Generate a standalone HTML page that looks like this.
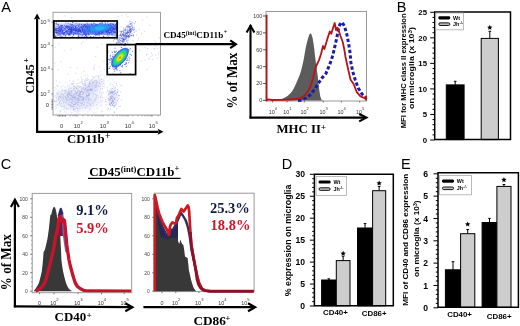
<!DOCTYPE html>
<html><head><meta charset="utf-8"><style>
html,body{margin:0;padding:0;background:#fff;}
body{width:520px;height:326px;overflow:hidden;}
svg{display:block;will-change:transform;}
text{white-space:pre;}
</style></head><body>
<svg width="520" height="326" viewBox="0 0 520 326">
<rect width="520" height="326" fill="#fff"/>
<text x="1.3" y="11.9" style="font-family:'Liberation Sans',sans-serif;font-size:14.5px" fill="#000" text-anchor="start" >A</text>
<text x="396.8" y="11.8" style="font-family:'Liberation Sans',sans-serif;font-size:14.5px" fill="#000" text-anchor="start" >B</text>
<text x="0.8" y="168.9" style="font-family:'Liberation Sans',sans-serif;font-size:14.5px" fill="#000" text-anchor="start" >C</text>
<text x="281.8" y="168.9" style="font-family:'Liberation Sans',sans-serif;font-size:14.5px" fill="#000" text-anchor="start" >D</text>
<text x="400.9" y="168.7" style="font-family:'Liberation Sans',sans-serif;font-size:14.5px" fill="#000" text-anchor="start" >E</text>
<g>
<rect x="120.3" y="26.4" width="1" height="1" fill="#9098d8" fill-opacity="0.45"/>
<rect x="149.1" y="24.7" width="1" height="1" fill="#9098d8" fill-opacity="0.45"/>
<rect x="136.2" y="34.4" width="1" height="1" fill="#9098d8" fill-opacity="0.45"/>
<rect x="77.9" y="23.6" width="1" height="1" fill="#9098d8" fill-opacity="0.45"/>
<rect x="85.8" y="33.4" width="1" height="1" fill="#9098d8" fill-opacity="0.45"/>
<rect x="146.6" y="68.9" width="1" height="1" fill="#9098d8" fill-opacity="0.45"/>
<rect x="54.6" y="46.8" width="1" height="1" fill="#9098d8" fill-opacity="0.45"/>
<rect x="141.1" y="33.1" width="1" height="1" fill="#9098d8" fill-opacity="0.45"/>
<rect x="138.5" y="29.0" width="1" height="1" fill="#9098d8" fill-opacity="0.45"/>
<rect x="103.6" y="69.2" width="1" height="1" fill="#9098d8" fill-opacity="0.45"/>
<rect x="86.1" y="39.2" width="1" height="1" fill="#9098d8" fill-opacity="0.45"/>
<rect x="83.5" y="70.8" width="1" height="1" fill="#9098d8" fill-opacity="0.45"/>
<rect x="81.0" y="43.4" width="1" height="1" fill="#9098d8" fill-opacity="0.45"/>
<rect x="101.2" y="43.7" width="1" height="1" fill="#9098d8" fill-opacity="0.45"/>
<rect x="107.5" y="65.9" width="1" height="1" fill="#9098d8" fill-opacity="0.45"/>
<rect x="112.7" y="56.8" width="1" height="1" fill="#9098d8" fill-opacity="0.45"/>
<rect x="159.5" y="47.3" width="1" height="1" fill="#9098d8" fill-opacity="0.45"/>
<rect x="138.0" y="38.2" width="1" height="1" fill="#9098d8" fill-opacity="0.45"/>
<rect x="120.0" y="64.8" width="1" height="1" fill="#9098d8" fill-opacity="0.45"/>
<rect x="158.8" y="37.3" width="1" height="1" fill="#9098d8" fill-opacity="0.45"/>
<rect x="76.8" y="67.4" width="1" height="1" fill="#9098d8" fill-opacity="0.45"/>
<rect x="71.0" y="17.1" width="1" height="1" fill="#9098d8" fill-opacity="0.45"/>
<rect x="118.9" y="38.4" width="1" height="1" fill="#9098d8" fill-opacity="0.45"/>
<rect x="58.7" y="43.7" width="1" height="1" fill="#9098d8" fill-opacity="0.45"/>
<rect x="57.8" y="69.1" width="1" height="1" fill="#9098d8" fill-opacity="0.45"/>
<rect x="108.6" y="27.8" width="1" height="1" fill="#9098d8" fill-opacity="0.45"/>
<rect x="103.4" y="60.6" width="1" height="1" fill="#9098d8" fill-opacity="0.45"/>
<rect x="151.2" y="52.9" width="1" height="1" fill="#9098d8" fill-opacity="0.45"/>
<rect x="120.7" y="55.3" width="1" height="1" fill="#9098d8" fill-opacity="0.45"/>
<rect x="108.5" y="50.1" width="1" height="1" fill="#9098d8" fill-opacity="0.45"/>
<rect x="106.7" y="70.3" width="1" height="1" fill="#9098d8" fill-opacity="0.45"/>
<rect x="80.2" y="32.6" width="1" height="1" fill="#9098d8" fill-opacity="0.45"/>
<rect x="55.3" y="36.5" width="1" height="1" fill="#9098d8" fill-opacity="0.45"/>
<rect x="74.4" y="25.0" width="1" height="1" fill="#9098d8" fill-opacity="0.45"/>
<rect x="127.4" y="16.0" width="1" height="1" fill="#9098d8" fill-opacity="0.45"/>
<rect x="75.3" y="25.6" width="1" height="1" fill="#9098d8" fill-opacity="0.45"/>
<rect x="93.2" y="67.0" width="1" height="1" fill="#9098d8" fill-opacity="0.45"/>
<rect x="54.4" y="62.6" width="1" height="1" fill="#9098d8" fill-opacity="0.45"/>
<rect x="142.0" y="19.6" width="1" height="1" fill="#9098d8" fill-opacity="0.45"/>
<rect x="70.4" y="48.6" width="1" height="1" fill="#9098d8" fill-opacity="0.45"/>
<rect x="82.4" y="41.3" width="1" height="1" fill="#9098d8" fill-opacity="0.45"/>
<rect x="147.3" y="48.1" width="1" height="1" fill="#9098d8" fill-opacity="0.45"/>
<rect x="108.0" y="51.9" width="1" height="1" fill="#9098d8" fill-opacity="0.45"/>
<rect x="143.8" y="31.1" width="1" height="1" fill="#9098d8" fill-opacity="0.45"/>
<rect x="121.8" y="69.7" width="1" height="1" fill="#9098d8" fill-opacity="0.45"/>
<rect x="132.6" y="40.5" width="1" height="1" fill="#9098d8" fill-opacity="0.45"/>
<rect x="63.7" y="50.1" width="1" height="1" fill="#9098d8" fill-opacity="0.45"/>
<rect x="111.4" y="50.5" width="1" height="1" fill="#9098d8" fill-opacity="0.45"/>
<rect x="107.8" y="23.8" width="1" height="1" fill="#9098d8" fill-opacity="0.45"/>
<rect x="146.4" y="16.7" width="1" height="1" fill="#9098d8" fill-opacity="0.45"/>
<rect x="92.3" y="37.3" width="1" height="1" fill="#9098d8" fill-opacity="0.45"/>
<rect x="117.4" y="58.1" width="1" height="1" fill="#9098d8" fill-opacity="0.45"/>
<rect x="60.3" y="61.1" width="1" height="1" fill="#9098d8" fill-opacity="0.45"/>
<rect x="95.1" y="56.1" width="1" height="1" fill="#9098d8" fill-opacity="0.45"/>
<rect x="88.2" y="19.7" width="1" height="1" fill="#9098d8" fill-opacity="0.45"/>
<rect x="69.9" y="66.9" width="1" height="1" fill="#9098d8" fill-opacity="0.45"/>
<rect x="140.5" y="60.3" width="1" height="1" fill="#9098d8" fill-opacity="0.45"/>
<rect x="94.2" y="64.8" width="1" height="1" fill="#9098d8" fill-opacity="0.45"/>
<rect x="157.7" y="43.9" width="1" height="1" fill="#9098d8" fill-opacity="0.45"/>
<rect x="116.5" y="67.0" width="1" height="1" fill="#9098d8" fill-opacity="0.45"/>
<rect x="118.1" y="15.8" width="1" height="1" fill="#9098d8" fill-opacity="0.45"/>
<rect x="121.6" y="14.8" width="1" height="1" fill="#9098d8" fill-opacity="0.45"/>
<rect x="125.7" y="14.2" width="1" height="1" fill="#9098d8" fill-opacity="0.45"/>
<rect x="70.0" y="27.9" width="1" height="1" fill="#9098d8" fill-opacity="0.45"/>
<rect x="100.7" y="27.7" width="1" height="1" fill="#9098d8" fill-opacity="0.45"/>
<rect x="79.4" y="24.1" width="1" height="1" fill="#9098d8" fill-opacity="0.45"/>
<rect x="96.7" y="46.5" width="1" height="1" fill="#9098d8" fill-opacity="0.45"/>
<rect x="64.3" y="15.3" width="1" height="1" fill="#9098d8" fill-opacity="0.45"/>
<rect x="156.6" y="47.8" width="1" height="1" fill="#9098d8" fill-opacity="0.45"/>
<rect x="76.8" y="22.8" width="1" height="1" fill="#9098d8" fill-opacity="0.45"/>
<rect x="101.7" y="100.5" width="1" height="1" fill="#9098d8" fill-opacity="0.45"/>
<rect x="75.3" y="72.9" width="1" height="1" fill="#9098d8" fill-opacity="0.45"/>
<rect x="116.1" y="85.0" width="1" height="1" fill="#9098d8" fill-opacity="0.45"/>
<rect x="101.0" y="111.4" width="1" height="1" fill="#9098d8" fill-opacity="0.45"/>
<rect x="63.3" y="94.6" width="1" height="1" fill="#9098d8" fill-opacity="0.45"/>
<rect x="114.0" y="106.1" width="1" height="1" fill="#9098d8" fill-opacity="0.45"/>
<rect x="121.1" y="99.6" width="1" height="1" fill="#9098d8" fill-opacity="0.45"/>
<rect x="118.2" y="97.7" width="1" height="1" fill="#9098d8" fill-opacity="0.45"/>
<rect x="94.5" y="80.0" width="1" height="1" fill="#9098d8" fill-opacity="0.45"/>
<rect x="64.3" y="96.1" width="1" height="1" fill="#9098d8" fill-opacity="0.45"/>
<rect x="67.7" y="73.7" width="1" height="1" fill="#9098d8" fill-opacity="0.45"/>
<rect x="119.9" y="105.7" width="1" height="1" fill="#9098d8" fill-opacity="0.45"/>
<rect x="93.2" y="112.3" width="1" height="1" fill="#9098d8" fill-opacity="0.45"/>
<rect x="66.8" y="107.9" width="1" height="1" fill="#9098d8" fill-opacity="0.45"/>
<rect x="116.8" y="74.1" width="1" height="1" fill="#9098d8" fill-opacity="0.45"/>
<rect x="99.6" y="86.2" width="1" height="1" fill="#9098d8" fill-opacity="0.45"/>
<rect x="94.4" y="85.4" width="1" height="1" fill="#9098d8" fill-opacity="0.45"/>
<rect x="80.7" y="76.7" width="1" height="1" fill="#9098d8" fill-opacity="0.45"/>
<rect x="83.2" y="98.3" width="1" height="1" fill="#9098d8" fill-opacity="0.45"/>
<rect x="71.0" y="105.5" width="1" height="1" fill="#9098d8" fill-opacity="0.45"/>
<rect x="56.7" y="85.2" width="1" height="1" fill="#9098d8" fill-opacity="0.45"/>
<rect x="116.2" y="108.2" width="1" height="1" fill="#9098d8" fill-opacity="0.45"/>
<rect x="87.2" y="105.5" width="1" height="1" fill="#9098d8" fill-opacity="0.45"/>
<rect x="92.9" y="77.4" width="1" height="1" fill="#9098d8" fill-opacity="0.45"/>
<rect x="76.9" y="104.2" width="1" height="1" fill="#9098d8" fill-opacity="0.45"/>
<rect x="107.3" y="109.1" width="1" height="1" fill="#9098d8" fill-opacity="0.45"/>
<rect x="55.8" y="80.3" width="1" height="1" fill="#9098d8" fill-opacity="0.45"/>
<rect x="80.4" y="96.1" width="1" height="1" fill="#9098d8" fill-opacity="0.45"/>
<rect x="56.2" y="98.8" width="1" height="1" fill="#9098d8" fill-opacity="0.45"/>
<rect x="62.7" y="97.6" width="1" height="1" fill="#9098d8" fill-opacity="0.45"/>
<rect x="159.2" y="42.1" width="1" height="1" fill="#9098d8" fill-opacity="0.45"/>
<rect x="151.8" y="54.5" width="1" height="1" fill="#9098d8" fill-opacity="0.45"/>
<rect x="146.3" y="53.9" width="1" height="1" fill="#9098d8" fill-opacity="0.45"/>
<rect x="148.6" y="58.1" width="1" height="1" fill="#9098d8" fill-opacity="0.45"/>
<rect x="156.9" y="57.7" width="1" height="1" fill="#9098d8" fill-opacity="0.45"/>
<rect x="144.3" y="47.2" width="1" height="1" fill="#9098d8" fill-opacity="0.45"/>
<rect x="150.2" y="55.9" width="1" height="1" fill="#9098d8" fill-opacity="0.45"/>
<rect x="152.4" y="59.1" width="1" height="1" fill="#9098d8" fill-opacity="0.45"/>
<rect x="144.5" y="59.6" width="1" height="1" fill="#9098d8" fill-opacity="0.45"/>
<rect x="148.5" y="43.6" width="1" height="1" fill="#9098d8" fill-opacity="0.45"/>
<rect x="154.4" y="40.6" width="1" height="1" fill="#9098d8" fill-opacity="0.45"/>
<rect x="157.8" y="54.3" width="1" height="1" fill="#9098d8" fill-opacity="0.45"/>
<rect x="139.6" y="44.7" width="1" height="1" fill="#9098d8" fill-opacity="0.45"/>
<rect x="158.4" y="52.4" width="1" height="1" fill="#9098d8" fill-opacity="0.45"/>
<rect x="136.1" y="60.8" width="1" height="1" fill="#9098d8" fill-opacity="0.45"/>
<rect x="154.1" y="48.3" width="1" height="1" fill="#9098d8" fill-opacity="0.45"/>
<rect x="155.5" y="45.6" width="1" height="1" fill="#9098d8" fill-opacity="0.45"/>
<rect x="139.3" y="50.0" width="1" height="1" fill="#9098d8" fill-opacity="0.45"/>
<rect x="146.1" y="54.5" width="1" height="1" fill="#9098d8" fill-opacity="0.45"/>
<rect x="155.6" y="42.2" width="1" height="1" fill="#9098d8" fill-opacity="0.45"/>
<rect x="136.3" y="48.4" width="1" height="1" fill="#9098d8" fill-opacity="0.45"/>
<rect x="151.1" y="42.9" width="1" height="1" fill="#9098d8" fill-opacity="0.45"/>
<rect x="155.0" y="54.6" width="1" height="1" fill="#9098d8" fill-opacity="0.45"/>
<rect x="148.3" y="58.3" width="1" height="1" fill="#9098d8" fill-opacity="0.45"/>
<rect x="153.4" y="48.3" width="1" height="1" fill="#9098d8" fill-opacity="0.45"/>
<defs><radialGradient id="hz"><stop offset="0" stop-color="#b8bdec" stop-opacity="0.55"/><stop offset="0.6" stop-color="#c8ccf0" stop-opacity="0.35"/><stop offset="1" stop-color="#d0d4f4" stop-opacity="0"/></radialGradient></defs>
<ellipse cx="78" cy="99" rx="30" ry="15" fill="url(#hz)"/>
<ellipse cx="93" cy="86" rx="14" ry="8" fill="url(#hz)" transform="rotate(-25,93,86)"/>
<ellipse cx="113" cy="97" rx="7" ry="11" fill="url(#hz)"/>
<rect x="64.3" y="111.3" width="1.0" height="1.0" fill="#7c84d4" fill-opacity="0.3"/>
<rect x="66.6" y="99.9" width="1.0" height="1.0" fill="#7c84d4" fill-opacity="0.3"/>
<rect x="92.7" y="102.6" width="1.0" height="1.0" fill="#7c84d4" fill-opacity="0.3"/>
<rect x="74.7" y="92.4" width="1.0" height="1.0" fill="#7c84d4" fill-opacity="0.3"/>
<rect x="57.6" y="85.8" width="1.0" height="1.0" fill="#7c84d4" fill-opacity="0.3"/>
<rect x="60.8" y="87.5" width="1.0" height="1.0" fill="#7c84d4" fill-opacity="0.3"/>
<rect x="89.8" y="104.3" width="1.0" height="1.0" fill="#7c84d4" fill-opacity="0.3"/>
<rect x="76.2" y="92.9" width="1.0" height="1.0" fill="#7c84d4" fill-opacity="0.3"/>
<rect x="74.7" y="97.9" width="1.0" height="1.0" fill="#7c84d4" fill-opacity="0.3"/>
<rect x="73.3" y="100.7" width="1.0" height="1.0" fill="#7c84d4" fill-opacity="0.3"/>
<rect x="74.5" y="104.0" width="1.0" height="1.0" fill="#7c84d4" fill-opacity="0.3"/>
<rect x="85.3" y="96.3" width="1.0" height="1.0" fill="#7c84d4" fill-opacity="0.3"/>
<rect x="81.7" y="103.0" width="1.0" height="1.0" fill="#7c84d4" fill-opacity="0.3"/>
<rect x="77.0" y="91.9" width="1.0" height="1.0" fill="#7c84d4" fill-opacity="0.3"/>
<rect x="59.4" y="96.1" width="1.0" height="1.0" fill="#7c84d4" fill-opacity="0.3"/>
<rect x="81.2" y="90.8" width="1.0" height="1.0" fill="#7c84d4" fill-opacity="0.3"/>
<rect x="64.4" y="108.1" width="1.0" height="1.0" fill="#7c84d4" fill-opacity="0.3"/>
<rect x="89.3" y="98.8" width="1.0" height="1.0" fill="#7c84d4" fill-opacity="0.3"/>
<rect x="56.2" y="93.1" width="1.0" height="1.0" fill="#7c84d4" fill-opacity="0.3"/>
<rect x="72.1" y="96.2" width="1.0" height="1.0" fill="#7c84d4" fill-opacity="0.3"/>
<rect x="73.9" y="97.2" width="1.0" height="1.0" fill="#7c84d4" fill-opacity="0.3"/>
<rect x="55.5" y="104.6" width="1.0" height="1.0" fill="#7c84d4" fill-opacity="0.3"/>
<rect x="98.1" y="86.2" width="1.0" height="1.0" fill="#7c84d4" fill-opacity="0.3"/>
<rect x="94.4" y="90.7" width="1.0" height="1.0" fill="#7c84d4" fill-opacity="0.3"/>
<rect x="67.5" y="96.0" width="1.0" height="1.0" fill="#7c84d4" fill-opacity="0.3"/>
<rect x="79.3" y="106.6" width="1.0" height="1.0" fill="#7c84d4" fill-opacity="0.3"/>
<rect x="77.5" y="104.7" width="1.0" height="1.0" fill="#7c84d4" fill-opacity="0.3"/>
<rect x="75.2" y="97.1" width="1.0" height="1.0" fill="#7c84d4" fill-opacity="0.3"/>
<rect x="58.9" y="96.1" width="1.0" height="1.0" fill="#7c84d4" fill-opacity="0.3"/>
<rect x="70.2" y="108.7" width="1.0" height="1.0" fill="#7c84d4" fill-opacity="0.3"/>
<rect x="71.5" y="103.0" width="1.0" height="1.0" fill="#7c84d4" fill-opacity="0.3"/>
<rect x="90.6" y="104.4" width="1.0" height="1.0" fill="#7c84d4" fill-opacity="0.3"/>
<rect x="78.7" y="94.9" width="1.0" height="1.0" fill="#7c84d4" fill-opacity="0.3"/>
<rect x="73.9" y="114.4" width="1.0" height="1.0" fill="#7c84d4" fill-opacity="0.3"/>
<rect x="95.4" y="112.7" width="1.0" height="1.0" fill="#7c84d4" fill-opacity="0.3"/>
<rect x="66.2" y="103.5" width="1.0" height="1.0" fill="#7c84d4" fill-opacity="0.3"/>
<rect x="68.5" y="104.5" width="1.0" height="1.0" fill="#7c84d4" fill-opacity="0.3"/>
<rect x="96.0" y="104.1" width="1.0" height="1.0" fill="#7c84d4" fill-opacity="0.3"/>
<rect x="87.5" y="97.4" width="1.0" height="1.0" fill="#7c84d4" fill-opacity="0.3"/>
<rect x="86.8" y="102.5" width="1.0" height="1.0" fill="#7c84d4" fill-opacity="0.3"/>
<rect x="83.4" y="104.5" width="1.0" height="1.0" fill="#7c84d4" fill-opacity="0.3"/>
<rect x="75.5" y="96.3" width="1.0" height="1.0" fill="#7c84d4" fill-opacity="0.3"/>
<rect x="77.0" y="85.5" width="1.0" height="1.0" fill="#7c84d4" fill-opacity="0.3"/>
<rect x="70.5" y="101.9" width="1.0" height="1.0" fill="#7c84d4" fill-opacity="0.3"/>
<rect x="71.1" y="93.1" width="1.0" height="1.0" fill="#7c84d4" fill-opacity="0.3"/>
<rect x="74.8" y="96.4" width="1.0" height="1.0" fill="#7c84d4" fill-opacity="0.3"/>
<rect x="95.2" y="94.2" width="1.0" height="1.0" fill="#7c84d4" fill-opacity="0.3"/>
<rect x="81.8" y="96.3" width="1.0" height="1.0" fill="#7c84d4" fill-opacity="0.3"/>
<rect x="73.2" y="80.5" width="1.0" height="1.0" fill="#7c84d4" fill-opacity="0.3"/>
<rect x="65.9" y="108.7" width="1.0" height="1.0" fill="#7c84d4" fill-opacity="0.3"/>
<rect x="65.1" y="101.0" width="1.0" height="1.0" fill="#7c84d4" fill-opacity="0.3"/>
<rect x="96.4" y="107.9" width="1.0" height="1.0" fill="#7c84d4" fill-opacity="0.3"/>
<rect x="74.9" y="99.2" width="1.0" height="1.0" fill="#7c84d4" fill-opacity="0.3"/>
<rect x="69.2" y="84.6" width="1.0" height="1.0" fill="#7c84d4" fill-opacity="0.3"/>
<rect x="58.5" y="91.8" width="1.0" height="1.0" fill="#7c84d4" fill-opacity="0.3"/>
<rect x="73.1" y="89.3" width="1.0" height="1.0" fill="#7c84d4" fill-opacity="0.3"/>
<rect x="86.2" y="95.0" width="1.0" height="1.0" fill="#7c84d4" fill-opacity="0.3"/>
<rect x="68.5" y="99.6" width="1.0" height="1.0" fill="#7c84d4" fill-opacity="0.3"/>
<rect x="70.8" y="83.0" width="1.0" height="1.0" fill="#7c84d4" fill-opacity="0.3"/>
<rect x="70.9" y="101.7" width="1.0" height="1.0" fill="#7c84d4" fill-opacity="0.3"/>
<rect x="75.5" y="86.9" width="1.0" height="1.0" fill="#7c84d4" fill-opacity="0.3"/>
<rect x="70.7" y="98.1" width="1.0" height="1.0" fill="#7c84d4" fill-opacity="0.3"/>
<rect x="62.0" y="96.5" width="1.0" height="1.0" fill="#7c84d4" fill-opacity="0.3"/>
<rect x="86.4" y="98.4" width="1.0" height="1.0" fill="#7c84d4" fill-opacity="0.3"/>
<rect x="63.2" y="94.7" width="1.0" height="1.0" fill="#7c84d4" fill-opacity="0.3"/>
<rect x="82.1" y="94.1" width="1.0" height="1.0" fill="#7c84d4" fill-opacity="0.3"/>
<rect x="95.3" y="85.5" width="1.0" height="1.0" fill="#7c84d4" fill-opacity="0.3"/>
<rect x="69.6" y="98.8" width="1.0" height="1.0" fill="#7c84d4" fill-opacity="0.3"/>
<rect x="65.6" y="113.8" width="1.0" height="1.0" fill="#7c84d4" fill-opacity="0.3"/>
<rect x="74.0" y="109.6" width="1.0" height="1.0" fill="#7c84d4" fill-opacity="0.3"/>
<rect x="60.1" y="104.6" width="1.0" height="1.0" fill="#7c84d4" fill-opacity="0.3"/>
<rect x="80.5" y="93.6" width="1.0" height="1.0" fill="#7c84d4" fill-opacity="0.3"/>
<rect x="102.2" y="110.5" width="1.0" height="1.0" fill="#7c84d4" fill-opacity="0.3"/>
<rect x="70.4" y="98.6" width="1.0" height="1.0" fill="#7c84d4" fill-opacity="0.3"/>
<rect x="71.2" y="98.4" width="1.0" height="1.0" fill="#7c84d4" fill-opacity="0.3"/>
<rect x="59.4" y="96.7" width="1.0" height="1.0" fill="#7c84d4" fill-opacity="0.3"/>
<rect x="78.5" y="99.7" width="1.0" height="1.0" fill="#7c84d4" fill-opacity="0.3"/>
<rect x="56.5" y="95.5" width="1.0" height="1.0" fill="#7c84d4" fill-opacity="0.3"/>
<rect x="58.5" y="98.3" width="1.0" height="1.0" fill="#7c84d4" fill-opacity="0.3"/>
<rect x="91.9" y="90.3" width="1.0" height="1.0" fill="#7c84d4" fill-opacity="0.3"/>
<rect x="61.3" y="96.0" width="1.0" height="1.0" fill="#7c84d4" fill-opacity="0.3"/>
<rect x="95.3" y="98.4" width="1.0" height="1.0" fill="#7c84d4" fill-opacity="0.3"/>
<rect x="77.6" y="97.1" width="1.0" height="1.0" fill="#7c84d4" fill-opacity="0.3"/>
<rect x="81.7" y="103.3" width="1.0" height="1.0" fill="#7c84d4" fill-opacity="0.3"/>
<rect x="101.3" y="104.7" width="1.0" height="1.0" fill="#7c84d4" fill-opacity="0.3"/>
<rect x="71.2" y="90.1" width="1.0" height="1.0" fill="#7c84d4" fill-opacity="0.3"/>
<rect x="65.7" y="97.3" width="1.0" height="1.0" fill="#7c84d4" fill-opacity="0.3"/>
<rect x="55.1" y="106.3" width="1.0" height="1.0" fill="#7c84d4" fill-opacity="0.3"/>
<rect x="74.6" y="101.2" width="1.0" height="1.0" fill="#7c84d4" fill-opacity="0.3"/>
<rect x="94.7" y="100.0" width="1.0" height="1.0" fill="#7c84d4" fill-opacity="0.3"/>
<rect x="87.4" y="111.4" width="1.0" height="1.0" fill="#7c84d4" fill-opacity="0.3"/>
<rect x="60.8" y="93.6" width="1.0" height="1.0" fill="#7c84d4" fill-opacity="0.3"/>
<rect x="62.0" y="99.7" width="1.0" height="1.0" fill="#7c84d4" fill-opacity="0.3"/>
<rect x="66.9" y="94.8" width="1.0" height="1.0" fill="#7c84d4" fill-opacity="0.3"/>
<rect x="78.1" y="110.9" width="1.0" height="1.0" fill="#7c84d4" fill-opacity="0.3"/>
<rect x="71.1" y="83.4" width="1.0" height="1.0" fill="#7c84d4" fill-opacity="0.3"/>
<rect x="77.0" y="93.6" width="1.0" height="1.0" fill="#7c84d4" fill-opacity="0.3"/>
<rect x="78.2" y="94.8" width="1.0" height="1.0" fill="#7c84d4" fill-opacity="0.3"/>
<rect x="69.8" y="104.3" width="1.0" height="1.0" fill="#7c84d4" fill-opacity="0.3"/>
<rect x="73.4" y="103.9" width="1.0" height="1.0" fill="#7c84d4" fill-opacity="0.3"/>
<rect x="76.9" y="110.2" width="1.0" height="1.0" fill="#7c84d4" fill-opacity="0.3"/>
<rect x="72.8" y="86.4" width="1.0" height="1.0" fill="#7c84d4" fill-opacity="0.3"/>
<rect x="81.0" y="105.0" width="1.0" height="1.0" fill="#7c84d4" fill-opacity="0.3"/>
<rect x="100.2" y="96.7" width="1.0" height="1.0" fill="#7c84d4" fill-opacity="0.3"/>
<rect x="82.3" y="93.7" width="1.0" height="1.0" fill="#7c84d4" fill-opacity="0.3"/>
<rect x="74.8" y="103.3" width="1.0" height="1.0" fill="#7c84d4" fill-opacity="0.3"/>
<rect x="79.4" y="82.4" width="1.0" height="1.0" fill="#7c84d4" fill-opacity="0.3"/>
<rect x="54.3" y="87.0" width="1.0" height="1.0" fill="#7c84d4" fill-opacity="0.3"/>
<rect x="86.0" y="93.8" width="1.0" height="1.0" fill="#7c84d4" fill-opacity="0.3"/>
<rect x="83.9" y="102.0" width="1.0" height="1.0" fill="#7c84d4" fill-opacity="0.3"/>
<rect x="71.9" y="101.5" width="1.0" height="1.0" fill="#7c84d4" fill-opacity="0.3"/>
<rect x="68.8" y="97.4" width="1.0" height="1.0" fill="#7c84d4" fill-opacity="0.3"/>
<rect x="64.5" y="86.7" width="1.0" height="1.0" fill="#7c84d4" fill-opacity="0.3"/>
<rect x="82.9" y="93.0" width="1.0" height="1.0" fill="#7c84d4" fill-opacity="0.3"/>
<rect x="105.6" y="91.6" width="1.0" height="1.0" fill="#7c84d4" fill-opacity="0.3"/>
<rect x="77.0" y="89.3" width="1.0" height="1.0" fill="#7c84d4" fill-opacity="0.3"/>
<rect x="63.1" y="102.5" width="1.0" height="1.0" fill="#7c84d4" fill-opacity="0.3"/>
<rect x="57.6" y="93.8" width="1.0" height="1.0" fill="#7c84d4" fill-opacity="0.3"/>
<rect x="73.2" y="83.2" width="1.0" height="1.0" fill="#7c84d4" fill-opacity="0.3"/>
<rect x="71.5" y="104.6" width="1.0" height="1.0" fill="#7c84d4" fill-opacity="0.3"/>
<rect x="57.9" y="98.1" width="1.0" height="1.0" fill="#7c84d4" fill-opacity="0.3"/>
<rect x="75.6" y="101.9" width="1.0" height="1.0" fill="#7c84d4" fill-opacity="0.3"/>
<rect x="57.9" y="99.8" width="1.0" height="1.0" fill="#7c84d4" fill-opacity="0.3"/>
<rect x="89.6" y="104.1" width="1.0" height="1.0" fill="#7c84d4" fill-opacity="0.3"/>
<rect x="88.9" y="99.3" width="1.0" height="1.0" fill="#7c84d4" fill-opacity="0.3"/>
<rect x="89.2" y="108.9" width="1.0" height="1.0" fill="#7c84d4" fill-opacity="0.3"/>
<rect x="67.4" y="102.4" width="1.0" height="1.0" fill="#7c84d4" fill-opacity="0.3"/>
<rect x="81.2" y="102.1" width="1.0" height="1.0" fill="#7c84d4" fill-opacity="0.3"/>
<rect x="72.2" y="102.3" width="1.0" height="1.0" fill="#7c84d4" fill-opacity="0.3"/>
<rect x="68.6" y="87.3" width="1.0" height="1.0" fill="#7c84d4" fill-opacity="0.3"/>
<rect x="69.3" y="97.7" width="1.0" height="1.0" fill="#7c84d4" fill-opacity="0.3"/>
<rect x="55.8" y="96.9" width="1.0" height="1.0" fill="#7c84d4" fill-opacity="0.3"/>
<rect x="53.8" y="100.7" width="1.0" height="1.0" fill="#7c84d4" fill-opacity="0.3"/>
<rect x="85.1" y="88.1" width="1.0" height="1.0" fill="#7c84d4" fill-opacity="0.3"/>
<rect x="71.3" y="112.1" width="1.0" height="1.0" fill="#7c84d4" fill-opacity="0.3"/>
<rect x="77.0" y="99.8" width="1.0" height="1.0" fill="#7c84d4" fill-opacity="0.3"/>
<rect x="88.0" y="89.3" width="1.0" height="1.0" fill="#7c84d4" fill-opacity="0.3"/>
<rect x="63.0" y="96.7" width="1.0" height="1.0" fill="#7c84d4" fill-opacity="0.3"/>
<rect x="76.5" y="98.3" width="1.0" height="1.0" fill="#7c84d4" fill-opacity="0.3"/>
<rect x="79.5" y="93.3" width="1.0" height="1.0" fill="#7c84d4" fill-opacity="0.3"/>
<rect x="68.7" y="99.7" width="1.0" height="1.0" fill="#7c84d4" fill-opacity="0.3"/>
<rect x="88.4" y="93.9" width="1.0" height="1.0" fill="#7c84d4" fill-opacity="0.3"/>
<rect x="76.9" y="103.4" width="1.0" height="1.0" fill="#7c84d4" fill-opacity="0.3"/>
<rect x="57.0" y="93.2" width="1.0" height="1.0" fill="#7c84d4" fill-opacity="0.3"/>
<rect x="61.0" y="98.7" width="1.0" height="1.0" fill="#7c84d4" fill-opacity="0.3"/>
<rect x="85.3" y="106.8" width="1.0" height="1.0" fill="#7c84d4" fill-opacity="0.3"/>
<rect x="92.9" y="95.3" width="1.0" height="1.0" fill="#7c84d4" fill-opacity="0.3"/>
<rect x="82.4" y="92.3" width="1.0" height="1.0" fill="#7c84d4" fill-opacity="0.3"/>
<rect x="92.8" y="105.3" width="1.0" height="1.0" fill="#7c84d4" fill-opacity="0.3"/>
<rect x="68.6" y="89.8" width="1.0" height="1.0" fill="#7c84d4" fill-opacity="0.3"/>
<rect x="69.9" y="95.1" width="1.0" height="1.0" fill="#7c84d4" fill-opacity="0.3"/>
<rect x="58.2" y="98.8" width="1.0" height="1.0" fill="#7c84d4" fill-opacity="0.3"/>
<rect x="109.5" y="91.2" width="1.0" height="1.0" fill="#7c84d4" fill-opacity="0.3"/>
<rect x="71.5" y="91.3" width="1.0" height="1.0" fill="#7c84d4" fill-opacity="0.3"/>
<rect x="96.2" y="95.2" width="1.0" height="1.0" fill="#7c84d4" fill-opacity="0.3"/>
<rect x="64.9" y="82.2" width="1.0" height="1.0" fill="#7c84d4" fill-opacity="0.3"/>
<rect x="76.3" y="87.4" width="1.0" height="1.0" fill="#7c84d4" fill-opacity="0.3"/>
<rect x="68.6" y="100.2" width="1.0" height="1.0" fill="#7c84d4" fill-opacity="0.3"/>
<rect x="87.8" y="97.5" width="1.0" height="1.0" fill="#7c84d4" fill-opacity="0.3"/>
<rect x="56.5" y="84.8" width="1.0" height="1.0" fill="#7c84d4" fill-opacity="0.3"/>
<rect x="89.0" y="95.3" width="1.0" height="1.0" fill="#7c84d4" fill-opacity="0.3"/>
<rect x="78.7" y="105.4" width="1.0" height="1.0" fill="#7c84d4" fill-opacity="0.3"/>
<rect x="59.4" y="103.4" width="1.0" height="1.0" fill="#7c84d4" fill-opacity="0.3"/>
<rect x="67.0" y="98.4" width="1.0" height="1.0" fill="#7c84d4" fill-opacity="0.3"/>
<rect x="67.6" y="91.9" width="1.0" height="1.0" fill="#7c84d4" fill-opacity="0.3"/>
<rect x="73.3" y="104.0" width="1.0" height="1.0" fill="#7c84d4" fill-opacity="0.3"/>
<rect x="66.5" y="94.4" width="1.0" height="1.0" fill="#7c84d4" fill-opacity="0.3"/>
<rect x="62.4" y="89.6" width="1.0" height="1.0" fill="#7c84d4" fill-opacity="0.3"/>
<rect x="69.7" y="92.6" width="1.0" height="1.0" fill="#7c84d4" fill-opacity="0.3"/>
<rect x="59.6" y="110.6" width="1.0" height="1.0" fill="#7c84d4" fill-opacity="0.3"/>
<rect x="55.9" y="100.8" width="1.0" height="1.0" fill="#7c84d4" fill-opacity="0.3"/>
<rect x="73.3" y="108.3" width="1.0" height="1.0" fill="#7c84d4" fill-opacity="0.3"/>
<rect x="86.4" y="95.2" width="1.0" height="1.0" fill="#7c84d4" fill-opacity="0.3"/>
<rect x="74.0" y="94.2" width="1.0" height="1.0" fill="#7c84d4" fill-opacity="0.3"/>
<rect x="64.9" y="97.7" width="1.0" height="1.0" fill="#7c84d4" fill-opacity="0.3"/>
<rect x="85.9" y="105.1" width="1.0" height="1.0" fill="#7c84d4" fill-opacity="0.3"/>
<rect x="66.7" y="95.0" width="1.0" height="1.0" fill="#7c84d4" fill-opacity="0.3"/>
<rect x="95.0" y="98.3" width="1.0" height="1.0" fill="#7c84d4" fill-opacity="0.3"/>
<rect x="63.1" y="101.6" width="1.0" height="1.0" fill="#7c84d4" fill-opacity="0.3"/>
<rect x="79.4" y="108.7" width="1.0" height="1.0" fill="#7c84d4" fill-opacity="0.3"/>
<rect x="70.8" y="95.1" width="1.0" height="1.0" fill="#7c84d4" fill-opacity="0.3"/>
<rect x="63.4" y="85.1" width="1.0" height="1.0" fill="#7c84d4" fill-opacity="0.3"/>
<rect x="82.2" y="96.8" width="1.0" height="1.0" fill="#7c84d4" fill-opacity="0.3"/>
<rect x="71.8" y="99.1" width="1.0" height="1.0" fill="#7c84d4" fill-opacity="0.3"/>
<rect x="82.4" y="99.9" width="1.0" height="1.0" fill="#7c84d4" fill-opacity="0.3"/>
<rect x="73.3" y="109.5" width="1.0" height="1.0" fill="#7c84d4" fill-opacity="0.3"/>
<rect x="58.8" y="101.5" width="1.0" height="1.0" fill="#7c84d4" fill-opacity="0.3"/>
<rect x="72.6" y="105.5" width="1.0" height="1.0" fill="#7c84d4" fill-opacity="0.3"/>
<rect x="74.7" y="90.2" width="1.0" height="1.0" fill="#7c84d4" fill-opacity="0.3"/>
<rect x="87.4" y="105.9" width="1.0" height="1.0" fill="#7c84d4" fill-opacity="0.3"/>
<rect x="73.4" y="105.2" width="1.0" height="1.0" fill="#7c84d4" fill-opacity="0.3"/>
<rect x="83.1" y="100.2" width="1.0" height="1.0" fill="#7c84d4" fill-opacity="0.3"/>
<rect x="58.9" y="113.3" width="1.0" height="1.0" fill="#7c84d4" fill-opacity="0.3"/>
<rect x="73.2" y="98.1" width="1.0" height="1.0" fill="#7c84d4" fill-opacity="0.3"/>
<rect x="89.5" y="102.7" width="1.0" height="1.0" fill="#7c84d4" fill-opacity="0.3"/>
<rect x="58.8" y="95.5" width="1.0" height="1.0" fill="#7c84d4" fill-opacity="0.3"/>
<rect x="63.6" y="101.5" width="1.0" height="1.0" fill="#7c84d4" fill-opacity="0.3"/>
<rect x="58.2" y="96.8" width="1.0" height="1.0" fill="#7c84d4" fill-opacity="0.3"/>
<rect x="79.3" y="100.0" width="1.0" height="1.0" fill="#7c84d4" fill-opacity="0.3"/>
<rect x="62.7" y="97.9" width="1.0" height="1.0" fill="#7c84d4" fill-opacity="0.3"/>
<rect x="63.9" y="89.9" width="1.0" height="1.0" fill="#7c84d4" fill-opacity="0.3"/>
<rect x="82.2" y="98.8" width="1.0" height="1.0" fill="#7c84d4" fill-opacity="0.3"/>
<rect x="63.4" y="106.0" width="1.0" height="1.0" fill="#7c84d4" fill-opacity="0.3"/>
<rect x="80.1" y="91.3" width="1.0" height="1.0" fill="#7c84d4" fill-opacity="0.3"/>
<rect x="60.4" y="97.1" width="1.0" height="1.0" fill="#7c84d4" fill-opacity="0.3"/>
<rect x="57.0" y="104.3" width="1.0" height="1.0" fill="#7c84d4" fill-opacity="0.3"/>
<rect x="100.1" y="100.5" width="1.0" height="1.0" fill="#7c84d4" fill-opacity="0.3"/>
<rect x="69.5" y="90.5" width="1.0" height="1.0" fill="#7c84d4" fill-opacity="0.3"/>
<rect x="77.4" y="108.1" width="1.0" height="1.0" fill="#7c84d4" fill-opacity="0.3"/>
<rect x="74.7" y="97.2" width="1.0" height="1.0" fill="#7c84d4" fill-opacity="0.3"/>
<rect x="100.7" y="104.9" width="1.0" height="1.0" fill="#7c84d4" fill-opacity="0.3"/>
<rect x="59.5" y="100.0" width="1.0" height="1.0" fill="#7c84d4" fill-opacity="0.3"/>
<rect x="59.8" y="111.4" width="1.0" height="1.0" fill="#7c84d4" fill-opacity="0.3"/>
<rect x="55.3" y="88.4" width="1.0" height="1.0" fill="#7c84d4" fill-opacity="0.3"/>
<rect x="84.5" y="107.4" width="1.0" height="1.0" fill="#7c84d4" fill-opacity="0.3"/>
<rect x="85.5" y="98.6" width="1.0" height="1.0" fill="#7c84d4" fill-opacity="0.3"/>
<rect x="60.5" y="110.3" width="1.0" height="1.0" fill="#7c84d4" fill-opacity="0.3"/>
<rect x="54.5" y="100.5" width="1.0" height="1.0" fill="#7c84d4" fill-opacity="0.3"/>
<rect x="69.0" y="93.6" width="1.0" height="1.0" fill="#7c84d4" fill-opacity="0.3"/>
<rect x="93.5" y="101.2" width="1.0" height="1.0" fill="#7c84d4" fill-opacity="0.3"/>
<rect x="81.4" y="99.3" width="1.0" height="1.0" fill="#7c84d4" fill-opacity="0.3"/>
<rect x="58.9" y="102.9" width="1.0" height="1.0" fill="#7c84d4" fill-opacity="0.3"/>
<rect x="88.6" y="94.8" width="1.0" height="1.0" fill="#7c84d4" fill-opacity="0.3"/>
<rect x="58.9" y="81.9" width="1.0" height="1.0" fill="#7c84d4" fill-opacity="0.3"/>
<rect x="70.0" y="106.2" width="1.0" height="1.0" fill="#7c84d4" fill-opacity="0.3"/>
<rect x="60.3" y="100.2" width="1.0" height="1.0" fill="#7c84d4" fill-opacity="0.3"/>
<rect x="93.4" y="99.5" width="1.0" height="1.0" fill="#7c84d4" fill-opacity="0.3"/>
<rect x="85.5" y="107.3" width="1.0" height="1.0" fill="#7c84d4" fill-opacity="0.3"/>
<rect x="68.4" y="95.3" width="1.0" height="1.0" fill="#7c84d4" fill-opacity="0.3"/>
<rect x="61.8" y="93.3" width="1.0" height="1.0" fill="#7c84d4" fill-opacity="0.3"/>
<rect x="68.5" y="108.5" width="1.0" height="1.0" fill="#7c84d4" fill-opacity="0.3"/>
<rect x="73.6" y="87.9" width="1.0" height="1.0" fill="#7c84d4" fill-opacity="0.3"/>
<rect x="72.8" y="108.5" width="1.0" height="1.0" fill="#7c84d4" fill-opacity="0.3"/>
<rect x="72.7" y="93.9" width="1.0" height="1.0" fill="#7c84d4" fill-opacity="0.3"/>
<rect x="58.3" y="90.2" width="1.0" height="1.0" fill="#7c84d4" fill-opacity="0.3"/>
<rect x="73.1" y="109.1" width="1.0" height="1.0" fill="#7c84d4" fill-opacity="0.3"/>
<rect x="73.5" y="98.2" width="1.0" height="1.0" fill="#7c84d4" fill-opacity="0.3"/>
<rect x="92.1" y="88.6" width="1.0" height="1.0" fill="#7c84d4" fill-opacity="0.3"/>
<rect x="100.1" y="96.1" width="1.0" height="1.0" fill="#7c84d4" fill-opacity="0.3"/>
<rect x="72.1" y="106.4" width="1.0" height="1.0" fill="#7c84d4" fill-opacity="0.3"/>
<rect x="63.3" y="108.5" width="1.0" height="1.0" fill="#7c84d4" fill-opacity="0.3"/>
<rect x="73.1" y="95.6" width="1.0" height="1.0" fill="#7c84d4" fill-opacity="0.3"/>
<rect x="65.5" y="102.3" width="1.0" height="1.0" fill="#7c84d4" fill-opacity="0.3"/>
<rect x="63.6" y="104.7" width="1.0" height="1.0" fill="#7c84d4" fill-opacity="0.3"/>
<rect x="73.2" y="93.8" width="1.0" height="1.0" fill="#7c84d4" fill-opacity="0.3"/>
<rect x="59.4" y="101.8" width="1.0" height="1.0" fill="#7c84d4" fill-opacity="0.3"/>
<rect x="82.5" y="98.7" width="1.0" height="1.0" fill="#7c84d4" fill-opacity="0.3"/>
<rect x="72.5" y="94.7" width="1.0" height="1.0" fill="#7c84d4" fill-opacity="0.3"/>
<rect x="77.5" y="95.1" width="1.0" height="1.0" fill="#7c84d4" fill-opacity="0.3"/>
<rect x="71.4" y="99.5" width="1.0" height="1.0" fill="#7c84d4" fill-opacity="0.3"/>
<rect x="63.8" y="99.2" width="1.0" height="1.0" fill="#7c84d4" fill-opacity="0.3"/>
<rect x="60.7" y="94.5" width="1.0" height="1.0" fill="#7c84d4" fill-opacity="0.3"/>
<rect x="70.7" y="95.6" width="1.0" height="1.0" fill="#7c84d4" fill-opacity="0.3"/>
<rect x="66.3" y="107.9" width="1.0" height="1.0" fill="#7c84d4" fill-opacity="0.3"/>
<rect x="77.3" y="100.7" width="1.0" height="1.0" fill="#7c84d4" fill-opacity="0.3"/>
<rect x="73.9" y="106.1" width="1.0" height="1.0" fill="#7c84d4" fill-opacity="0.3"/>
<rect x="54.9" y="108.6" width="1.0" height="1.0" fill="#7c84d4" fill-opacity="0.3"/>
<rect x="74.9" y="103.7" width="1.0" height="1.0" fill="#7c84d4" fill-opacity="0.3"/>
<rect x="65.4" y="92.4" width="1.0" height="1.0" fill="#7c84d4" fill-opacity="0.3"/>
<rect x="69.9" y="105.5" width="1.0" height="1.0" fill="#7c84d4" fill-opacity="0.3"/>
<rect x="75.3" y="113.8" width="1.0" height="1.0" fill="#7c84d4" fill-opacity="0.3"/>
<rect x="76.1" y="112.6" width="1.0" height="1.0" fill="#7c84d4" fill-opacity="0.3"/>
<rect x="71.8" y="83.4" width="1.0" height="1.0" fill="#7c84d4" fill-opacity="0.3"/>
<rect x="68.1" y="91.2" width="1.0" height="1.0" fill="#7c84d4" fill-opacity="0.3"/>
<rect x="68.8" y="104.3" width="1.0" height="1.0" fill="#7c84d4" fill-opacity="0.3"/>
<rect x="60.3" y="105.3" width="1.0" height="1.0" fill="#7c84d4" fill-opacity="0.3"/>
<rect x="70.2" y="104.9" width="1.0" height="1.0" fill="#7c84d4" fill-opacity="0.3"/>
<rect x="66.3" y="98.4" width="1.0" height="1.0" fill="#7c84d4" fill-opacity="0.3"/>
<rect x="75.3" y="102.6" width="1.0" height="1.0" fill="#7c84d4" fill-opacity="0.3"/>
<rect x="57.1" y="104.2" width="1.0" height="1.0" fill="#7c84d4" fill-opacity="0.3"/>
<rect x="77.3" y="98.4" width="1.0" height="1.0" fill="#7c84d4" fill-opacity="0.3"/>
<rect x="76.0" y="107.2" width="1.0" height="1.0" fill="#7c84d4" fill-opacity="0.3"/>
<rect x="72.0" y="80.9" width="1.0" height="1.0" fill="#7c84d4" fill-opacity="0.3"/>
<rect x="67.9" y="104.1" width="1.0" height="1.0" fill="#7c84d4" fill-opacity="0.3"/>
<rect x="81.7" y="90.7" width="1.0" height="1.0" fill="#7c84d4" fill-opacity="0.3"/>
<rect x="80.4" y="97.2" width="1.0" height="1.0" fill="#7c84d4" fill-opacity="0.3"/>
<rect x="77.4" y="91.9" width="1.0" height="1.0" fill="#7c84d4" fill-opacity="0.3"/>
<rect x="78.0" y="102.0" width="1.0" height="1.0" fill="#7c84d4" fill-opacity="0.3"/>
<rect x="79.4" y="91.7" width="1.0" height="1.0" fill="#7c84d4" fill-opacity="0.3"/>
<rect x="64.8" y="91.7" width="1.0" height="1.0" fill="#7c84d4" fill-opacity="0.3"/>
<rect x="70.4" y="86.5" width="1.0" height="1.0" fill="#7c84d4" fill-opacity="0.3"/>
<rect x="82.9" y="98.8" width="1.0" height="1.0" fill="#7c84d4" fill-opacity="0.3"/>
<rect x="80.0" y="103.0" width="1.0" height="1.0" fill="#7c84d4" fill-opacity="0.3"/>
<rect x="76.9" y="107.2" width="1.0" height="1.0" fill="#7c84d4" fill-opacity="0.3"/>
<rect x="81.5" y="107.4" width="1.0" height="1.0" fill="#7c84d4" fill-opacity="0.3"/>
<rect x="90.4" y="99.1" width="1.0" height="1.0" fill="#7c84d4" fill-opacity="0.3"/>
<rect x="88.1" y="98.3" width="1.0" height="1.0" fill="#7c84d4" fill-opacity="0.3"/>
<rect x="77.3" y="103.6" width="1.0" height="1.0" fill="#7c84d4" fill-opacity="0.3"/>
<rect x="87.2" y="96.3" width="1.0" height="1.0" fill="#7c84d4" fill-opacity="0.3"/>
<rect x="71.9" y="97.0" width="1.0" height="1.0" fill="#7c84d4" fill-opacity="0.3"/>
<rect x="79.3" y="99.7" width="1.0" height="1.0" fill="#7c84d4" fill-opacity="0.3"/>
<rect x="55.8" y="107.2" width="1.0" height="1.0" fill="#7c84d4" fill-opacity="0.3"/>
<rect x="65.1" y="95.8" width="1.0" height="1.0" fill="#7c84d4" fill-opacity="0.3"/>
<rect x="91.8" y="102.7" width="1.0" height="1.0" fill="#7c84d4" fill-opacity="0.3"/>
<rect x="68.8" y="92.4" width="1.0" height="1.0" fill="#7c84d4" fill-opacity="0.3"/>
<rect x="77.8" y="101.9" width="1.0" height="1.0" fill="#7c84d4" fill-opacity="0.3"/>
<rect x="98.5" y="102.1" width="1.0" height="1.0" fill="#7c84d4" fill-opacity="0.3"/>
<rect x="96.3" y="95.6" width="1.0" height="1.0" fill="#7c84d4" fill-opacity="0.3"/>
<rect x="70.6" y="102.0" width="1.0" height="1.0" fill="#7c84d4" fill-opacity="0.3"/>
<rect x="56.3" y="113.2" width="1.0" height="1.0" fill="#7c84d4" fill-opacity="0.3"/>
<rect x="64.3" y="106.7" width="1.0" height="1.0" fill="#7c84d4" fill-opacity="0.3"/>
<rect x="80.0" y="93.7" width="1.0" height="1.0" fill="#7c84d4" fill-opacity="0.3"/>
<rect x="79.5" y="95.9" width="1.0" height="1.0" fill="#7c84d4" fill-opacity="0.3"/>
<rect x="75.5" y="102.5" width="1.0" height="1.0" fill="#7c84d4" fill-opacity="0.3"/>
<rect x="87.9" y="99.5" width="1.0" height="1.0" fill="#7c84d4" fill-opacity="0.3"/>
<rect x="63.2" y="99.4" width="1.0" height="1.0" fill="#7c84d4" fill-opacity="0.3"/>
<rect x="73.2" y="96.7" width="1.0" height="1.0" fill="#7c84d4" fill-opacity="0.3"/>
<rect x="84.2" y="84.5" width="1.0" height="1.0" fill="#7c84d4" fill-opacity="0.3"/>
<rect x="82.2" y="97.2" width="1.0" height="1.0" fill="#7c84d4" fill-opacity="0.3"/>
<rect x="89.0" y="81.3" width="1.0" height="1.0" fill="#7c84d4" fill-opacity="0.3"/>
<rect x="79.6" y="102.0" width="1.0" height="1.0" fill="#7c84d4" fill-opacity="0.3"/>
<rect x="69.7" y="93.2" width="1.0" height="1.0" fill="#7c84d4" fill-opacity="0.3"/>
<rect x="79.1" y="93.3" width="1.0" height="1.0" fill="#7c84d4" fill-opacity="0.3"/>
<rect x="60.0" y="97.2" width="1.0" height="1.0" fill="#7c84d4" fill-opacity="0.3"/>
<rect x="82.1" y="87.5" width="1.0" height="1.0" fill="#7c84d4" fill-opacity="0.3"/>
<rect x="73.2" y="85.0" width="1.0" height="1.0" fill="#7c84d4" fill-opacity="0.3"/>
<rect x="78.3" y="90.5" width="1.0" height="1.0" fill="#7c84d4" fill-opacity="0.3"/>
<rect x="68.9" y="91.3" width="1.0" height="1.0" fill="#7c84d4" fill-opacity="0.3"/>
<rect x="65.6" y="111.7" width="1.0" height="1.0" fill="#7c84d4" fill-opacity="0.3"/>
<rect x="61.9" y="90.5" width="1.0" height="1.0" fill="#7c84d4" fill-opacity="0.3"/>
<rect x="69.3" y="88.0" width="1.0" height="1.0" fill="#7c84d4" fill-opacity="0.3"/>
<rect x="86.6" y="101.4" width="1.0" height="1.0" fill="#7c84d4" fill-opacity="0.3"/>
<rect x="79.3" y="96.4" width="1.0" height="1.0" fill="#7c84d4" fill-opacity="0.3"/>
<rect x="65.6" y="98.5" width="1.0" height="1.0" fill="#7c84d4" fill-opacity="0.3"/>
<rect x="73.8" y="103.6" width="1.0" height="1.0" fill="#7c84d4" fill-opacity="0.3"/>
<rect x="84.6" y="113.0" width="1.0" height="1.0" fill="#7c84d4" fill-opacity="0.3"/>
<rect x="72.3" y="100.0" width="1.0" height="1.0" fill="#7c84d4" fill-opacity="0.3"/>
<rect x="81.6" y="91.2" width="1.0" height="1.0" fill="#7c84d4" fill-opacity="0.3"/>
<rect x="83.5" y="103.7" width="1.0" height="1.0" fill="#7c84d4" fill-opacity="0.3"/>
<rect x="97.8" y="97.0" width="1.0" height="1.0" fill="#7c84d4" fill-opacity="0.3"/>
<rect x="89.9" y="105.7" width="1.0" height="1.0" fill="#7c84d4" fill-opacity="0.3"/>
<rect x="78.4" y="98.7" width="1.0" height="1.0" fill="#7c84d4" fill-opacity="0.3"/>
<rect x="78.2" y="112.9" width="1.0" height="1.0" fill="#7c84d4" fill-opacity="0.3"/>
<rect x="85.0" y="83.1" width="1.0" height="1.0" fill="#7c84d4" fill-opacity="0.3"/>
<rect x="66.4" y="96.6" width="1.0" height="1.0" fill="#7c84d4" fill-opacity="0.3"/>
<rect x="73.4" y="106.1" width="1.0" height="1.0" fill="#7c84d4" fill-opacity="0.3"/>
<rect x="86.7" y="96.2" width="1.0" height="1.0" fill="#7c84d4" fill-opacity="0.3"/>
<rect x="101.4" y="92.7" width="1.0" height="1.0" fill="#7c84d4" fill-opacity="0.3"/>
<rect x="71.8" y="96.9" width="1.0" height="1.0" fill="#7c84d4" fill-opacity="0.3"/>
<rect x="73.3" y="88.0" width="1.0" height="1.0" fill="#7c84d4" fill-opacity="0.3"/>
<rect x="76.8" y="100.0" width="1.0" height="1.0" fill="#7c84d4" fill-opacity="0.3"/>
<rect x="73.6" y="108.2" width="1.0" height="1.0" fill="#7c84d4" fill-opacity="0.3"/>
<rect x="94.6" y="90.1" width="1.0" height="1.0" fill="#7c84d4" fill-opacity="0.3"/>
<rect x="60.5" y="92.0" width="1.0" height="1.0" fill="#7c84d4" fill-opacity="0.3"/>
<rect x="71.4" y="95.8" width="1.0" height="1.0" fill="#7c84d4" fill-opacity="0.3"/>
<rect x="71.2" y="107.0" width="1.0" height="1.0" fill="#7c84d4" fill-opacity="0.3"/>
<rect x="85.0" y="92.4" width="1.0" height="1.0" fill="#7c84d4" fill-opacity="0.3"/>
<rect x="88.6" y="93.5" width="1.0" height="1.0" fill="#7c84d4" fill-opacity="0.3"/>
<rect x="61.2" y="105.9" width="1.0" height="1.0" fill="#7c84d4" fill-opacity="0.3"/>
<rect x="78.7" y="96.0" width="1.0" height="1.0" fill="#7c84d4" fill-opacity="0.3"/>
<rect x="64.8" y="90.1" width="1.0" height="1.0" fill="#7c84d4" fill-opacity="0.3"/>
<rect x="88.5" y="93.4" width="1.0" height="1.0" fill="#7c84d4" fill-opacity="0.3"/>
<rect x="80.9" y="81.2" width="1.0" height="1.0" fill="#7c84d4" fill-opacity="0.3"/>
<rect x="80.9" y="105.0" width="1.0" height="1.0" fill="#7c84d4" fill-opacity="0.3"/>
<rect x="67.3" y="94.0" width="1.0" height="1.0" fill="#7c84d4" fill-opacity="0.3"/>
<rect x="88.4" y="102.9" width="1.0" height="1.0" fill="#7c84d4" fill-opacity="0.3"/>
<rect x="70.6" y="113.9" width="1.0" height="1.0" fill="#7c84d4" fill-opacity="0.3"/>
<rect x="89.4" y="108.4" width="1.0" height="1.0" fill="#7c84d4" fill-opacity="0.3"/>
<rect x="61.2" y="89.8" width="1.0" height="1.0" fill="#7c84d4" fill-opacity="0.3"/>
<rect x="62.0" y="106.0" width="1.0" height="1.0" fill="#7c84d4" fill-opacity="0.3"/>
<rect x="76.9" y="108.3" width="1.0" height="1.0" fill="#7c84d4" fill-opacity="0.3"/>
<rect x="64.2" y="93.0" width="1.0" height="1.0" fill="#7c84d4" fill-opacity="0.3"/>
<rect x="83.5" y="91.4" width="1.0" height="1.0" fill="#7c84d4" fill-opacity="0.3"/>
<rect x="77.6" y="98.1" width="1.0" height="1.0" fill="#7c84d4" fill-opacity="0.3"/>
<rect x="61.1" y="86.2" width="1.0" height="1.0" fill="#7c84d4" fill-opacity="0.3"/>
<rect x="75.0" y="110.8" width="1.0" height="1.0" fill="#7c84d4" fill-opacity="0.3"/>
<rect x="69.1" y="79.8" width="1.0" height="1.0" fill="#7c84d4" fill-opacity="0.3"/>
<rect x="86.8" y="90.1" width="1.0" height="1.0" fill="#7c84d4" fill-opacity="0.3"/>
<rect x="65.1" y="96.8" width="1.0" height="1.0" fill="#7c84d4" fill-opacity="0.3"/>
<rect x="67.9" y="97.2" width="1.0" height="1.0" fill="#7c84d4" fill-opacity="0.3"/>
<rect x="91.0" y="100.3" width="1.0" height="1.0" fill="#7c84d4" fill-opacity="0.3"/>
<rect x="105.3" y="101.2" width="1.0" height="1.0" fill="#7c84d4" fill-opacity="0.3"/>
<rect x="102.0" y="97.3" width="1.0" height="1.0" fill="#7c84d4" fill-opacity="0.3"/>
<rect x="74.9" y="108.1" width="1.0" height="1.0" fill="#7c84d4" fill-opacity="0.3"/>
<rect x="58.2" y="93.4" width="1.0" height="1.0" fill="#7c84d4" fill-opacity="0.3"/>
<rect x="84.9" y="84.8" width="1.0" height="1.0" fill="#7c84d4" fill-opacity="0.3"/>
<rect x="73.6" y="82.7" width="1.0" height="1.0" fill="#7c84d4" fill-opacity="0.3"/>
<rect x="84.6" y="80.2" width="1.0" height="1.0" fill="#7c84d4" fill-opacity="0.3"/>
<rect x="85.0" y="78.4" width="1.0" height="1.0" fill="#7c84d4" fill-opacity="0.3"/>
<rect x="75.7" y="93.0" width="1.0" height="1.0" fill="#7c84d4" fill-opacity="0.3"/>
<rect x="79.4" y="92.5" width="1.0" height="1.0" fill="#7c84d4" fill-opacity="0.3"/>
<rect x="99.6" y="91.6" width="1.0" height="1.0" fill="#7c84d4" fill-opacity="0.3"/>
<rect x="86.8" y="78.3" width="1.0" height="1.0" fill="#7c84d4" fill-opacity="0.3"/>
<rect x="76.6" y="87.8" width="1.0" height="1.0" fill="#7c84d4" fill-opacity="0.3"/>
<rect x="111.9" y="79.6" width="1.0" height="1.0" fill="#7c84d4" fill-opacity="0.3"/>
<rect x="112.6" y="73.0" width="1.0" height="1.0" fill="#7c84d4" fill-opacity="0.3"/>
<rect x="68.2" y="93.8" width="1.0" height="1.0" fill="#7c84d4" fill-opacity="0.3"/>
<rect x="93.2" y="93.0" width="1.0" height="1.0" fill="#7c84d4" fill-opacity="0.3"/>
<rect x="114.6" y="71.3" width="1.0" height="1.0" fill="#7c84d4" fill-opacity="0.3"/>
<rect x="92.7" y="77.4" width="1.0" height="1.0" fill="#7c84d4" fill-opacity="0.3"/>
<rect x="85.7" y="79.8" width="1.0" height="1.0" fill="#7c84d4" fill-opacity="0.3"/>
<rect x="84.3" y="89.7" width="1.0" height="1.0" fill="#7c84d4" fill-opacity="0.3"/>
<rect x="80.3" y="91.4" width="1.0" height="1.0" fill="#7c84d4" fill-opacity="0.3"/>
<rect x="80.5" y="82.0" width="1.0" height="1.0" fill="#7c84d4" fill-opacity="0.3"/>
<rect x="77.4" y="85.7" width="1.0" height="1.0" fill="#7c84d4" fill-opacity="0.3"/>
<rect x="95.9" y="85.2" width="1.0" height="1.0" fill="#7c84d4" fill-opacity="0.3"/>
<rect x="82.6" y="91.9" width="1.0" height="1.0" fill="#7c84d4" fill-opacity="0.3"/>
<rect x="79.4" y="86.6" width="1.0" height="1.0" fill="#7c84d4" fill-opacity="0.3"/>
<rect x="73.3" y="96.6" width="1.0" height="1.0" fill="#7c84d4" fill-opacity="0.3"/>
<rect x="86.7" y="89.9" width="1.0" height="1.0" fill="#7c84d4" fill-opacity="0.3"/>
<rect x="71.7" y="84.0" width="1.0" height="1.0" fill="#7c84d4" fill-opacity="0.3"/>
<rect x="83.2" y="86.6" width="1.0" height="1.0" fill="#7c84d4" fill-opacity="0.3"/>
<rect x="99.1" y="83.0" width="1.0" height="1.0" fill="#7c84d4" fill-opacity="0.3"/>
<rect x="89.0" y="82.4" width="1.0" height="1.0" fill="#7c84d4" fill-opacity="0.3"/>
<rect x="87.3" y="74.5" width="1.0" height="1.0" fill="#7c84d4" fill-opacity="0.3"/>
<rect x="89.6" y="83.7" width="1.0" height="1.0" fill="#7c84d4" fill-opacity="0.3"/>
<rect x="88.3" y="90.1" width="1.0" height="1.0" fill="#7c84d4" fill-opacity="0.3"/>
<rect x="87.9" y="94.8" width="1.0" height="1.0" fill="#7c84d4" fill-opacity="0.3"/>
<rect x="77.6" y="78.9" width="1.0" height="1.0" fill="#7c84d4" fill-opacity="0.3"/>
<rect x="100.6" y="94.5" width="1.0" height="1.0" fill="#7c84d4" fill-opacity="0.3"/>
<rect x="70.9" y="88.1" width="1.0" height="1.0" fill="#7c84d4" fill-opacity="0.3"/>
<rect x="103.8" y="83.7" width="1.0" height="1.0" fill="#7c84d4" fill-opacity="0.3"/>
<rect x="89.1" y="92.4" width="1.0" height="1.0" fill="#7c84d4" fill-opacity="0.3"/>
<rect x="79.4" y="95.7" width="1.0" height="1.0" fill="#7c84d4" fill-opacity="0.3"/>
<rect x="80.6" y="90.4" width="1.0" height="1.0" fill="#7c84d4" fill-opacity="0.3"/>
<rect x="75.5" y="85.6" width="1.0" height="1.0" fill="#7c84d4" fill-opacity="0.3"/>
<rect x="89.2" y="88.9" width="1.0" height="1.0" fill="#7c84d4" fill-opacity="0.3"/>
<rect x="76.0" y="87.8" width="1.0" height="1.0" fill="#7c84d4" fill-opacity="0.3"/>
<rect x="93.9" y="69.2" width="1.0" height="1.0" fill="#7c84d4" fill-opacity="0.3"/>
<rect x="83.0" y="104.2" width="1.0" height="1.0" fill="#7c84d4" fill-opacity="0.3"/>
<rect x="60.9" y="103.0" width="1.0" height="1.0" fill="#7c84d4" fill-opacity="0.3"/>
<rect x="81.4" y="99.3" width="1.0" height="1.0" fill="#7c84d4" fill-opacity="0.3"/>
<rect x="60.5" y="94.3" width="1.0" height="1.0" fill="#7c84d4" fill-opacity="0.3"/>
<rect x="88.7" y="93.8" width="1.0" height="1.0" fill="#7c84d4" fill-opacity="0.3"/>
<rect x="101.9" y="88.2" width="1.0" height="1.0" fill="#7c84d4" fill-opacity="0.3"/>
<rect x="97.0" y="90.3" width="1.0" height="1.0" fill="#7c84d4" fill-opacity="0.3"/>
<rect x="70.3" y="94.5" width="1.0" height="1.0" fill="#7c84d4" fill-opacity="0.3"/>
<rect x="74.5" y="85.9" width="1.0" height="1.0" fill="#7c84d4" fill-opacity="0.3"/>
<rect x="106.4" y="76.1" width="1.0" height="1.0" fill="#7c84d4" fill-opacity="0.3"/>
<rect x="84.9" y="75.3" width="1.0" height="1.0" fill="#7c84d4" fill-opacity="0.3"/>
<rect x="82.3" y="79.3" width="1.0" height="1.0" fill="#7c84d4" fill-opacity="0.3"/>
<rect x="98.6" y="81.4" width="1.0" height="1.0" fill="#7c84d4" fill-opacity="0.3"/>
<rect x="112.6" y="68.7" width="1.0" height="1.0" fill="#7c84d4" fill-opacity="0.3"/>
<rect x="100.8" y="78.9" width="1.0" height="1.0" fill="#7c84d4" fill-opacity="0.3"/>
<rect x="87.4" y="85.7" width="1.0" height="1.0" fill="#7c84d4" fill-opacity="0.3"/>
<rect x="94.4" y="93.7" width="1.0" height="1.0" fill="#7c84d4" fill-opacity="0.3"/>
<rect x="96.0" y="89.4" width="1.0" height="1.0" fill="#7c84d4" fill-opacity="0.3"/>
<rect x="78.7" y="90.3" width="1.0" height="1.0" fill="#7c84d4" fill-opacity="0.3"/>
<rect x="76.2" y="98.4" width="1.0" height="1.0" fill="#7c84d4" fill-opacity="0.3"/>
<rect x="84.9" y="83.2" width="1.0" height="1.0" fill="#7c84d4" fill-opacity="0.3"/>
<rect x="74.2" y="90.8" width="1.0" height="1.0" fill="#7c84d4" fill-opacity="0.3"/>
<rect x="87.3" y="91.4" width="1.0" height="1.0" fill="#7c84d4" fill-opacity="0.3"/>
<rect x="84.4" y="80.9" width="1.0" height="1.0" fill="#7c84d4" fill-opacity="0.3"/>
<rect x="112.8" y="72.5" width="1.0" height="1.0" fill="#7c84d4" fill-opacity="0.3"/>
<rect x="73.2" y="85.9" width="1.0" height="1.0" fill="#7c84d4" fill-opacity="0.3"/>
<rect x="84.8" y="88.2" width="1.0" height="1.0" fill="#7c84d4" fill-opacity="0.3"/>
<rect x="87.6" y="95.3" width="1.0" height="1.0" fill="#7c84d4" fill-opacity="0.3"/>
<rect x="89.5" y="81.1" width="1.0" height="1.0" fill="#7c84d4" fill-opacity="0.3"/>
<rect x="98.7" y="82.1" width="1.0" height="1.0" fill="#7c84d4" fill-opacity="0.3"/>
<rect x="78.3" y="85.7" width="1.0" height="1.0" fill="#7c84d4" fill-opacity="0.3"/>
<rect x="73.9" y="86.5" width="1.0" height="1.0" fill="#7c84d4" fill-opacity="0.3"/>
<rect x="64.1" y="90.7" width="1.0" height="1.0" fill="#7c84d4" fill-opacity="0.3"/>
<rect x="78.3" y="98.8" width="1.0" height="1.0" fill="#7c84d4" fill-opacity="0.3"/>
<rect x="97.4" y="94.6" width="1.0" height="1.0" fill="#7c84d4" fill-opacity="0.3"/>
<rect x="87.6" y="88.9" width="1.0" height="1.0" fill="#7c84d4" fill-opacity="0.3"/>
<rect x="72.6" y="89.5" width="1.0" height="1.0" fill="#7c84d4" fill-opacity="0.3"/>
<rect x="83.2" y="92.3" width="1.0" height="1.0" fill="#7c84d4" fill-opacity="0.3"/>
<rect x="85.6" y="85.3" width="1.0" height="1.0" fill="#7c84d4" fill-opacity="0.3"/>
<rect x="93.6" y="87.8" width="1.0" height="1.0" fill="#7c84d4" fill-opacity="0.3"/>
<rect x="79.7" y="91.7" width="1.0" height="1.0" fill="#7c84d4" fill-opacity="0.3"/>
<rect x="83.7" y="89.7" width="1.0" height="1.0" fill="#7c84d4" fill-opacity="0.3"/>
<rect x="66.0" y="100.0" width="1.0" height="1.0" fill="#7c84d4" fill-opacity="0.3"/>
<rect x="71.3" y="90.9" width="1.0" height="1.0" fill="#7c84d4" fill-opacity="0.3"/>
<rect x="104.1" y="76.0" width="1.0" height="1.0" fill="#7c84d4" fill-opacity="0.3"/>
<rect x="56.6" y="91.6" width="1.0" height="1.0" fill="#7c84d4" fill-opacity="0.3"/>
<rect x="81.1" y="86.9" width="1.0" height="1.0" fill="#7c84d4" fill-opacity="0.3"/>
<rect x="85.5" y="79.4" width="1.0" height="1.0" fill="#7c84d4" fill-opacity="0.3"/>
<rect x="81.3" y="88.5" width="1.0" height="1.0" fill="#7c84d4" fill-opacity="0.3"/>
<rect x="74.5" y="87.3" width="1.0" height="1.0" fill="#7c84d4" fill-opacity="0.3"/>
<rect x="85.5" y="87.8" width="1.0" height="1.0" fill="#7c84d4" fill-opacity="0.3"/>
<rect x="86.9" y="89.1" width="1.0" height="1.0" fill="#7c84d4" fill-opacity="0.3"/>
<rect x="82.0" y="81.1" width="1.0" height="1.0" fill="#7c84d4" fill-opacity="0.3"/>
<rect x="62.3" y="94.0" width="1.0" height="1.0" fill="#7c84d4" fill-opacity="0.3"/>
<rect x="82.2" y="83.6" width="1.0" height="1.0" fill="#7c84d4" fill-opacity="0.3"/>
<rect x="77.6" y="95.2" width="1.0" height="1.0" fill="#7c84d4" fill-opacity="0.3"/>
<rect x="83.3" y="97.8" width="1.0" height="1.0" fill="#7c84d4" fill-opacity="0.3"/>
<rect x="90.5" y="89.6" width="1.0" height="1.0" fill="#7c84d4" fill-opacity="0.3"/>
<rect x="92.7" y="81.8" width="1.0" height="1.0" fill="#7c84d4" fill-opacity="0.3"/>
<rect x="99.7" y="88.5" width="1.0" height="1.0" fill="#7c84d4" fill-opacity="0.3"/>
<rect x="76.9" y="83.0" width="1.0" height="1.0" fill="#7c84d4" fill-opacity="0.3"/>
<rect x="100.1" y="88.5" width="1.0" height="1.0" fill="#7c84d4" fill-opacity="0.3"/>
<rect x="98.3" y="77.4" width="1.0" height="1.0" fill="#7c84d4" fill-opacity="0.3"/>
<rect x="93.3" y="68.1" width="1.0" height="1.0" fill="#7c84d4" fill-opacity="0.3"/>
<rect x="108.0" y="91.1" width="1.0" height="1.0" fill="#7c84d4" fill-opacity="0.3"/>
<rect x="87.7" y="94.9" width="1.0" height="1.0" fill="#7c84d4" fill-opacity="0.3"/>
<rect x="81.7" y="83.3" width="1.0" height="1.0" fill="#7c84d4" fill-opacity="0.3"/>
<rect x="96.0" y="83.1" width="1.0" height="1.0" fill="#7c84d4" fill-opacity="0.3"/>
<rect x="69.5" y="93.8" width="1.0" height="1.0" fill="#7c84d4" fill-opacity="0.3"/>
<rect x="88.7" y="86.3" width="1.0" height="1.0" fill="#7c84d4" fill-opacity="0.3"/>
<rect x="76.6" y="83.3" width="1.0" height="1.0" fill="#7c84d4" fill-opacity="0.3"/>
<rect x="80.2" y="86.0" width="1.0" height="1.0" fill="#7c84d4" fill-opacity="0.3"/>
<rect x="66.6" y="99.0" width="1.0" height="1.0" fill="#7c84d4" fill-opacity="0.3"/>
<rect x="76.1" y="93.0" width="1.0" height="1.0" fill="#7c84d4" fill-opacity="0.3"/>
<rect x="88.4" y="92.5" width="1.0" height="1.0" fill="#7c84d4" fill-opacity="0.3"/>
<rect x="96.6" y="82.3" width="1.0" height="1.0" fill="#7c84d4" fill-opacity="0.3"/>
<rect x="102.7" y="92.0" width="1.0" height="1.0" fill="#7c84d4" fill-opacity="0.3"/>
<rect x="83.5" y="84.2" width="1.0" height="1.0" fill="#7c84d4" fill-opacity="0.3"/>
<rect x="84.3" y="89.2" width="1.0" height="1.0" fill="#7c84d4" fill-opacity="0.3"/>
<rect x="72.1" y="83.1" width="1.0" height="1.0" fill="#7c84d4" fill-opacity="0.3"/>
<rect x="88.0" y="79.1" width="1.0" height="1.0" fill="#7c84d4" fill-opacity="0.3"/>
<rect x="86.0" y="94.4" width="1.0" height="1.0" fill="#7c84d4" fill-opacity="0.3"/>
<rect x="91.0" y="79.3" width="1.0" height="1.0" fill="#7c84d4" fill-opacity="0.3"/>
<rect x="107.7" y="79.5" width="1.0" height="1.0" fill="#7c84d4" fill-opacity="0.3"/>
<rect x="85.5" y="86.9" width="1.0" height="1.0" fill="#7c84d4" fill-opacity="0.3"/>
<rect x="66.2" y="90.8" width="1.0" height="1.0" fill="#7c84d4" fill-opacity="0.3"/>
<rect x="75.2" y="90.3" width="1.0" height="1.0" fill="#7c84d4" fill-opacity="0.3"/>
<rect x="67.8" y="92.9" width="1.0" height="1.0" fill="#7c84d4" fill-opacity="0.3"/>
<rect x="70.9" y="91.6" width="1.0" height="1.0" fill="#7c84d4" fill-opacity="0.3"/>
<rect x="102.9" y="83.0" width="1.0" height="1.0" fill="#7c84d4" fill-opacity="0.3"/>
<rect x="90.1" y="88.7" width="1.0" height="1.0" fill="#7c84d4" fill-opacity="0.3"/>
<rect x="66.9" y="93.0" width="1.0" height="1.0" fill="#7c84d4" fill-opacity="0.3"/>
<rect x="91.7" y="79.2" width="1.0" height="1.0" fill="#7c84d4" fill-opacity="0.3"/>
<rect x="101.4" y="81.1" width="1.0" height="1.0" fill="#7c84d4" fill-opacity="0.3"/>
<rect x="81.6" y="88.6" width="1.0" height="1.0" fill="#7c84d4" fill-opacity="0.3"/>
<rect x="80.3" y="95.5" width="1.0" height="1.0" fill="#7c84d4" fill-opacity="0.3"/>
<rect x="87.8" y="100.9" width="1.0" height="1.0" fill="#7c84d4" fill-opacity="0.3"/>
<rect x="91.2" y="89.2" width="1.0" height="1.0" fill="#7c84d4" fill-opacity="0.3"/>
<rect x="93.4" y="83.2" width="1.0" height="1.0" fill="#7c84d4" fill-opacity="0.3"/>
<rect x="99.5" y="79.5" width="1.0" height="1.0" fill="#7c84d4" fill-opacity="0.3"/>
<rect x="98.3" y="76.3" width="1.0" height="1.0" fill="#7c84d4" fill-opacity="0.3"/>
<rect x="97.9" y="76.2" width="1.0" height="1.0" fill="#7c84d4" fill-opacity="0.3"/>
<rect x="99.8" y="74.8" width="1.0" height="1.0" fill="#7c84d4" fill-opacity="0.3"/>
<rect x="92.9" y="81.5" width="1.0" height="1.0" fill="#7c84d4" fill-opacity="0.3"/>
<rect x="67.2" y="93.7" width="1.0" height="1.0" fill="#7c84d4" fill-opacity="0.3"/>
<rect x="86.1" y="91.1" width="1.0" height="1.0" fill="#7c84d4" fill-opacity="0.3"/>
<rect x="88.8" y="83.4" width="1.0" height="1.0" fill="#7c84d4" fill-opacity="0.3"/>
<rect x="81.1" y="88.3" width="1.0" height="1.0" fill="#7c84d4" fill-opacity="0.3"/>
<rect x="94.0" y="76.4" width="1.0" height="1.0" fill="#7c84d4" fill-opacity="0.3"/>
<rect x="85.4" y="96.4" width="1.0" height="1.0" fill="#7c84d4" fill-opacity="0.3"/>
<rect x="76.3" y="94.5" width="1.0" height="1.0" fill="#7c84d4" fill-opacity="0.3"/>
<rect x="106.8" y="86.9" width="1.0" height="1.0" fill="#7c84d4" fill-opacity="0.3"/>
<rect x="95.5" y="86.8" width="1.0" height="1.0" fill="#7c84d4" fill-opacity="0.3"/>
<rect x="91.8" y="92.5" width="1.0" height="1.0" fill="#7c84d4" fill-opacity="0.3"/>
<rect x="96.3" y="80.6" width="1.0" height="1.0" fill="#7c84d4" fill-opacity="0.3"/>
<rect x="100.0" y="84.2" width="1.0" height="1.0" fill="#7c84d4" fill-opacity="0.3"/>
<rect x="95.9" y="97.3" width="1.0" height="1.0" fill="#7c84d4" fill-opacity="0.3"/>
<rect x="54.6" y="95.4" width="1.0" height="1.0" fill="#7c84d4" fill-opacity="0.3"/>
<rect x="80.6" y="96.1" width="1.0" height="1.0" fill="#7c84d4" fill-opacity="0.3"/>
<rect x="84.3" y="97.2" width="1.0" height="1.0" fill="#7c84d4" fill-opacity="0.3"/>
<rect x="75.4" y="94.5" width="1.0" height="1.0" fill="#7c84d4" fill-opacity="0.3"/>
<rect x="90.0" y="89.3" width="1.0" height="1.0" fill="#7c84d4" fill-opacity="0.3"/>
<rect x="102.7" y="86.0" width="1.0" height="1.0" fill="#7c84d4" fill-opacity="0.3"/>
<rect x="78.9" y="86.7" width="1.0" height="1.0" fill="#7c84d4" fill-opacity="0.3"/>
<rect x="73.6" y="95.3" width="1.0" height="1.0" fill="#7c84d4" fill-opacity="0.3"/>
<rect x="107.8" y="71.5" width="1.0" height="1.0" fill="#7c84d4" fill-opacity="0.3"/>
<rect x="79.2" y="86.4" width="1.0" height="1.0" fill="#7c84d4" fill-opacity="0.3"/>
<rect x="70.2" y="91.1" width="1.0" height="1.0" fill="#7c84d4" fill-opacity="0.3"/>
<rect x="88.5" y="85.0" width="1.0" height="1.0" fill="#7c84d4" fill-opacity="0.3"/>
<rect x="91.3" y="85.3" width="1.0" height="1.0" fill="#7c84d4" fill-opacity="0.3"/>
<rect x="78.8" y="93.1" width="1.0" height="1.0" fill="#7c84d4" fill-opacity="0.3"/>
<rect x="92.1" y="76.0" width="1.0" height="1.0" fill="#7c84d4" fill-opacity="0.3"/>
<rect x="84.7" y="98.9" width="1.0" height="1.0" fill="#7c84d4" fill-opacity="0.3"/>
<rect x="77.8" y="97.5" width="1.0" height="1.0" fill="#7c84d4" fill-opacity="0.3"/>
<rect x="89.7" y="89.3" width="1.0" height="1.0" fill="#7c84d4" fill-opacity="0.3"/>
<rect x="94.2" y="81.0" width="1.0" height="1.0" fill="#7c84d4" fill-opacity="0.3"/>
<rect x="78.4" y="90.2" width="1.0" height="1.0" fill="#7c84d4" fill-opacity="0.3"/>
<rect x="91.1" y="87.7" width="1.0" height="1.0" fill="#7c84d4" fill-opacity="0.3"/>
<rect x="85.8" y="89.4" width="1.0" height="1.0" fill="#7c84d4" fill-opacity="0.3"/>
<rect x="115.3" y="63.3" width="1.0" height="1.0" fill="#7c84d4" fill-opacity="0.3"/>
<rect x="79.4" y="94.4" width="1.0" height="1.0" fill="#7c84d4" fill-opacity="0.3"/>
<rect x="108.7" y="92.6" width="1.0" height="1.0" fill="#7c84d4" fill-opacity="0.3"/>
<rect x="81.3" y="78.8" width="1.0" height="1.0" fill="#7c84d4" fill-opacity="0.3"/>
<rect x="86.7" y="92.3" width="1.0" height="1.0" fill="#7c84d4" fill-opacity="0.3"/>
<rect x="95.3" y="84.6" width="1.0" height="1.0" fill="#7c84d4" fill-opacity="0.3"/>
<rect x="96.2" y="81.4" width="1.0" height="1.0" fill="#7c84d4" fill-opacity="0.3"/>
<rect x="103.9" y="86.2" width="1.0" height="1.0" fill="#7c84d4" fill-opacity="0.3"/>
<rect x="87.2" y="79.7" width="1.0" height="1.0" fill="#7c84d4" fill-opacity="0.3"/>
<rect x="79.3" y="91.1" width="1.0" height="1.0" fill="#7c84d4" fill-opacity="0.3"/>
<rect x="83.0" y="96.8" width="1.0" height="1.0" fill="#7c84d4" fill-opacity="0.3"/>
<rect x="91.5" y="83.2" width="1.0" height="1.0" fill="#7c84d4" fill-opacity="0.3"/>
<rect x="91.9" y="81.8" width="1.0" height="1.0" fill="#7c84d4" fill-opacity="0.3"/>
<rect x="102.6" y="79.6" width="1.0" height="1.0" fill="#7c84d4" fill-opacity="0.3"/>
<rect x="89.9" y="82.6" width="1.0" height="1.0" fill="#7c84d4" fill-opacity="0.3"/>
<rect x="101.9" y="88.2" width="1.0" height="1.0" fill="#7c84d4" fill-opacity="0.3"/>
<rect x="101.7" y="74.2" width="1.0" height="1.0" fill="#7c84d4" fill-opacity="0.3"/>
<rect x="89.9" y="90.1" width="1.0" height="1.0" fill="#7c84d4" fill-opacity="0.3"/>
<rect x="65.8" y="89.6" width="1.0" height="1.0" fill="#7c84d4" fill-opacity="0.3"/>
<rect x="73.7" y="96.8" width="1.0" height="1.0" fill="#7c84d4" fill-opacity="0.3"/>
<rect x="68.9" y="94.6" width="1.0" height="1.0" fill="#7c84d4" fill-opacity="0.3"/>
<rect x="98.9" y="66.0" width="1.0" height="1.0" fill="#7c84d4" fill-opacity="0.3"/>
<rect x="76.1" y="91.8" width="1.0" height="1.0" fill="#7c84d4" fill-opacity="0.3"/>
<rect x="98.0" y="75.1" width="1.0" height="1.0" fill="#7c84d4" fill-opacity="0.3"/>
<rect x="91.9" y="81.6" width="1.0" height="1.0" fill="#7c84d4" fill-opacity="0.3"/>
<rect x="109.5" y="84.4" width="1.0" height="1.0" fill="#7c84d4" fill-opacity="0.3"/>
<rect x="95.2" y="76.2" width="1.0" height="1.0" fill="#7c84d4" fill-opacity="0.3"/>
<rect x="82.4" y="82.7" width="1.0" height="1.0" fill="#7c84d4" fill-opacity="0.3"/>
<rect x="86.9" y="94.8" width="1.0" height="1.0" fill="#7c84d4" fill-opacity="0.3"/>
<rect x="87.3" y="87.1" width="1.0" height="1.0" fill="#7c84d4" fill-opacity="0.3"/>
<rect x="91.5" y="93.1" width="1.0" height="1.0" fill="#7c84d4" fill-opacity="0.3"/>
<rect x="80.5" y="91.5" width="1.0" height="1.0" fill="#7c84d4" fill-opacity="0.3"/>
<rect x="83.6" y="83.1" width="1.0" height="1.0" fill="#7c84d4" fill-opacity="0.3"/>
<rect x="104.7" y="77.6" width="1.0" height="1.0" fill="#7c84d4" fill-opacity="0.3"/>
<rect x="68.8" y="102.3" width="1.0" height="1.0" fill="#7c84d4" fill-opacity="0.3"/>
<rect x="91.1" y="89.9" width="1.0" height="1.0" fill="#7c84d4" fill-opacity="0.3"/>
<rect x="75.4" y="92.1" width="1.0" height="1.0" fill="#7c84d4" fill-opacity="0.3"/>
<rect x="88.3" y="86.2" width="1.0" height="1.0" fill="#7c84d4" fill-opacity="0.3"/>
<rect x="95.6" y="81.7" width="1.0" height="1.0" fill="#7c84d4" fill-opacity="0.3"/>
<rect x="84.0" y="84.6" width="1.0" height="1.0" fill="#7c84d4" fill-opacity="0.3"/>
<rect x="99.4" y="91.6" width="1.0" height="1.0" fill="#7c84d4" fill-opacity="0.3"/>
<rect x="67.4" y="96.0" width="1.0" height="1.0" fill="#7c84d4" fill-opacity="0.3"/>
<rect x="96.4" y="75.5" width="1.0" height="1.0" fill="#7c84d4" fill-opacity="0.3"/>
<rect x="77.9" y="88.2" width="1.0" height="1.0" fill="#7c84d4" fill-opacity="0.3"/>
<rect x="94.9" y="86.8" width="1.0" height="1.0" fill="#7c84d4" fill-opacity="0.3"/>
<rect x="89.6" y="88.9" width="1.0" height="1.0" fill="#7c84d4" fill-opacity="0.3"/>
<rect x="55.4" y="101.0" width="1.0" height="1.0" fill="#7c84d4" fill-opacity="0.3"/>
<rect x="75.7" y="88.2" width="1.0" height="1.0" fill="#7c84d4" fill-opacity="0.3"/>
<rect x="88.6" y="85.9" width="1.0" height="1.0" fill="#7c84d4" fill-opacity="0.3"/>
<rect x="100.4" y="70.5" width="1.0" height="1.0" fill="#7c84d4" fill-opacity="0.3"/>
<rect x="86.5" y="79.3" width="1.0" height="1.0" fill="#7c84d4" fill-opacity="0.3"/>
<rect x="90.8" y="89.2" width="1.0" height="1.0" fill="#7c84d4" fill-opacity="0.3"/>
<rect x="68.4" y="92.8" width="1.0" height="1.0" fill="#7c84d4" fill-opacity="0.3"/>
<rect x="103.6" y="80.6" width="1.0" height="1.0" fill="#7c84d4" fill-opacity="0.3"/>
<rect x="109.9" y="82.4" width="1.0" height="1.0" fill="#7c84d4" fill-opacity="0.3"/>
<rect x="87.8" y="89.8" width="1.0" height="1.0" fill="#7c84d4" fill-opacity="0.3"/>
<rect x="83.5" y="88.3" width="1.0" height="1.0" fill="#7c84d4" fill-opacity="0.3"/>
<rect x="71.8" y="106.0" width="1.0" height="1.0" fill="#7c84d4" fill-opacity="0.3"/>
<rect x="97.8" y="85.1" width="1.0" height="1.0" fill="#7c84d4" fill-opacity="0.3"/>
<rect x="116.8" y="70.1" width="1.0" height="1.0" fill="#7c84d4" fill-opacity="0.3"/>
<rect x="96.0" y="86.3" width="1.0" height="1.0" fill="#7c84d4" fill-opacity="0.3"/>
<rect x="101.7" y="81.7" width="1.0" height="1.0" fill="#7c84d4" fill-opacity="0.3"/>
<rect x="90.4" y="80.0" width="1.0" height="1.0" fill="#7c84d4" fill-opacity="0.3"/>
<rect x="74.6" y="92.9" width="1.0" height="1.0" fill="#7c84d4" fill-opacity="0.3"/>
<rect x="101.3" y="78.7" width="1.0" height="1.0" fill="#7c84d4" fill-opacity="0.3"/>
<rect x="67.2" y="84.9" width="1.0" height="1.0" fill="#7c84d4" fill-opacity="0.3"/>
<rect x="83.1" y="87.4" width="1.0" height="1.0" fill="#7c84d4" fill-opacity="0.3"/>
<rect x="88.6" y="84.1" width="1.0" height="1.0" fill="#7c84d4" fill-opacity="0.3"/>
<rect x="95.4" y="80.0" width="1.0" height="1.0" fill="#7c84d4" fill-opacity="0.3"/>
<rect x="87.2" y="77.0" width="1.0" height="1.0" fill="#7c84d4" fill-opacity="0.3"/>
<rect x="89.7" y="83.2" width="1.0" height="1.0" fill="#7c84d4" fill-opacity="0.3"/>
<rect x="77.0" y="91.1" width="1.0" height="1.0" fill="#7c84d4" fill-opacity="0.3"/>
<rect x="71.1" y="94.8" width="1.0" height="1.0" fill="#7c84d4" fill-opacity="0.3"/>
<rect x="84.2" y="81.4" width="1.0" height="1.0" fill="#7c84d4" fill-opacity="0.3"/>
<rect x="79.1" y="93.9" width="1.0" height="1.0" fill="#7c84d4" fill-opacity="0.3"/>
<rect x="68.0" y="88.8" width="1.0" height="1.0" fill="#7c84d4" fill-opacity="0.3"/>
<rect x="112.2" y="100.7" width="1.0" height="1.0" fill="#6870d0" fill-opacity="0.4"/>
<rect x="117.7" y="90.5" width="1.0" height="1.0" fill="#6870d0" fill-opacity="0.4"/>
<rect x="110.5" y="91.9" width="1.0" height="1.0" fill="#6870d0" fill-opacity="0.4"/>
<rect x="111.2" y="91.0" width="1.0" height="1.0" fill="#6870d0" fill-opacity="0.4"/>
<rect x="116.9" y="99.9" width="1.0" height="1.0" fill="#6870d0" fill-opacity="0.4"/>
<rect x="111.6" y="83.8" width="1.0" height="1.0" fill="#6870d0" fill-opacity="0.4"/>
<rect x="111.9" y="105.0" width="1.0" height="1.0" fill="#6870d0" fill-opacity="0.4"/>
<rect x="113.8" y="93.8" width="1.0" height="1.0" fill="#6870d0" fill-opacity="0.4"/>
<rect x="116.8" y="91.9" width="1.0" height="1.0" fill="#6870d0" fill-opacity="0.4"/>
<rect x="105.1" y="99.2" width="1.0" height="1.0" fill="#6870d0" fill-opacity="0.4"/>
<rect x="110.0" y="103.7" width="1.0" height="1.0" fill="#6870d0" fill-opacity="0.4"/>
<rect x="109.4" y="99.2" width="1.0" height="1.0" fill="#6870d0" fill-opacity="0.4"/>
<rect x="109.1" y="103.8" width="1.0" height="1.0" fill="#6870d0" fill-opacity="0.4"/>
<rect x="109.9" y="97.9" width="1.0" height="1.0" fill="#6870d0" fill-opacity="0.4"/>
<rect x="110.0" y="105.0" width="1.0" height="1.0" fill="#6870d0" fill-opacity="0.4"/>
<rect x="114.1" y="105.1" width="1.0" height="1.0" fill="#6870d0" fill-opacity="0.4"/>
<rect x="109.8" y="96.4" width="1.0" height="1.0" fill="#6870d0" fill-opacity="0.4"/>
<rect x="113.4" y="106.4" width="1.0" height="1.0" fill="#6870d0" fill-opacity="0.4"/>
<rect x="114.4" y="98.1" width="1.0" height="1.0" fill="#6870d0" fill-opacity="0.4"/>
<rect x="110.4" y="97.6" width="1.0" height="1.0" fill="#6870d0" fill-opacity="0.4"/>
<rect x="113.5" y="91.0" width="1.0" height="1.0" fill="#6870d0" fill-opacity="0.4"/>
<rect x="118.9" y="95.1" width="1.0" height="1.0" fill="#6870d0" fill-opacity="0.4"/>
<rect x="114.2" y="102.1" width="1.0" height="1.0" fill="#6870d0" fill-opacity="0.4"/>
<rect x="110.7" y="88.5" width="1.0" height="1.0" fill="#6870d0" fill-opacity="0.4"/>
<rect x="112.8" y="101.2" width="1.0" height="1.0" fill="#6870d0" fill-opacity="0.4"/>
<rect x="109.7" y="99.3" width="1.0" height="1.0" fill="#6870d0" fill-opacity="0.4"/>
<rect x="114.0" y="98.8" width="1.0" height="1.0" fill="#6870d0" fill-opacity="0.4"/>
<rect x="116.1" y="82.7" width="1.0" height="1.0" fill="#6870d0" fill-opacity="0.4"/>
<rect x="110.1" y="96.3" width="1.0" height="1.0" fill="#6870d0" fill-opacity="0.4"/>
<rect x="112.3" y="101.2" width="1.0" height="1.0" fill="#6870d0" fill-opacity="0.4"/>
<rect x="117.0" y="92.0" width="1.0" height="1.0" fill="#6870d0" fill-opacity="0.4"/>
<rect x="111.2" y="97.6" width="1.0" height="1.0" fill="#6870d0" fill-opacity="0.4"/>
<rect x="113.7" y="81.5" width="1.0" height="1.0" fill="#6870d0" fill-opacity="0.4"/>
<rect x="109.3" y="101.4" width="1.0" height="1.0" fill="#6870d0" fill-opacity="0.4"/>
<rect x="110.1" y="92.7" width="1.0" height="1.0" fill="#6870d0" fill-opacity="0.4"/>
<rect x="111.2" y="102.7" width="1.0" height="1.0" fill="#6870d0" fill-opacity="0.4"/>
<rect x="120.6" y="85.0" width="1.0" height="1.0" fill="#6870d0" fill-opacity="0.4"/>
<rect x="111.6" y="101.5" width="1.0" height="1.0" fill="#6870d0" fill-opacity="0.4"/>
<rect x="111.1" y="95.5" width="1.0" height="1.0" fill="#6870d0" fill-opacity="0.4"/>
<rect x="111.0" y="102.2" width="1.0" height="1.0" fill="#6870d0" fill-opacity="0.4"/>
<rect x="112.4" y="91.0" width="1.0" height="1.0" fill="#6870d0" fill-opacity="0.4"/>
<rect x="115.3" y="93.0" width="1.0" height="1.0" fill="#6870d0" fill-opacity="0.4"/>
<rect x="113.7" y="111.6" width="1.0" height="1.0" fill="#6870d0" fill-opacity="0.4"/>
<rect x="120.2" y="91.6" width="1.0" height="1.0" fill="#6870d0" fill-opacity="0.4"/>
<rect x="113.7" y="92.4" width="1.0" height="1.0" fill="#6870d0" fill-opacity="0.4"/>
<rect x="118.1" y="95.2" width="1.0" height="1.0" fill="#6870d0" fill-opacity="0.4"/>
<rect x="114.0" y="90.4" width="1.0" height="1.0" fill="#6870d0" fill-opacity="0.4"/>
<rect x="115.1" y="104.7" width="1.0" height="1.0" fill="#6870d0" fill-opacity="0.4"/>
<rect x="107.9" y="108.2" width="1.0" height="1.0" fill="#6870d0" fill-opacity="0.4"/>
<rect x="112.6" y="92.4" width="1.0" height="1.0" fill="#6870d0" fill-opacity="0.4"/>
<rect x="112.8" y="85.8" width="1.0" height="1.0" fill="#6870d0" fill-opacity="0.4"/>
<rect x="112.1" y="104.6" width="1.0" height="1.0" fill="#6870d0" fill-opacity="0.4"/>
<rect x="105.5" y="104.2" width="1.0" height="1.0" fill="#6870d0" fill-opacity="0.4"/>
<rect x="116.1" y="102.3" width="1.0" height="1.0" fill="#6870d0" fill-opacity="0.4"/>
<rect x="111.6" y="104.5" width="1.0" height="1.0" fill="#6870d0" fill-opacity="0.4"/>
<rect x="111.5" y="91.4" width="1.0" height="1.0" fill="#6870d0" fill-opacity="0.4"/>
<rect x="112.1" y="95.9" width="1.0" height="1.0" fill="#6870d0" fill-opacity="0.4"/>
<rect x="112.2" y="88.0" width="1.0" height="1.0" fill="#6870d0" fill-opacity="0.4"/>
<rect x="114.4" y="87.8" width="1.0" height="1.0" fill="#6870d0" fill-opacity="0.4"/>
<rect x="108.6" y="103.4" width="1.0" height="1.0" fill="#6870d0" fill-opacity="0.4"/>
<rect x="109.7" y="92.6" width="1.0" height="1.0" fill="#6870d0" fill-opacity="0.4"/>
<rect x="114.0" y="111.8" width="1.0" height="1.0" fill="#6870d0" fill-opacity="0.4"/>
<rect x="113.5" y="97.5" width="1.0" height="1.0" fill="#6870d0" fill-opacity="0.4"/>
<rect x="111.7" y="92.8" width="1.0" height="1.0" fill="#6870d0" fill-opacity="0.4"/>
<rect x="111.0" y="102.2" width="1.0" height="1.0" fill="#6870d0" fill-opacity="0.4"/>
<rect x="110.1" y="108.7" width="1.0" height="1.0" fill="#6870d0" fill-opacity="0.4"/>
<rect x="112.8" y="100.2" width="1.0" height="1.0" fill="#6870d0" fill-opacity="0.4"/>
<rect x="117.1" y="89.1" width="1.0" height="1.0" fill="#6870d0" fill-opacity="0.4"/>
<rect x="109.3" y="99.4" width="1.0" height="1.0" fill="#6870d0" fill-opacity="0.4"/>
<rect x="118.3" y="105.9" width="1.0" height="1.0" fill="#6870d0" fill-opacity="0.4"/>
<rect x="116.0" y="93.8" width="1.0" height="1.0" fill="#6870d0" fill-opacity="0.4"/>
<rect x="111.4" y="92.0" width="1.0" height="1.0" fill="#6870d0" fill-opacity="0.4"/>
<rect x="115.7" y="103.6" width="1.0" height="1.0" fill="#6870d0" fill-opacity="0.4"/>
<rect x="107.9" y="97.9" width="1.0" height="1.0" fill="#6870d0" fill-opacity="0.4"/>
<rect x="106.9" y="89.8" width="1.0" height="1.0" fill="#6870d0" fill-opacity="0.4"/>
<rect x="108.5" y="94.5" width="1.0" height="1.0" fill="#6870d0" fill-opacity="0.4"/>
<rect x="111.6" y="92.1" width="1.0" height="1.0" fill="#6870d0" fill-opacity="0.4"/>
<rect x="111.9" y="98.9" width="1.0" height="1.0" fill="#6870d0" fill-opacity="0.4"/>
<rect x="111.2" y="97.7" width="1.0" height="1.0" fill="#6870d0" fill-opacity="0.4"/>
<rect x="113.3" y="104.5" width="1.0" height="1.0" fill="#6870d0" fill-opacity="0.4"/>
<rect x="105.5" y="101.6" width="1.0" height="1.0" fill="#6870d0" fill-opacity="0.4"/>
<rect x="114.7" y="86.8" width="1.0" height="1.0" fill="#6870d0" fill-opacity="0.4"/>
<rect x="108.0" y="99.6" width="1.0" height="1.0" fill="#6870d0" fill-opacity="0.4"/>
<rect x="110.7" y="102.8" width="1.0" height="1.0" fill="#6870d0" fill-opacity="0.4"/>
<rect x="111.6" y="100.0" width="1.0" height="1.0" fill="#6870d0" fill-opacity="0.4"/>
<rect x="109.0" y="103.7" width="1.0" height="1.0" fill="#6870d0" fill-opacity="0.4"/>
<rect x="108.2" y="93.4" width="1.0" height="1.0" fill="#6870d0" fill-opacity="0.4"/>
<rect x="109.5" y="90.8" width="1.0" height="1.0" fill="#6870d0" fill-opacity="0.4"/>
<rect x="113.0" y="103.0" width="1.0" height="1.0" fill="#6870d0" fill-opacity="0.4"/>
<rect x="115.1" y="90.1" width="1.0" height="1.0" fill="#6870d0" fill-opacity="0.4"/>
<defs><linearGradient id="bg1" x1="0" x2="1" y1="0" y2="0"><stop offset="0" stop-color="#6078ec" stop-opacity="0.3"/><stop offset="0.6" stop-color="#4868ea" stop-opacity="0.6"/><stop offset="1" stop-color="#4868ea" stop-opacity="0.45"/></linearGradient></defs>
<rect x="54.5" y="23.5" width="62" height="11.5" fill="url(#bg1)"/>
<rect x="61.6" y="29.7" width="1" height="1" fill="#2a40e0" fill-opacity="0.65"/>
<rect x="100.0" y="29.2" width="1" height="1" fill="#2a40e0" fill-opacity="0.65"/>
<rect x="104.5" y="26.5" width="1" height="1" fill="#2a40e0" fill-opacity="0.65"/>
<rect x="106.4" y="30.4" width="1" height="1" fill="#2a40e0" fill-opacity="0.65"/>
<rect x="115.0" y="27.7" width="1" height="1" fill="#2a40e0" fill-opacity="0.65"/>
<rect x="98.6" y="25.4" width="1" height="1" fill="#2a40e0" fill-opacity="0.65"/>
<rect x="115.1" y="28.5" width="1" height="1" fill="#2a40e0" fill-opacity="0.65"/>
<rect x="71.8" y="36.1" width="1" height="1" fill="#2a40e0" fill-opacity="0.65"/>
<rect x="86.8" y="27.0" width="1" height="1" fill="#2a40e0" fill-opacity="0.65"/>
<rect x="67.8" y="33.8" width="1" height="1" fill="#2a40e0" fill-opacity="0.65"/>
<rect x="59.7" y="34.7" width="1" height="1" fill="#2a40e0" fill-opacity="0.65"/>
<rect x="81.7" y="34.5" width="1" height="1" fill="#2a40e0" fill-opacity="0.65"/>
<rect x="99.1" y="26.1" width="1" height="1" fill="#2a40e0" fill-opacity="0.65"/>
<rect x="102.8" y="35.6" width="1" height="1" fill="#2a40e0" fill-opacity="0.65"/>
<rect x="55.6" y="30.6" width="1" height="1" fill="#2a40e0" fill-opacity="0.65"/>
<rect x="112.9" y="27.6" width="1" height="1" fill="#2a40e0" fill-opacity="0.65"/>
<rect x="69.8" y="29.0" width="1" height="1" fill="#2a40e0" fill-opacity="0.65"/>
<rect x="72.6" y="31.7" width="1" height="1" fill="#2a40e0" fill-opacity="0.65"/>
<rect x="106.1" y="28.8" width="1" height="1" fill="#2a40e0" fill-opacity="0.65"/>
<rect x="109.9" y="28.0" width="1" height="1" fill="#2a40e0" fill-opacity="0.65"/>
<rect x="100.2" y="33.2" width="1" height="1" fill="#2a40e0" fill-opacity="0.65"/>
<rect x="75.1" y="27.1" width="1" height="1" fill="#2a40e0" fill-opacity="0.65"/>
<rect x="83.2" y="25.8" width="1" height="1" fill="#2a40e0" fill-opacity="0.65"/>
<rect x="106.2" y="31.4" width="1" height="1" fill="#2a40e0" fill-opacity="0.65"/>
<rect x="76.7" y="31.9" width="1" height="1" fill="#2a40e0" fill-opacity="0.65"/>
<rect x="104.4" y="32.4" width="1" height="1" fill="#2a40e0" fill-opacity="0.65"/>
<rect x="103.0" y="25.1" width="1" height="1" fill="#2a40e0" fill-opacity="0.65"/>
<rect x="83.6" y="33.0" width="1" height="1" fill="#2a40e0" fill-opacity="0.65"/>
<rect x="110.1" y="30.2" width="1" height="1" fill="#2a40e0" fill-opacity="0.65"/>
<rect x="78.3" y="35.5" width="1" height="1" fill="#2a40e0" fill-opacity="0.65"/>
<rect x="101.0" y="24.6" width="1" height="1" fill="#2a40e0" fill-opacity="0.65"/>
<rect x="94.2" y="29.8" width="1" height="1" fill="#2a40e0" fill-opacity="0.65"/>
<rect x="75.0" y="28.7" width="1" height="1" fill="#2a40e0" fill-opacity="0.65"/>
<rect x="87.5" y="23.8" width="1" height="1" fill="#2a40e0" fill-opacity="0.65"/>
<rect x="92.1" y="26.7" width="1" height="1" fill="#2a40e0" fill-opacity="0.65"/>
<rect x="87.8" y="33.0" width="1" height="1" fill="#2a40e0" fill-opacity="0.65"/>
<rect x="61.4" y="28.4" width="1" height="1" fill="#2a40e0" fill-opacity="0.65"/>
<rect x="116.0" y="25.9" width="1" height="1" fill="#2a40e0" fill-opacity="0.65"/>
<rect x="114.4" y="31.4" width="1" height="1" fill="#2a40e0" fill-opacity="0.65"/>
<rect x="56.8" y="33.5" width="1" height="1" fill="#2a40e0" fill-opacity="0.65"/>
<rect x="113.0" y="31.8" width="1" height="1" fill="#2a40e0" fill-opacity="0.65"/>
<rect x="87.5" y="26.5" width="1" height="1" fill="#2a40e0" fill-opacity="0.65"/>
<rect x="62.3" y="29.8" width="1" height="1" fill="#2a40e0" fill-opacity="0.65"/>
<rect x="105.4" y="32.2" width="1" height="1" fill="#2a40e0" fill-opacity="0.65"/>
<rect x="81.3" y="27.2" width="1" height="1" fill="#2a40e0" fill-opacity="0.65"/>
<rect x="98.7" y="26.3" width="1" height="1" fill="#2a40e0" fill-opacity="0.65"/>
<rect x="105.8" y="31.5" width="1" height="1" fill="#2a40e0" fill-opacity="0.65"/>
<rect x="87.9" y="34.5" width="1" height="1" fill="#2a40e0" fill-opacity="0.65"/>
<rect x="57.6" y="26.2" width="1" height="1" fill="#2a40e0" fill-opacity="0.65"/>
<rect x="97.5" y="24.0" width="1" height="1" fill="#2a40e0" fill-opacity="0.65"/>
<rect x="110.9" y="25.1" width="1" height="1" fill="#2a40e0" fill-opacity="0.65"/>
<rect x="71.2" y="29.2" width="1" height="1" fill="#2a40e0" fill-opacity="0.65"/>
<rect x="103.2" y="30.8" width="1" height="1" fill="#2a40e0" fill-opacity="0.65"/>
<rect x="108.6" y="28.1" width="1" height="1" fill="#2a40e0" fill-opacity="0.65"/>
<rect x="76.5" y="27.2" width="1" height="1" fill="#2a40e0" fill-opacity="0.65"/>
<rect x="79.9" y="30.0" width="1" height="1" fill="#2a40e0" fill-opacity="0.65"/>
<rect x="75.2" y="26.3" width="1" height="1" fill="#2a40e0" fill-opacity="0.65"/>
<rect x="54.9" y="30.0" width="1" height="1" fill="#2a40e0" fill-opacity="0.65"/>
<rect x="68.9" y="27.6" width="1" height="1" fill="#2a40e0" fill-opacity="0.65"/>
<rect x="61.2" y="32.8" width="1" height="1" fill="#2a40e0" fill-opacity="0.65"/>
<rect x="102.0" y="26.0" width="1" height="1" fill="#2a40e0" fill-opacity="0.65"/>
<rect x="81.0" y="26.0" width="1" height="1" fill="#2a40e0" fill-opacity="0.65"/>
<rect x="89.7" y="27.7" width="1" height="1" fill="#2a40e0" fill-opacity="0.65"/>
<rect x="72.1" y="24.1" width="1" height="1" fill="#2a40e0" fill-opacity="0.65"/>
<rect x="76.8" y="27.1" width="1" height="1" fill="#2a40e0" fill-opacity="0.65"/>
<rect x="101.2" y="26.3" width="1" height="1" fill="#2a40e0" fill-opacity="0.65"/>
<rect x="83.6" y="32.3" width="1" height="1" fill="#2a40e0" fill-opacity="0.65"/>
<rect x="91.5" y="27.7" width="1" height="1" fill="#2a40e0" fill-opacity="0.65"/>
<rect x="80.7" y="26.7" width="1" height="1" fill="#2a40e0" fill-opacity="0.65"/>
<rect x="89.0" y="24.6" width="1" height="1" fill="#2a40e0" fill-opacity="0.65"/>
<rect x="110.1" y="24.5" width="1" height="1" fill="#2a40e0" fill-opacity="0.65"/>
<rect x="71.1" y="29.5" width="1" height="1" fill="#2a40e0" fill-opacity="0.65"/>
<rect x="86.7" y="28.5" width="1" height="1" fill="#2a40e0" fill-opacity="0.65"/>
<rect x="97.1" y="32.8" width="1" height="1" fill="#2a40e0" fill-opacity="0.65"/>
<rect x="59.9" y="27.9" width="1" height="1" fill="#2a40e0" fill-opacity="0.65"/>
<rect x="114.1" y="32.0" width="1" height="1" fill="#2a40e0" fill-opacity="0.65"/>
<rect x="85.4" y="30.2" width="1" height="1" fill="#2a40e0" fill-opacity="0.65"/>
<rect x="69.7" y="29.7" width="1" height="1" fill="#2a40e0" fill-opacity="0.65"/>
<rect x="101.6" y="22.0" width="1" height="1" fill="#2a40e0" fill-opacity="0.65"/>
<rect x="105.1" y="24.3" width="1" height="1" fill="#2a40e0" fill-opacity="0.65"/>
<rect x="93.6" y="31.6" width="1" height="1" fill="#2a40e0" fill-opacity="0.65"/>
<rect x="111.3" y="33.3" width="1" height="1" fill="#2a40e0" fill-opacity="0.65"/>
<rect x="60.0" y="30.8" width="1" height="1" fill="#2a40e0" fill-opacity="0.65"/>
<rect x="87.2" y="31.8" width="1" height="1" fill="#2a40e0" fill-opacity="0.65"/>
<rect x="100.6" y="27.4" width="1" height="1" fill="#2a40e0" fill-opacity="0.65"/>
<rect x="111.3" y="27.2" width="1" height="1" fill="#2a40e0" fill-opacity="0.65"/>
<rect x="94.3" y="26.8" width="1" height="1" fill="#2a40e0" fill-opacity="0.65"/>
<rect x="91.8" y="32.4" width="1" height="1" fill="#2a40e0" fill-opacity="0.65"/>
<rect x="78.6" y="30.7" width="1" height="1" fill="#2a40e0" fill-opacity="0.65"/>
<rect x="89.9" y="28.4" width="1" height="1" fill="#2a40e0" fill-opacity="0.65"/>
<rect x="88.9" y="28.1" width="1" height="1" fill="#2a40e0" fill-opacity="0.65"/>
<rect x="110.6" y="30.4" width="1" height="1" fill="#2a40e0" fill-opacity="0.65"/>
<rect x="105.8" y="29.8" width="1" height="1" fill="#2a40e0" fill-opacity="0.65"/>
<rect x="100.2" y="26.0" width="1" height="1" fill="#2a40e0" fill-opacity="0.65"/>
<rect x="111.8" y="34.3" width="1" height="1" fill="#2a40e0" fill-opacity="0.65"/>
<rect x="58.6" y="31.0" width="1" height="1" fill="#2a40e0" fill-opacity="0.65"/>
<rect x="102.2" y="28.8" width="1" height="1" fill="#2a40e0" fill-opacity="0.65"/>
<rect x="83.2" y="34.4" width="1" height="1" fill="#2a40e0" fill-opacity="0.65"/>
<rect x="101.1" y="32.3" width="1" height="1" fill="#2a40e0" fill-opacity="0.65"/>
<rect x="72.9" y="29.4" width="1" height="1" fill="#2a40e0" fill-opacity="0.65"/>
<rect x="83.5" y="31.2" width="1" height="1" fill="#2a40e0" fill-opacity="0.65"/>
<rect x="105.6" y="25.0" width="1" height="1" fill="#2a40e0" fill-opacity="0.65"/>
<rect x="56.7" y="28.0" width="1" height="1" fill="#2a40e0" fill-opacity="0.65"/>
<rect x="72.5" y="22.0" width="1" height="1" fill="#2a40e0" fill-opacity="0.65"/>
<rect x="84.8" y="33.5" width="1" height="1" fill="#2a40e0" fill-opacity="0.65"/>
<rect x="107.3" y="22.2" width="1" height="1" fill="#2a40e0" fill-opacity="0.65"/>
<rect x="71.2" y="32.0" width="1" height="1" fill="#2a40e0" fill-opacity="0.65"/>
<rect x="105.5" y="25.9" width="1" height="1" fill="#2a40e0" fill-opacity="0.65"/>
<rect x="69.7" y="26.4" width="1" height="1" fill="#2a40e0" fill-opacity="0.65"/>
<rect x="73.3" y="29.0" width="1" height="1" fill="#2a40e0" fill-opacity="0.65"/>
<rect x="88.8" y="30.1" width="1" height="1" fill="#2a40e0" fill-opacity="0.65"/>
<rect x="95.0" y="31.1" width="1" height="1" fill="#2a40e0" fill-opacity="0.65"/>
<rect x="109.1" y="34.6" width="1" height="1" fill="#2a40e0" fill-opacity="0.65"/>
<rect x="109.0" y="29.8" width="1" height="1" fill="#2a40e0" fill-opacity="0.65"/>
<rect x="70.0" y="32.7" width="1" height="1" fill="#2a40e0" fill-opacity="0.65"/>
<rect x="100.7" y="26.8" width="1" height="1" fill="#2a40e0" fill-opacity="0.65"/>
<rect x="93.9" y="31.5" width="1" height="1" fill="#2a40e0" fill-opacity="0.65"/>
<rect x="78.4" y="30.0" width="1" height="1" fill="#2a40e0" fill-opacity="0.65"/>
<rect x="102.6" y="27.2" width="1" height="1" fill="#2a40e0" fill-opacity="0.65"/>
<rect x="110.1" y="28.2" width="1" height="1" fill="#2a40e0" fill-opacity="0.65"/>
<rect x="84.2" y="29.1" width="1" height="1" fill="#2a40e0" fill-opacity="0.65"/>
<rect x="111.3" y="29.2" width="1" height="1" fill="#2a40e0" fill-opacity="0.65"/>
<rect x="62.4" y="31.3" width="1" height="1" fill="#2a40e0" fill-opacity="0.65"/>
<rect x="64.8" y="28.2" width="1" height="1" fill="#2a40e0" fill-opacity="0.65"/>
<rect x="101.9" y="26.3" width="1" height="1" fill="#2a40e0" fill-opacity="0.65"/>
<rect x="73.4" y="32.2" width="1" height="1" fill="#2a40e0" fill-opacity="0.65"/>
<rect x="90.8" y="23.4" width="1" height="1" fill="#2a40e0" fill-opacity="0.65"/>
<rect x="85.3" y="27.2" width="1" height="1" fill="#2a40e0" fill-opacity="0.65"/>
<rect x="63.5" y="35.2" width="1" height="1" fill="#2a40e0" fill-opacity="0.65"/>
<rect x="100.5" y="26.5" width="1" height="1" fill="#2a40e0" fill-opacity="0.65"/>
<rect x="63.5" y="32.3" width="1" height="1" fill="#2a40e0" fill-opacity="0.65"/>
<rect x="70.6" y="24.1" width="1" height="1" fill="#2a40e0" fill-opacity="0.65"/>
<rect x="108.4" y="33.5" width="1" height="1" fill="#2a40e0" fill-opacity="0.65"/>
<rect x="85.6" y="34.6" width="1" height="1" fill="#2a40e0" fill-opacity="0.65"/>
<rect x="77.3" y="32.6" width="1" height="1" fill="#2a40e0" fill-opacity="0.65"/>
<rect x="82.1" y="28.6" width="1" height="1" fill="#2a40e0" fill-opacity="0.65"/>
<rect x="65.4" y="31.1" width="1" height="1" fill="#2a40e0" fill-opacity="0.65"/>
<rect x="85.3" y="26.2" width="1" height="1" fill="#2a40e0" fill-opacity="0.65"/>
<rect x="68.8" y="32.5" width="1" height="1" fill="#2a40e0" fill-opacity="0.65"/>
<rect x="64.5" y="26.1" width="1" height="1" fill="#2a40e0" fill-opacity="0.65"/>
<rect x="78.1" y="28.6" width="1" height="1" fill="#2a40e0" fill-opacity="0.65"/>
<rect x="58.5" y="33.5" width="1" height="1" fill="#2a40e0" fill-opacity="0.65"/>
<rect x="83.7" y="25.6" width="1" height="1" fill="#2a40e0" fill-opacity="0.65"/>
<rect x="97.7" y="27.7" width="1" height="1" fill="#2a40e0" fill-opacity="0.65"/>
<rect x="94.9" y="29.6" width="1" height="1" fill="#2a40e0" fill-opacity="0.65"/>
<rect x="115.0" y="23.8" width="1" height="1" fill="#2a40e0" fill-opacity="0.65"/>
<rect x="109.4" y="32.5" width="1" height="1" fill="#2a40e0" fill-opacity="0.65"/>
<rect x="93.8" y="30.2" width="1" height="1" fill="#2a40e0" fill-opacity="0.65"/>
<rect x="110.2" y="23.4" width="1" height="1" fill="#2a40e0" fill-opacity="0.65"/>
<rect x="82.1" y="29.2" width="1" height="1" fill="#2a40e0" fill-opacity="0.65"/>
<rect x="104.0" y="26.1" width="1" height="1" fill="#2a40e0" fill-opacity="0.65"/>
<rect x="72.1" y="27.5" width="1" height="1" fill="#2a40e0" fill-opacity="0.65"/>
<rect x="87.2" y="29.5" width="1" height="1" fill="#2a40e0" fill-opacity="0.65"/>
<rect x="115.3" y="26.0" width="1" height="1" fill="#2a40e0" fill-opacity="0.65"/>
<rect x="91.6" y="32.4" width="1" height="1" fill="#2a40e0" fill-opacity="0.65"/>
<rect x="85.9" y="26.9" width="1" height="1" fill="#2a40e0" fill-opacity="0.65"/>
<rect x="103.3" y="32.1" width="1" height="1" fill="#2a40e0" fill-opacity="0.65"/>
<rect x="73.9" y="29.5" width="1" height="1" fill="#2a40e0" fill-opacity="0.65"/>
<rect x="106.0" y="31.6" width="1" height="1" fill="#2a40e0" fill-opacity="0.65"/>
<rect x="55.6" y="28.3" width="1" height="1" fill="#2a40e0" fill-opacity="0.65"/>
<rect x="69.3" y="28.1" width="1" height="1" fill="#2a40e0" fill-opacity="0.65"/>
<rect x="65.5" y="26.0" width="1" height="1" fill="#2a40e0" fill-opacity="0.65"/>
<rect x="70.5" y="31.7" width="1" height="1" fill="#2a40e0" fill-opacity="0.65"/>
<rect x="113.1" y="31.6" width="1" height="1" fill="#2a40e0" fill-opacity="0.65"/>
<rect x="73.0" y="34.0" width="1" height="1" fill="#2a40e0" fill-opacity="0.65"/>
<rect x="90.1" y="30.0" width="1" height="1" fill="#2a40e0" fill-opacity="0.65"/>
<rect x="98.1" y="28.2" width="1" height="1" fill="#2a40e0" fill-opacity="0.65"/>
<rect x="102.5" y="30.1" width="1" height="1" fill="#2a40e0" fill-opacity="0.65"/>
<rect x="78.3" y="29.4" width="1" height="1" fill="#2a40e0" fill-opacity="0.65"/>
<rect x="68.2" y="34.8" width="1" height="1" fill="#2a40e0" fill-opacity="0.65"/>
<rect x="107.3" y="31.8" width="1" height="1" fill="#2a40e0" fill-opacity="0.65"/>
<rect x="62.1" y="27.1" width="1" height="1" fill="#2a40e0" fill-opacity="0.65"/>
<rect x="58.5" y="27.8" width="1" height="1" fill="#2a40e0" fill-opacity="0.65"/>
<rect x="68.9" y="34.4" width="1" height="1" fill="#2a40e0" fill-opacity="0.65"/>
<rect x="85.0" y="30.3" width="1" height="1" fill="#2a40e0" fill-opacity="0.65"/>
<rect x="112.9" y="27.7" width="1" height="1" fill="#2a40e0" fill-opacity="0.65"/>
<rect x="99.7" y="32.9" width="1" height="1" fill="#2a40e0" fill-opacity="0.65"/>
<rect x="89.5" y="27.8" width="1" height="1" fill="#2a40e0" fill-opacity="0.65"/>
<rect x="86.8" y="28.3" width="1" height="1" fill="#2a40e0" fill-opacity="0.65"/>
<rect x="97.5" y="27.4" width="1" height="1" fill="#2a40e0" fill-opacity="0.65"/>
<rect x="93.3" y="22.4" width="1" height="1" fill="#2a40e0" fill-opacity="0.65"/>
<rect x="75.4" y="32.5" width="1" height="1" fill="#2a40e0" fill-opacity="0.65"/>
<rect x="60.2" y="25.9" width="1" height="1" fill="#2a40e0" fill-opacity="0.65"/>
<rect x="67.0" y="27.9" width="1" height="1" fill="#2a40e0" fill-opacity="0.65"/>
<rect x="103.0" y="26.2" width="1" height="1" fill="#2a40e0" fill-opacity="0.65"/>
<rect x="93.8" y="31.5" width="1" height="1" fill="#2a40e0" fill-opacity="0.65"/>
<rect x="103.9" y="28.5" width="1" height="1" fill="#2a40e0" fill-opacity="0.65"/>
<rect x="57.3" y="30.2" width="1" height="1" fill="#2a40e0" fill-opacity="0.65"/>
<rect x="110.4" y="22.8" width="1" height="1" fill="#2a40e0" fill-opacity="0.65"/>
<rect x="78.2" y="29.2" width="1" height="1" fill="#2a40e0" fill-opacity="0.65"/>
<rect x="111.9" y="23.5" width="1" height="1" fill="#2a40e0" fill-opacity="0.65"/>
<rect x="91.4" y="30.2" width="1" height="1" fill="#2a40e0" fill-opacity="0.65"/>
<rect x="88.4" y="30.4" width="1" height="1" fill="#2a40e0" fill-opacity="0.65"/>
<rect x="105.2" y="28.6" width="1" height="1" fill="#2a40e0" fill-opacity="0.65"/>
<rect x="93.3" y="36.0" width="1" height="1" fill="#2a40e0" fill-opacity="0.65"/>
<rect x="96.3" y="30.8" width="1" height="1" fill="#2a40e0" fill-opacity="0.65"/>
<rect x="64.3" y="31.9" width="1" height="1" fill="#2a40e0" fill-opacity="0.65"/>
<rect x="92.0" y="29.6" width="1" height="1" fill="#2a40e0" fill-opacity="0.65"/>
<rect x="76.6" y="28.9" width="1" height="1" fill="#2a40e0" fill-opacity="0.65"/>
<rect x="59.2" y="33.4" width="1" height="1" fill="#2a40e0" fill-opacity="0.65"/>
<rect x="62.8" y="33.7" width="1" height="1" fill="#2a40e0" fill-opacity="0.65"/>
<rect x="84.2" y="24.9" width="1" height="1" fill="#2a40e0" fill-opacity="0.65"/>
<rect x="70.8" y="33.3" width="1" height="1" fill="#2a40e0" fill-opacity="0.65"/>
<rect x="102.0" y="30.5" width="1" height="1" fill="#2a40e0" fill-opacity="0.65"/>
<rect x="62.1" y="33.3" width="1" height="1" fill="#2a40e0" fill-opacity="0.65"/>
<rect x="55.4" y="31.8" width="1" height="1" fill="#2a40e0" fill-opacity="0.65"/>
<rect x="116.3" y="24.1" width="1" height="1" fill="#2a40e0" fill-opacity="0.65"/>
<rect x="73.9" y="25.6" width="1" height="1" fill="#2a40e0" fill-opacity="0.65"/>
<rect x="86.1" y="35.5" width="1" height="1" fill="#2a40e0" fill-opacity="0.65"/>
<rect x="67.5" y="30.7" width="1" height="1" fill="#2a40e0" fill-opacity="0.65"/>
<rect x="67.4" y="25.0" width="1" height="1" fill="#2a40e0" fill-opacity="0.65"/>
<rect x="79.4" y="30.7" width="1" height="1" fill="#2a40e0" fill-opacity="0.65"/>
<rect x="103.5" y="27.5" width="1" height="1" fill="#2a40e0" fill-opacity="0.65"/>
<rect x="56.9" y="23.9" width="1" height="1" fill="#2a40e0" fill-opacity="0.65"/>
<rect x="115.9" y="22.9" width="1" height="1" fill="#2a40e0" fill-opacity="0.65"/>
<rect x="89.2" y="30.1" width="1" height="1" fill="#2a40e0" fill-opacity="0.65"/>
<rect x="76.8" y="29.4" width="1" height="1" fill="#2a40e0" fill-opacity="0.65"/>
<rect x="69.0" y="28.9" width="1" height="1" fill="#2a40e0" fill-opacity="0.65"/>
<rect x="65.8" y="30.8" width="1" height="1" fill="#2a40e0" fill-opacity="0.65"/>
<rect x="74.5" y="31.7" width="1" height="1" fill="#2a40e0" fill-opacity="0.65"/>
<rect x="54.7" y="29.2" width="1" height="1" fill="#2a40e0" fill-opacity="0.65"/>
<rect x="103.2" y="25.9" width="1" height="1" fill="#2a40e0" fill-opacity="0.65"/>
<rect x="95.9" y="24.8" width="1" height="1" fill="#2a40e0" fill-opacity="0.65"/>
<rect x="55.7" y="28.3" width="1" height="1" fill="#2a40e0" fill-opacity="0.65"/>
<rect x="58.8" y="29.7" width="1" height="1" fill="#2a40e0" fill-opacity="0.65"/>
<rect x="100.1" y="27.9" width="1" height="1" fill="#2a40e0" fill-opacity="0.65"/>
<rect x="96.2" y="24.0" width="1" height="1" fill="#2a40e0" fill-opacity="0.65"/>
<rect x="73.9" y="28.0" width="1" height="1" fill="#2a40e0" fill-opacity="0.65"/>
<rect x="107.9" y="35.5" width="1" height="1" fill="#2a40e0" fill-opacity="0.65"/>
<rect x="67.5" y="26.2" width="1" height="1" fill="#2a40e0" fill-opacity="0.65"/>
<rect x="81.0" y="23.7" width="1" height="1" fill="#2a40e0" fill-opacity="0.65"/>
<rect x="61.6" y="30.9" width="1" height="1" fill="#2a40e0" fill-opacity="0.65"/>
<rect x="94.5" y="31.0" width="1" height="1" fill="#2a40e0" fill-opacity="0.65"/>
<rect x="59.9" y="31.6" width="1" height="1" fill="#2a40e0" fill-opacity="0.65"/>
<rect x="65.6" y="26.1" width="1" height="1" fill="#2a40e0" fill-opacity="0.65"/>
<rect x="102.0" y="32.2" width="1" height="1" fill="#2a40e0" fill-opacity="0.65"/>
<rect x="85.5" y="26.6" width="1" height="1" fill="#2a40e0" fill-opacity="0.65"/>
<rect x="95.5" y="25.1" width="1" height="1" fill="#2a40e0" fill-opacity="0.65"/>
<rect x="100.0" y="26.8" width="1" height="1" fill="#2a40e0" fill-opacity="0.65"/>
<rect x="92.1" y="28.7" width="1" height="1" fill="#2a40e0" fill-opacity="0.65"/>
<rect x="66.8" y="32.3" width="1" height="1" fill="#2a40e0" fill-opacity="0.65"/>
<rect x="97.8" y="31.0" width="1" height="1" fill="#2a40e0" fill-opacity="0.65"/>
<rect x="61.7" y="29.9" width="1" height="1" fill="#2a40e0" fill-opacity="0.65"/>
<rect x="71.2" y="32.9" width="1" height="1" fill="#2a40e0" fill-opacity="0.65"/>
<rect x="82.3" y="29.7" width="1" height="1" fill="#2a40e0" fill-opacity="0.65"/>
<rect x="61.6" y="33.0" width="1" height="1" fill="#2a40e0" fill-opacity="0.65"/>
<rect x="61.1" y="25.2" width="1" height="1" fill="#2a40e0" fill-opacity="0.65"/>
<rect x="94.9" y="23.6" width="1" height="1" fill="#2a40e0" fill-opacity="0.65"/>
<rect x="100.5" y="31.5" width="1" height="1" fill="#2a40e0" fill-opacity="0.65"/>
<rect x="77.5" y="24.8" width="1" height="1" fill="#2a40e0" fill-opacity="0.65"/>
<rect x="78.7" y="28.5" width="1" height="1" fill="#2a40e0" fill-opacity="0.65"/>
<rect x="67.4" y="29.5" width="1" height="1" fill="#2a40e0" fill-opacity="0.65"/>
<rect x="86.8" y="27.6" width="1" height="1" fill="#2a40e0" fill-opacity="0.65"/>
<rect x="90.5" y="27.6" width="1" height="1" fill="#2a40e0" fill-opacity="0.65"/>
<rect x="112.4" y="33.2" width="1" height="1" fill="#2a40e0" fill-opacity="0.65"/>
<rect x="110.8" y="31.5" width="1" height="1" fill="#2a40e0" fill-opacity="0.65"/>
<rect x="115.9" y="36.2" width="1" height="1" fill="#2a40e0" fill-opacity="0.65"/>
<rect x="76.0" y="29.7" width="1" height="1" fill="#2a40e0" fill-opacity="0.65"/>
<rect x="99.5" y="28.8" width="1" height="1" fill="#2a40e0" fill-opacity="0.65"/>
<rect x="105.6" y="31.2" width="1" height="1" fill="#2a40e0" fill-opacity="0.65"/>
<rect x="94.9" y="35.2" width="1" height="1" fill="#2a40e0" fill-opacity="0.65"/>
<rect x="72.4" y="25.6" width="1" height="1" fill="#2a40e0" fill-opacity="0.65"/>
<rect x="93.1" y="29.4" width="1" height="1" fill="#2a40e0" fill-opacity="0.65"/>
<rect x="108.9" y="28.0" width="1" height="1" fill="#2a40e0" fill-opacity="0.65"/>
<rect x="61.1" y="31.9" width="1" height="1" fill="#2a40e0" fill-opacity="0.65"/>
<rect x="84.3" y="29.9" width="1" height="1" fill="#2a40e0" fill-opacity="0.65"/>
<rect x="55.9" y="32.4" width="1" height="1" fill="#2a40e0" fill-opacity="0.65"/>
<rect x="106.9" y="27.2" width="1" height="1" fill="#2a40e0" fill-opacity="0.65"/>
<rect x="102.8" y="28.9" width="1" height="1" fill="#2a40e0" fill-opacity="0.65"/>
<rect x="57.4" y="27.9" width="1" height="1" fill="#2a40e0" fill-opacity="0.65"/>
<rect x="100.7" y="26.6" width="1" height="1" fill="#2a40e0" fill-opacity="0.65"/>
<rect x="97.4" y="28.4" width="1" height="1" fill="#2a40e0" fill-opacity="0.65"/>
<rect x="62.3" y="29.5" width="1" height="1" fill="#2a40e0" fill-opacity="0.65"/>
<rect x="87.1" y="25.3" width="1" height="1" fill="#2a40e0" fill-opacity="0.65"/>
<rect x="97.2" y="34.3" width="1" height="1" fill="#2a40e0" fill-opacity="0.65"/>
<rect x="75.3" y="29.1" width="1" height="1" fill="#2a40e0" fill-opacity="0.65"/>
<rect x="85.7" y="24.6" width="1" height="1" fill="#2a40e0" fill-opacity="0.65"/>
<rect x="115.0" y="32.1" width="1" height="1" fill="#2a40e0" fill-opacity="0.65"/>
<rect x="93.9" y="26.5" width="1" height="1" fill="#2a40e0" fill-opacity="0.65"/>
<rect x="85.6" y="31.0" width="1" height="1" fill="#2a40e0" fill-opacity="0.65"/>
<rect x="58.6" y="30.0" width="1" height="1" fill="#2a40e0" fill-opacity="0.65"/>
<rect x="62.0" y="30.8" width="1" height="1" fill="#2a40e0" fill-opacity="0.65"/>
<rect x="107.2" y="29.2" width="1" height="1" fill="#2a40e0" fill-opacity="0.65"/>
<rect x="100.5" y="26.9" width="1" height="1" fill="#2a40e0" fill-opacity="0.65"/>
<rect x="106.3" y="28.8" width="1" height="1" fill="#2a40e0" fill-opacity="0.65"/>
<rect x="90.3" y="36.1" width="1" height="1" fill="#2a40e0" fill-opacity="0.65"/>
<rect x="87.4" y="29.5" width="1" height="1" fill="#2a40e0" fill-opacity="0.65"/>
<rect x="100.1" y="30.3" width="1" height="1" fill="#2a40e0" fill-opacity="0.65"/>
<rect x="75.0" y="26.0" width="1" height="1" fill="#2a40e0" fill-opacity="0.65"/>
<rect x="85.3" y="24.6" width="1" height="1" fill="#2a40e0" fill-opacity="0.65"/>
<rect x="83.6" y="36.7" width="1" height="1" fill="#2a40e0" fill-opacity="0.65"/>
<rect x="95.5" y="27.7" width="1" height="1" fill="#2a40e0" fill-opacity="0.65"/>
<rect x="67.9" y="36.9" width="1" height="1" fill="#2a40e0" fill-opacity="0.65"/>
<rect x="56.1" y="32.0" width="1" height="1" fill="#2a40e0" fill-opacity="0.65"/>
<rect x="60.0" y="30.3" width="1" height="1" fill="#2a40e0" fill-opacity="0.65"/>
<rect x="65.6" y="31.5" width="1" height="1" fill="#2a40e0" fill-opacity="0.65"/>
<rect x="107.6" y="30.8" width="1" height="1" fill="#2a40e0" fill-opacity="0.65"/>
<rect x="98.9" y="32.9" width="1" height="1" fill="#2a40e0" fill-opacity="0.65"/>
<rect x="101.0" y="30.3" width="1" height="1" fill="#2a40e0" fill-opacity="0.65"/>
<rect x="82.0" y="29.9" width="1" height="1" fill="#2a40e0" fill-opacity="0.65"/>
<rect x="60.9" y="30.6" width="1" height="1" fill="#2a40e0" fill-opacity="0.65"/>
<rect x="83.3" y="33.9" width="1" height="1" fill="#2a40e0" fill-opacity="0.65"/>
<rect x="108.0" y="31.4" width="1" height="1" fill="#2a40e0" fill-opacity="0.65"/>
<rect x="86.1" y="25.9" width="1" height="1" fill="#2a40e0" fill-opacity="0.65"/>
<rect x="93.7" y="26.9" width="1" height="1" fill="#2a40e0" fill-opacity="0.65"/>
<rect x="77.7" y="30.6" width="1" height="1" fill="#2a40e0" fill-opacity="0.65"/>
<rect x="63.8" y="27.8" width="1" height="1" fill="#2a40e0" fill-opacity="0.65"/>
<rect x="93.4" y="27.8" width="1" height="1" fill="#2a40e0" fill-opacity="0.65"/>
<rect x="84.6" y="26.1" width="1" height="1" fill="#2a40e0" fill-opacity="0.65"/>
<rect x="75.9" y="28.7" width="1" height="1" fill="#2a40e0" fill-opacity="0.65"/>
<rect x="70.5" y="31.2" width="1" height="1" fill="#2a40e0" fill-opacity="0.65"/>
<rect x="97.7" y="32.3" width="1" height="1" fill="#2a40e0" fill-opacity="0.65"/>
<rect x="74.2" y="29.7" width="1" height="1" fill="#2a40e0" fill-opacity="0.65"/>
<rect x="90.2" y="36.2" width="1" height="1" fill="#2a40e0" fill-opacity="0.65"/>
<rect x="70.6" y="29.5" width="1" height="1" fill="#2a40e0" fill-opacity="0.65"/>
<rect x="77.7" y="32.9" width="1" height="1" fill="#2a40e0" fill-opacity="0.65"/>
<rect x="84.2" y="31.0" width="1" height="1" fill="#2a40e0" fill-opacity="0.65"/>
<rect x="112.0" y="26.8" width="1" height="1" fill="#2a40e0" fill-opacity="0.65"/>
<rect x="100.2" y="28.3" width="1" height="1" fill="#2a40e0" fill-opacity="0.65"/>
<rect x="75.5" y="30.2" width="1" height="1" fill="#2a40e0" fill-opacity="0.65"/>
<rect x="106.6" y="35.2" width="1" height="1" fill="#2a40e0" fill-opacity="0.65"/>
<rect x="78.4" y="24.8" width="1" height="1" fill="#2a40e0" fill-opacity="0.65"/>
<rect x="115.8" y="34.9" width="1" height="1" fill="#2a40e0" fill-opacity="0.65"/>
<rect x="110.0" y="27.7" width="1" height="1" fill="#2a40e0" fill-opacity="0.65"/>
<rect x="95.4" y="31.5" width="1" height="1" fill="#2a40e0" fill-opacity="0.65"/>
<rect x="88.2" y="29.7" width="1" height="1" fill="#2a40e0" fill-opacity="0.65"/>
<rect x="100.0" y="27.7" width="1" height="1" fill="#2a40e0" fill-opacity="0.65"/>
<rect x="62.2" y="32.3" width="1" height="1" fill="#2a40e0" fill-opacity="0.65"/>
<rect x="115.8" y="28.7" width="1" height="1" fill="#2a40e0" fill-opacity="0.65"/>
<rect x="104.1" y="24.8" width="1" height="1" fill="#2a40e0" fill-opacity="0.65"/>
<rect x="63.3" y="33.2" width="1" height="1" fill="#2a40e0" fill-opacity="0.65"/>
<rect x="69.5" y="32.1" width="1" height="1" fill="#2a40e0" fill-opacity="0.65"/>
<rect x="90.1" y="31.2" width="1" height="1" fill="#2a40e0" fill-opacity="0.65"/>
<rect x="101.8" y="32.2" width="1" height="1" fill="#2a40e0" fill-opacity="0.65"/>
<rect x="63.7" y="33.7" width="1" height="1" fill="#2a40e0" fill-opacity="0.65"/>
<rect x="114.1" y="28.4" width="1" height="1" fill="#2a40e0" fill-opacity="0.65"/>
<rect x="75.9" y="25.0" width="1" height="1" fill="#2a40e0" fill-opacity="0.65"/>
<rect x="116.2" y="23.7" width="1" height="1" fill="#2a40e0" fill-opacity="0.65"/>
<rect x="101.2" y="33.4" width="1" height="1" fill="#2a40e0" fill-opacity="0.65"/>
<rect x="84.6" y="31.7" width="1" height="1" fill="#2a40e0" fill-opacity="0.65"/>
<rect x="77.0" y="29.9" width="1" height="1" fill="#2a40e0" fill-opacity="0.65"/>
<rect x="60.5" y="28.6" width="1" height="1" fill="#2a40e0" fill-opacity="0.65"/>
<rect x="59.9" y="30.2" width="1" height="1" fill="#2a40e0" fill-opacity="0.65"/>
<rect x="93.5" y="29.1" width="1" height="1" fill="#2a40e0" fill-opacity="0.65"/>
<rect x="102.5" y="27.6" width="1" height="1" fill="#2a40e0" fill-opacity="0.65"/>
<rect x="110.8" y="26.2" width="1" height="1" fill="#2a40e0" fill-opacity="0.65"/>
<rect x="77.1" y="36.9" width="1" height="1" fill="#2a40e0" fill-opacity="0.65"/>
<rect x="112.6" y="29.2" width="1" height="1" fill="#2a40e0" fill-opacity="0.65"/>
<rect x="72.9" y="27.6" width="1" height="1" fill="#2a40e0" fill-opacity="0.65"/>
<rect x="112.8" y="24.0" width="1" height="1" fill="#2a40e0" fill-opacity="0.65"/>
<rect x="111.5" y="26.0" width="1" height="1" fill="#2a40e0" fill-opacity="0.65"/>
<rect x="64.1" y="32.4" width="1" height="1" fill="#2a40e0" fill-opacity="0.65"/>
<rect x="107.9" y="31.2" width="1" height="1" fill="#2a40e0" fill-opacity="0.65"/>
<rect x="98.1" y="28.2" width="1" height="1" fill="#2a40e0" fill-opacity="0.65"/>
<rect x="98.1" y="29.1" width="1" height="1" fill="#2a40e0" fill-opacity="0.65"/>
<rect x="106.6" y="27.6" width="1" height="1" fill="#2a40e0" fill-opacity="0.65"/>
<rect x="87.8" y="25.5" width="1" height="1" fill="#2a40e0" fill-opacity="0.65"/>
<rect x="85.9" y="33.7" width="1" height="1" fill="#2a40e0" fill-opacity="0.65"/>
<rect x="77.3" y="30.8" width="1" height="1" fill="#2a40e0" fill-opacity="0.65"/>
<rect x="108.1" y="37.0" width="1" height="1" fill="#2a40e0" fill-opacity="0.65"/>
<rect x="110.4" y="26.0" width="1" height="1" fill="#2a40e0" fill-opacity="0.65"/>
<rect x="64.5" y="29.4" width="1" height="1" fill="#2a40e0" fill-opacity="0.65"/>
<rect x="102.4" y="31.8" width="1" height="1" fill="#2a40e0" fill-opacity="0.65"/>
<rect x="71.6" y="28.9" width="1" height="1" fill="#2a40e0" fill-opacity="0.65"/>
<rect x="65.9" y="25.2" width="1" height="1" fill="#2a40e0" fill-opacity="0.65"/>
<rect x="66.7" y="26.6" width="1" height="1" fill="#2a40e0" fill-opacity="0.65"/>
<rect x="90.0" y="29.5" width="1" height="1" fill="#2a40e0" fill-opacity="0.65"/>
<rect x="71.8" y="30.9" width="1" height="1" fill="#2a40e0" fill-opacity="0.65"/>
<rect x="69.5" y="29.4" width="1" height="1" fill="#2a40e0" fill-opacity="0.65"/>
<rect x="60.6" y="33.4" width="1" height="1" fill="#2a40e0" fill-opacity="0.65"/>
<rect x="74.6" y="33.0" width="1" height="1" fill="#2a40e0" fill-opacity="0.65"/>
<rect x="102.5" y="29.9" width="1" height="1" fill="#2a40e0" fill-opacity="0.65"/>
<rect x="55.8" y="30.3" width="1" height="1" fill="#2a40e0" fill-opacity="0.65"/>
<rect x="84.4" y="28.5" width="1" height="1" fill="#2a40e0" fill-opacity="0.65"/>
<rect x="91.9" y="31.0" width="1" height="1" fill="#2a40e0" fill-opacity="0.65"/>
<rect x="57.6" y="33.2" width="1" height="1" fill="#2a40e0" fill-opacity="0.65"/>
<rect x="72.7" y="29.9" width="1" height="1" fill="#2a40e0" fill-opacity="0.65"/>
<rect x="110.7" y="30.1" width="1" height="1" fill="#2a40e0" fill-opacity="0.65"/>
<rect x="116.1" y="27.3" width="1" height="1" fill="#2a40e0" fill-opacity="0.65"/>
<rect x="107.2" y="23.8" width="1" height="1" fill="#2a40e0" fill-opacity="0.65"/>
<rect x="65.0" y="26.5" width="1" height="1" fill="#2a40e0" fill-opacity="0.65"/>
<rect x="101.9" y="31.4" width="1" height="1" fill="#2a40e0" fill-opacity="0.65"/>
<rect x="82.5" y="30.9" width="1" height="1" fill="#2a40e0" fill-opacity="0.65"/>
<rect x="65.1" y="35.3" width="1" height="1" fill="#2a40e0" fill-opacity="0.65"/>
<rect x="84.3" y="29.5" width="1" height="1" fill="#2a40e0" fill-opacity="0.65"/>
<rect x="111.7" y="31.4" width="1" height="1" fill="#2a40e0" fill-opacity="0.65"/>
<rect x="108.9" y="33.1" width="1" height="1" fill="#2a40e0" fill-opacity="0.65"/>
<rect x="78.8" y="32.9" width="1" height="1" fill="#2a40e0" fill-opacity="0.65"/>
<rect x="58.4" y="28.0" width="1" height="1" fill="#2a40e0" fill-opacity="0.65"/>
<rect x="110.3" y="27.9" width="1" height="1" fill="#2a40e0" fill-opacity="0.65"/>
<rect x="115.6" y="28.8" width="1" height="1" fill="#2a40e0" fill-opacity="0.65"/>
<rect x="86.2" y="25.9" width="1" height="1" fill="#2a40e0" fill-opacity="0.65"/>
<rect x="68.5" y="31.4" width="1" height="1" fill="#2a40e0" fill-opacity="0.65"/>
<rect x="88.2" y="32.7" width="1" height="1" fill="#2a40e0" fill-opacity="0.65"/>
<rect x="97.7" y="27.3" width="1" height="1" fill="#2a40e0" fill-opacity="0.65"/>
<rect x="84.4" y="36.0" width="1" height="1" fill="#2a40e0" fill-opacity="0.65"/>
<rect x="76.4" y="28.6" width="1" height="1" fill="#2a40e0" fill-opacity="0.65"/>
<rect x="69.9" y="29.1" width="1" height="1" fill="#2a40e0" fill-opacity="0.65"/>
<rect x="72.9" y="28.9" width="1" height="1" fill="#2a40e0" fill-opacity="0.65"/>
<rect x="57.6" y="27.7" width="1" height="1" fill="#2a40e0" fill-opacity="0.65"/>
<rect x="70.3" y="31.2" width="1" height="1" fill="#2a40e0" fill-opacity="0.65"/>
<rect x="113.6" y="28.5" width="1" height="1" fill="#2a40e0" fill-opacity="0.65"/>
<rect x="55.0" y="35.8" width="1" height="1" fill="#2a40e0" fill-opacity="0.65"/>
<rect x="99.6" y="30.9" width="1" height="1" fill="#2a40e0" fill-opacity="0.65"/>
<rect x="103.4" y="30.6" width="1" height="1" fill="#2a40e0" fill-opacity="0.65"/>
<rect x="79.6" y="28.7" width="1" height="1" fill="#2a40e0" fill-opacity="0.65"/>
<rect x="91.4" y="24.3" width="1" height="1" fill="#2a40e0" fill-opacity="0.65"/>
<rect x="68.2" y="29.5" width="1" height="1" fill="#2a40e0" fill-opacity="0.65"/>
<rect x="95.9" y="26.1" width="1" height="1" fill="#2a40e0" fill-opacity="0.65"/>
<rect x="98.4" y="32.1" width="1" height="1" fill="#2a40e0" fill-opacity="0.65"/>
<rect x="100.0" y="28.7" width="1" height="1" fill="#2a40e0" fill-opacity="0.65"/>
<rect x="85.0" y="35.0" width="1" height="1" fill="#2a40e0" fill-opacity="0.65"/>
<rect x="114.7" y="30.9" width="1" height="1" fill="#2a40e0" fill-opacity="0.65"/>
<rect x="108.2" y="31.4" width="1" height="1" fill="#2a40e0" fill-opacity="0.65"/>
<rect x="90.0" y="29.9" width="1" height="1" fill="#2a40e0" fill-opacity="0.65"/>
<rect x="96.8" y="29.7" width="1" height="1" fill="#2a40e0" fill-opacity="0.65"/>
<rect x="71.5" y="31.9" width="1" height="1" fill="#2a40e0" fill-opacity="0.65"/>
<rect x="113.0" y="31.6" width="1" height="1" fill="#2a40e0" fill-opacity="0.65"/>
<rect x="94.5" y="26.6" width="1" height="1" fill="#2a40e0" fill-opacity="0.65"/>
<rect x="110.0" y="30.2" width="1" height="1" fill="#2a40e0" fill-opacity="0.65"/>
<rect x="115.4" y="28.1" width="1" height="1" fill="#2a40e0" fill-opacity="0.65"/>
<rect x="61.0" y="29.2" width="1" height="1" fill="#2a40e0" fill-opacity="0.65"/>
<rect x="87.4" y="26.9" width="1" height="1" fill="#2a40e0" fill-opacity="0.65"/>
<rect x="61.3" y="25.1" width="1" height="1" fill="#2a40e0" fill-opacity="0.65"/>
<rect x="66.3" y="33.9" width="1" height="1" fill="#2a40e0" fill-opacity="0.65"/>
<rect x="101.9" y="29.0" width="1" height="1" fill="#2a40e0" fill-opacity="0.65"/>
<rect x="58.6" y="31.1" width="1" height="1" fill="#2a40e0" fill-opacity="0.65"/>
<rect x="78.2" y="35.8" width="1" height="1" fill="#2a40e0" fill-opacity="0.65"/>
<rect x="107.2" y="25.6" width="1" height="1" fill="#2a40e0" fill-opacity="0.65"/>
<rect x="59.6" y="33.6" width="1" height="1" fill="#2a40e0" fill-opacity="0.65"/>
<rect x="75.4" y="31.7" width="1" height="1" fill="#2a40e0" fill-opacity="0.65"/>
<rect x="107.6" y="30.0" width="1" height="1" fill="#2a40e0" fill-opacity="0.65"/>
<rect x="97.1" y="30.6" width="1" height="1" fill="#2a40e0" fill-opacity="0.65"/>
<rect x="98.1" y="28.8" width="1" height="1" fill="#2a40e0" fill-opacity="0.65"/>
<rect x="116.0" y="33.8" width="1" height="1" fill="#2a40e0" fill-opacity="0.65"/>
<rect x="56.0" y="32.3" width="1" height="1" fill="#2a40e0" fill-opacity="0.65"/>
<rect x="95.7" y="30.2" width="1" height="1" fill="#2a40e0" fill-opacity="0.65"/>
<rect x="100.7" y="33.1" width="1" height="1" fill="#2a40e0" fill-opacity="0.65"/>
<rect x="100.9" y="31.9" width="1" height="1" fill="#2a40e0" fill-opacity="0.65"/>
<rect x="98.8" y="30.5" width="1" height="1" fill="#2a40e0" fill-opacity="0.65"/>
<rect x="59.0" y="31.2" width="1" height="1" fill="#2a40e0" fill-opacity="0.65"/>
<rect x="59.7" y="36.0" width="1" height="1" fill="#2a40e0" fill-opacity="0.65"/>
<rect x="102.4" y="30.5" width="1" height="1" fill="#2a40e0" fill-opacity="0.65"/>
<rect x="92.4" y="28.8" width="1" height="1" fill="#2a40e0" fill-opacity="0.65"/>
<rect x="70.8" y="26.8" width="1" height="1" fill="#2a40e0" fill-opacity="0.65"/>
<rect x="55.1" y="29.0" width="1" height="1" fill="#2a40e0" fill-opacity="0.65"/>
<rect x="87.6" y="25.7" width="1" height="1" fill="#2a40e0" fill-opacity="0.65"/>
<rect x="60.1" y="30.4" width="1" height="1" fill="#2a40e0" fill-opacity="0.65"/>
<rect x="100.9" y="29.7" width="1" height="1" fill="#2a40e0" fill-opacity="0.65"/>
<rect x="75.6" y="22.6" width="1" height="1" fill="#2a40e0" fill-opacity="0.65"/>
<rect x="104.6" y="28.8" width="1" height="1" fill="#2a40e0" fill-opacity="0.65"/>
<rect x="60.4" y="32.3" width="1" height="1" fill="#2a40e0" fill-opacity="0.65"/>
<rect x="85.1" y="29.9" width="1" height="1" fill="#2a40e0" fill-opacity="0.65"/>
<rect x="60.7" y="26.8" width="1" height="1" fill="#2a40e0" fill-opacity="0.65"/>
<rect x="102.9" y="33.1" width="1" height="1" fill="#2a40e0" fill-opacity="0.65"/>
<rect x="89.2" y="26.8" width="1" height="1" fill="#2a40e0" fill-opacity="0.65"/>
<rect x="69.1" y="25.6" width="1" height="1" fill="#2a40e0" fill-opacity="0.65"/>
<rect x="114.2" y="24.8" width="1" height="1" fill="#2a40e0" fill-opacity="0.65"/>
<rect x="96.8" y="28.9" width="1" height="1" fill="#2a40e0" fill-opacity="0.65"/>
<rect x="75.4" y="32.9" width="1" height="1" fill="#2a40e0" fill-opacity="0.65"/>
<rect x="107.5" y="32.6" width="1" height="1" fill="#2a40e0" fill-opacity="0.65"/>
<rect x="78.1" y="30.2" width="1" height="1" fill="#2a40e0" fill-opacity="0.65"/>
<rect x="112.9" y="24.4" width="1" height="1" fill="#2a40e0" fill-opacity="0.65"/>
<rect x="72.9" y="27.4" width="1" height="1" fill="#2a40e0" fill-opacity="0.65"/>
<rect x="115.5" y="25.3" width="1" height="1" fill="#2a40e0" fill-opacity="0.65"/>
<rect x="58.4" y="29.5" width="1" height="1" fill="#2a40e0" fill-opacity="0.65"/>
<rect x="100.0" y="22.8" width="1" height="1" fill="#2a40e0" fill-opacity="0.65"/>
<rect x="72.6" y="30.1" width="1" height="1" fill="#2a40e0" fill-opacity="0.65"/>
<rect x="80.8" y="31.6" width="1" height="1" fill="#2a40e0" fill-opacity="0.65"/>
<rect x="93.9" y="28.5" width="1" height="1" fill="#2a40e0" fill-opacity="0.65"/>
<rect x="57.3" y="31.7" width="1" height="1" fill="#2a40e0" fill-opacity="0.65"/>
<rect x="68.4" y="26.6" width="1" height="1" fill="#2a40e0" fill-opacity="0.65"/>
<rect x="60.9" y="25.1" width="1" height="1" fill="#2a40e0" fill-opacity="0.65"/>
<rect x="100.4" y="26.7" width="1" height="1" fill="#2a40e0" fill-opacity="0.65"/>
<rect x="68.2" y="33.7" width="1" height="1" fill="#2a40e0" fill-opacity="0.65"/>
<rect x="85.4" y="32.8" width="1" height="1" fill="#2a40e0" fill-opacity="0.65"/>
<rect x="74.9" y="28.1" width="1" height="1" fill="#2a40e0" fill-opacity="0.65"/>
<rect x="69.1" y="33.9" width="1" height="1" fill="#2a40e0" fill-opacity="0.65"/>
<rect x="112.5" y="27.4" width="1" height="1" fill="#2a40e0" fill-opacity="0.65"/>
<rect x="86.0" y="34.4" width="1" height="1" fill="#2a40e0" fill-opacity="0.65"/>
<rect x="94.8" y="30.6" width="1" height="1" fill="#2a40e0" fill-opacity="0.65"/>
<rect x="98.2" y="27.4" width="1" height="1" fill="#2a40e0" fill-opacity="0.65"/>
<rect x="105.4" y="31.4" width="1" height="1" fill="#2a40e0" fill-opacity="0.65"/>
<rect x="70.8" y="27.1" width="1" height="1" fill="#2a40e0" fill-opacity="0.65"/>
<rect x="59.4" y="26.9" width="1" height="1" fill="#2a40e0" fill-opacity="0.65"/>
<rect x="83.5" y="24.4" width="1" height="1" fill="#2a40e0" fill-opacity="0.65"/>
<rect x="65.0" y="30.8" width="1" height="1" fill="#2a40e0" fill-opacity="0.65"/>
<rect x="55.8" y="30.0" width="1" height="1" fill="#2a40e0" fill-opacity="0.65"/>
<rect x="111.5" y="28.2" width="1" height="1" fill="#2a40e0" fill-opacity="0.65"/>
<rect x="93.3" y="27.7" width="1" height="1" fill="#2a40e0" fill-opacity="0.65"/>
<rect x="80.2" y="34.3" width="1" height="1" fill="#2a40e0" fill-opacity="0.65"/>
<rect x="63.0" y="28.5" width="1" height="1" fill="#2a40e0" fill-opacity="0.65"/>
<rect x="101.7" y="26.3" width="1" height="1" fill="#2a40e0" fill-opacity="0.65"/>
<rect x="87.5" y="33.5" width="1" height="1" fill="#2a40e0" fill-opacity="0.65"/>
<rect x="65.3" y="34.7" width="1" height="1" fill="#2a40e0" fill-opacity="0.65"/>
<rect x="115.4" y="29.5" width="1" height="1" fill="#2a40e0" fill-opacity="0.65"/>
<rect x="113.5" y="22.5" width="1" height="1" fill="#2a40e0" fill-opacity="0.65"/>
<rect x="112.0" y="26.5" width="1" height="1" fill="#2a40e0" fill-opacity="0.65"/>
<rect x="105.8" y="30.8" width="1" height="1" fill="#2a40e0" fill-opacity="0.65"/>
<rect x="87.5" y="29.3" width="1" height="1" fill="#2a40e0" fill-opacity="0.65"/>
<rect x="73.1" y="34.9" width="1" height="1" fill="#2a40e0" fill-opacity="0.65"/>
<rect x="94.9" y="24.4" width="1" height="1" fill="#2a40e0" fill-opacity="0.65"/>
<rect x="63.9" y="32.2" width="1" height="1" fill="#2a40e0" fill-opacity="0.65"/>
<rect x="92.7" y="26.9" width="1" height="1" fill="#2a40e0" fill-opacity="0.65"/>
<rect x="58.6" y="34.6" width="1" height="1" fill="#2a40e0" fill-opacity="0.65"/>
<rect x="55.3" y="29.9" width="1" height="1" fill="#2a40e0" fill-opacity="0.65"/>
<rect x="98.9" y="32.4" width="1" height="1" fill="#2a40e0" fill-opacity="0.65"/>
<rect x="75.7" y="27.4" width="1" height="1" fill="#2a40e0" fill-opacity="0.65"/>
<rect x="97.7" y="24.1" width="1" height="1" fill="#2a40e0" fill-opacity="0.65"/>
<rect x="102.9" y="25.0" width="1" height="1" fill="#2a40e0" fill-opacity="0.65"/>
<rect x="106.3" y="26.6" width="1" height="1" fill="#2a40e0" fill-opacity="0.65"/>
<rect x="92.7" y="25.6" width="1" height="1" fill="#2a40e0" fill-opacity="0.65"/>
<rect x="107.0" y="32.7" width="1" height="1" fill="#2a40e0" fill-opacity="0.65"/>
<rect x="95.3" y="33.5" width="1" height="1" fill="#2a40e0" fill-opacity="0.65"/>
<rect x="112.0" y="29.4" width="1" height="1" fill="#2a40e0" fill-opacity="0.65"/>
<rect x="110.1" y="25.0" width="1" height="1" fill="#2a40e0" fill-opacity="0.65"/>
<rect x="57.2" y="29.7" width="1" height="1" fill="#2a40e0" fill-opacity="0.65"/>
<rect x="71.1" y="27.4" width="1" height="1" fill="#2a40e0" fill-opacity="0.65"/>
<rect x="78.6" y="34.4" width="1" height="1" fill="#2a40e0" fill-opacity="0.65"/>
<rect x="70.1" y="30.8" width="1" height="1" fill="#2a40e0" fill-opacity="0.65"/>
<rect x="65.5" y="31.6" width="1" height="1" fill="#2a40e0" fill-opacity="0.65"/>
<rect x="108.7" y="27.2" width="1" height="1" fill="#2a40e0" fill-opacity="0.65"/>
<rect x="56.1" y="23.3" width="1" height="1" fill="#2a40e0" fill-opacity="0.65"/>
<rect x="65.8" y="27.3" width="1" height="1" fill="#2a40e0" fill-opacity="0.65"/>
<rect x="101.6" y="25.0" width="1" height="1" fill="#2a40e0" fill-opacity="0.65"/>
<rect x="68.3" y="31.1" width="1" height="1" fill="#2a40e0" fill-opacity="0.65"/>
<rect x="70.5" y="30.1" width="1" height="1" fill="#2a40e0" fill-opacity="0.65"/>
<rect x="114.5" y="25.7" width="1" height="1" fill="#2a40e0" fill-opacity="0.65"/>
<rect x="101.8" y="27.5" width="1" height="1" fill="#2a40e0" fill-opacity="0.65"/>
<rect x="82.3" y="34.7" width="1" height="1" fill="#2a40e0" fill-opacity="0.65"/>
<rect x="62.9" y="26.7" width="1" height="1" fill="#2a40e0" fill-opacity="0.65"/>
<rect x="71.2" y="26.6" width="1" height="1" fill="#2a40e0" fill-opacity="0.65"/>
<rect x="115.3" y="27.6" width="1" height="1" fill="#2a40e0" fill-opacity="0.65"/>
<rect x="103.5" y="26.4" width="1" height="1" fill="#2a40e0" fill-opacity="0.65"/>
<rect x="58.8" y="28.6" width="1" height="1" fill="#2a40e0" fill-opacity="0.65"/>
<rect x="98.3" y="30.7" width="1" height="1" fill="#2a40e0" fill-opacity="0.65"/>
<rect x="77.8" y="35.4" width="1" height="1" fill="#2a40e0" fill-opacity="0.65"/>
<rect x="99.1" y="22.8" width="1" height="1" fill="#2a40e0" fill-opacity="0.65"/>
<rect x="72.8" y="29.6" width="1" height="1" fill="#2a40e0" fill-opacity="0.65"/>
<rect x="62.6" y="30.1" width="1" height="1" fill="#2a40e0" fill-opacity="0.65"/>
<rect x="55.7" y="29.9" width="1" height="1" fill="#2a40e0" fill-opacity="0.65"/>
<rect x="72.8" y="29.0" width="1" height="1" fill="#2a40e0" fill-opacity="0.65"/>
<rect x="107.8" y="27.5" width="1" height="1" fill="#2a40e0" fill-opacity="0.65"/>
<rect x="109.8" y="32.0" width="1" height="1" fill="#2a40e0" fill-opacity="0.65"/>
<rect x="96.9" y="27.4" width="1" height="1" fill="#2a40e0" fill-opacity="0.65"/>
<rect x="100.9" y="28.4" width="1" height="1" fill="#2a40e0" fill-opacity="0.65"/>
<rect x="66.6" y="29.9" width="1" height="1" fill="#2a40e0" fill-opacity="0.65"/>
<rect x="76.5" y="29.9" width="1" height="1" fill="#2a40e0" fill-opacity="0.65"/>
<rect x="110.3" y="28.0" width="1" height="1" fill="#2a40e0" fill-opacity="0.65"/>
<rect x="115.6" y="31.8" width="1" height="1" fill="#2a40e0" fill-opacity="0.65"/>
<rect x="82.0" y="29.4" width="1" height="1" fill="#2a40e0" fill-opacity="0.65"/>
<rect x="102.6" y="29.4" width="1" height="1" fill="#2a40e0" fill-opacity="0.65"/>
<rect x="112.4" y="28.3" width="1" height="1" fill="#2a40e0" fill-opacity="0.65"/>
<rect x="116.3" y="25.0" width="1" height="1" fill="#2a40e0" fill-opacity="0.65"/>
<rect x="72.8" y="26.8" width="1" height="1" fill="#2a40e0" fill-opacity="0.65"/>
<rect x="95.1" y="25.4" width="1" height="1" fill="#2a40e0" fill-opacity="0.65"/>
<rect x="78.7" y="30.1" width="1" height="1" fill="#2a40e0" fill-opacity="0.65"/>
<rect x="83.3" y="26.9" width="1" height="1" fill="#2a40e0" fill-opacity="0.65"/>
<rect x="83.1" y="25.7" width="1" height="1" fill="#2a40e0" fill-opacity="0.65"/>
<rect x="71.8" y="30.5" width="1" height="1" fill="#2a40e0" fill-opacity="0.65"/>
<rect x="55.7" y="32.0" width="1" height="1" fill="#2a40e0" fill-opacity="0.65"/>
<rect x="102.0" y="22.8" width="1" height="1" fill="#2a40e0" fill-opacity="0.65"/>
<rect x="97.6" y="34.7" width="1" height="1" fill="#2a40e0" fill-opacity="0.65"/>
<rect x="106.6" y="28.8" width="1" height="1" fill="#2a40e0" fill-opacity="0.65"/>
<rect x="64.0" y="29.6" width="1" height="1" fill="#2a40e0" fill-opacity="0.65"/>
<rect x="69.2" y="33.4" width="1" height="1" fill="#2a40e0" fill-opacity="0.65"/>
<rect x="91.5" y="29.3" width="1" height="1" fill="#2a40e0" fill-opacity="0.65"/>
<rect x="112.6" y="26.4" width="1" height="1" fill="#2a40e0" fill-opacity="0.65"/>
<rect x="83.8" y="36.8" width="1" height="1" fill="#2a40e0" fill-opacity="0.65"/>
<rect x="67.0" y="26.2" width="1" height="1" fill="#2a40e0" fill-opacity="0.65"/>
<rect x="91.4" y="28.8" width="1" height="1" fill="#2a40e0" fill-opacity="0.65"/>
<rect x="113.9" y="31.3" width="1" height="1" fill="#2a40e0" fill-opacity="0.65"/>
<rect x="108.3" y="25.0" width="1" height="1" fill="#2a40e0" fill-opacity="0.65"/>
<rect x="110.2" y="28.2" width="1" height="1" fill="#2a40e0" fill-opacity="0.65"/>
<rect x="80.0" y="30.8" width="1" height="1" fill="#2a40e0" fill-opacity="0.65"/>
<rect x="108.5" y="25.6" width="1" height="1" fill="#2a40e0" fill-opacity="0.65"/>
<rect x="103.4" y="28.6" width="1" height="1" fill="#2a40e0" fill-opacity="0.65"/>
<rect x="107.3" y="30.9" width="1" height="1" fill="#2a40e0" fill-opacity="0.65"/>
<rect x="78.8" y="29.8" width="1" height="1" fill="#2a40e0" fill-opacity="0.65"/>
<rect x="72.2" y="25.6" width="1" height="1" fill="#2a40e0" fill-opacity="0.65"/>
<rect x="69.4" y="31.2" width="1" height="1" fill="#2a40e0" fill-opacity="0.65"/>
<rect x="108.5" y="29.0" width="1" height="1" fill="#2a40e0" fill-opacity="0.65"/>
<rect x="111.5" y="30.0" width="1" height="1" fill="#2a40e0" fill-opacity="0.65"/>
<rect x="77.3" y="33.4" width="1" height="1" fill="#2a40e0" fill-opacity="0.65"/>
<rect x="108.7" y="32.0" width="1" height="1" fill="#2a40e0" fill-opacity="0.65"/>
<rect x="78.1" y="30.9" width="1" height="1" fill="#2a40e0" fill-opacity="0.65"/>
<rect x="82.3" y="30.4" width="1" height="1" fill="#2a40e0" fill-opacity="0.65"/>
<rect x="89.6" y="25.4" width="1" height="1" fill="#2a40e0" fill-opacity="0.65"/>
<rect x="68.2" y="29.3" width="1" height="1" fill="#2a40e0" fill-opacity="0.65"/>
<rect x="71.1" y="30.5" width="1" height="1" fill="#2a40e0" fill-opacity="0.65"/>
<rect x="71.0" y="28.4" width="1" height="1" fill="#2a40e0" fill-opacity="0.65"/>
<rect x="70.6" y="30.1" width="1" height="1" fill="#2a40e0" fill-opacity="0.65"/>
<rect x="86.5" y="26.5" width="1" height="1" fill="#2a40e0" fill-opacity="0.65"/>
<rect x="60.7" y="35.2" width="1" height="1" fill="#2a40e0" fill-opacity="0.65"/>
<rect x="102.9" y="36.1" width="1" height="1" fill="#2a40e0" fill-opacity="0.65"/>
<rect x="65.3" y="28.6" width="1" height="1" fill="#2a40e0" fill-opacity="0.65"/>
<rect x="82.0" y="30.8" width="1" height="1" fill="#2a40e0" fill-opacity="0.65"/>
<rect x="94.3" y="28.2" width="1" height="1" fill="#2a40e0" fill-opacity="0.65"/>
<rect x="63.1" y="34.3" width="1" height="1" fill="#2a40e0" fill-opacity="0.65"/>
<rect x="79.9" y="30.9" width="1" height="1" fill="#2a40e0" fill-opacity="0.65"/>
<rect x="89.4" y="29.4" width="1" height="1" fill="#2a40e0" fill-opacity="0.65"/>
<rect x="88.6" y="28.4" width="1" height="1" fill="#2a40e0" fill-opacity="0.65"/>
<rect x="109.8" y="29.0" width="1" height="1" fill="#2a40e0" fill-opacity="0.65"/>
<rect x="103.2" y="25.4" width="1" height="1" fill="#2a40e0" fill-opacity="0.65"/>
<rect x="62.0" y="32.3" width="1" height="1" fill="#2a40e0" fill-opacity="0.65"/>
<rect x="106.2" y="26.2" width="1" height="1" fill="#2a40e0" fill-opacity="0.65"/>
<rect x="88.6" y="31.0" width="1" height="1" fill="#2a40e0" fill-opacity="0.65"/>
<rect x="96.5" y="29.4" width="1" height="1" fill="#2a40e0" fill-opacity="0.65"/>
<rect x="64.4" y="33.6" width="1" height="1" fill="#2a40e0" fill-opacity="0.65"/>
<rect x="83.8" y="29.3" width="1" height="1" fill="#2a40e0" fill-opacity="0.65"/>
<rect x="97.9" y="32.4" width="1" height="1" fill="#2a40e0" fill-opacity="0.65"/>
<rect x="103.9" y="25.6" width="1" height="1" fill="#2a40e0" fill-opacity="0.65"/>
<rect x="104.5" y="30.8" width="1" height="1" fill="#2a40e0" fill-opacity="0.65"/>
<rect x="68.0" y="29.0" width="1" height="1" fill="#2a40e0" fill-opacity="0.65"/>
<rect x="106.1" y="29.3" width="1" height="1" fill="#2a40e0" fill-opacity="0.65"/>
<rect x="89.7" y="29.4" width="1" height="1" fill="#2a40e0" fill-opacity="0.65"/>
<rect x="96.0" y="32.2" width="1" height="1" fill="#2a40e0" fill-opacity="0.65"/>
<rect x="79.6" y="30.6" width="1" height="1" fill="#2a40e0" fill-opacity="0.65"/>
<rect x="111.5" y="23.4" width="1" height="1" fill="#2a40e0" fill-opacity="0.65"/>
<rect x="109.1" y="32.7" width="1" height="1" fill="#2a40e0" fill-opacity="0.65"/>
<rect x="104.6" y="22.0" width="1" height="1" fill="#2a40e0" fill-opacity="0.65"/>
<rect x="78.1" y="26.1" width="1" height="1" fill="#2a40e0" fill-opacity="0.65"/>
<rect x="87.2" y="23.5" width="1" height="1" fill="#2a40e0" fill-opacity="0.65"/>
<rect x="65.2" y="35.5" width="1" height="1" fill="#2a40e0" fill-opacity="0.65"/>
<rect x="101.6" y="24.4" width="1" height="1" fill="#2a40e0" fill-opacity="0.65"/>
<rect x="109.7" y="28.9" width="1" height="1" fill="#2a40e0" fill-opacity="0.65"/>
<rect x="64.5" y="28.1" width="1" height="1" fill="#2a40e0" fill-opacity="0.65"/>
<rect x="100.7" y="22.7" width="1" height="1" fill="#2a40e0" fill-opacity="0.65"/>
<rect x="97.5" y="27.8" width="1" height="1" fill="#2a40e0" fill-opacity="0.65"/>
<rect x="56.8" y="32.4" width="1" height="1" fill="#2a40e0" fill-opacity="0.65"/>
<rect x="111.3" y="27.9" width="1" height="1" fill="#2a40e0" fill-opacity="0.65"/>
<rect x="84.2" y="32.5" width="1" height="1" fill="#2a40e0" fill-opacity="0.65"/>
<rect x="71.2" y="28.5" width="1" height="1" fill="#2a40e0" fill-opacity="0.65"/>
<rect x="56.4" y="30.2" width="1" height="1" fill="#2a40e0" fill-opacity="0.65"/>
<rect x="103.0" y="27.5" width="1" height="1" fill="#2a40e0" fill-opacity="0.65"/>
<rect x="75.4" y="30.8" width="1" height="1" fill="#2a40e0" fill-opacity="0.65"/>
<rect x="86.3" y="35.7" width="1" height="1" fill="#2a40e0" fill-opacity="0.65"/>
<rect x="66.6" y="31.1" width="1" height="1" fill="#2a40e0" fill-opacity="0.65"/>
<rect x="92.1" y="29.7" width="1" height="1" fill="#2a40e0" fill-opacity="0.65"/>
<rect x="79.1" y="27.4" width="1" height="1" fill="#2a40e0" fill-opacity="0.65"/>
<rect x="104.5" y="26.1" width="1" height="1" fill="#2a40e0" fill-opacity="0.65"/>
<rect x="95.8" y="34.0" width="1" height="1" fill="#2a40e0" fill-opacity="0.65"/>
<rect x="99.2" y="25.1" width="1" height="1" fill="#2a40e0" fill-opacity="0.65"/>
<rect x="70.1" y="26.6" width="1" height="1" fill="#2a40e0" fill-opacity="0.65"/>
<rect x="58.5" y="29.8" width="1" height="1" fill="#2a40e0" fill-opacity="0.65"/>
<rect x="109.1" y="27.1" width="1" height="1" fill="#2a40e0" fill-opacity="0.65"/>
<rect x="112.5" y="35.1" width="1" height="1" fill="#2a40e0" fill-opacity="0.65"/>
<rect x="111.6" y="29.7" width="1" height="1" fill="#2a40e0" fill-opacity="0.65"/>
<rect x="98.3" y="31.3" width="1" height="1" fill="#2a40e0" fill-opacity="0.65"/>
<rect x="92.1" y="25.3" width="1" height="1" fill="#2a40e0" fill-opacity="0.65"/>
<rect x="80.5" y="27.2" width="1" height="1" fill="#2a40e0" fill-opacity="0.65"/>
<rect x="76.5" y="31.0" width="1" height="1" fill="#2a40e0" fill-opacity="0.65"/>
<rect x="84.9" y="34.8" width="1" height="1" fill="#2a40e0" fill-opacity="0.65"/>
<rect x="68.3" y="26.7" width="1" height="1" fill="#2a40e0" fill-opacity="0.65"/>
<rect x="81.0" y="24.1" width="1" height="1" fill="#2a40e0" fill-opacity="0.65"/>
<rect x="86.0" y="32.6" width="1" height="1" fill="#2a40e0" fill-opacity="0.65"/>
<rect x="56.4" y="35.3" width="1" height="1" fill="#2a40e0" fill-opacity="0.65"/>
<rect x="78.9" y="28.3" width="1" height="1" fill="#2a40e0" fill-opacity="0.65"/>
<rect x="72.1" y="22.2" width="1" height="1" fill="#2a40e0" fill-opacity="0.65"/>
<rect x="93.8" y="34.0" width="1" height="1" fill="#2a40e0" fill-opacity="0.65"/>
<rect x="104.8" y="28.0" width="1" height="1" fill="#2a40e0" fill-opacity="0.65"/>
<rect x="92.6" y="32.9" width="1" height="1" fill="#2a40e0" fill-opacity="0.65"/>
<rect x="95.7" y="28.8" width="1" height="1" fill="#2a40e0" fill-opacity="0.65"/>
<rect x="92.6" y="27.8" width="1" height="1" fill="#2a40e0" fill-opacity="0.65"/>
<rect x="70.4" y="28.2" width="1" height="1" fill="#2a40e0" fill-opacity="0.65"/>
<rect x="77.8" y="34.5" width="1" height="1" fill="#2a40e0" fill-opacity="0.65"/>
<rect x="106.8" y="33.5" width="1" height="1" fill="#2a40e0" fill-opacity="0.65"/>
<rect x="65.7" y="26.7" width="1" height="1" fill="#2a40e0" fill-opacity="0.65"/>
<rect x="55.2" y="36.2" width="1" height="1" fill="#2a40e0" fill-opacity="0.65"/>
<rect x="114.1" y="27.2" width="1" height="1" fill="#2a40e0" fill-opacity="0.65"/>
<rect x="107.8" y="24.0" width="1" height="1" fill="#2a40e0" fill-opacity="0.65"/>
<rect x="92.2" y="29.1" width="1" height="1" fill="#2a40e0" fill-opacity="0.65"/>
<rect x="105.1" y="28.3" width="1" height="1" fill="#2a40e0" fill-opacity="0.65"/>
<rect x="91.3" y="28.8" width="1" height="1" fill="#2a40e0" fill-opacity="0.65"/>
<rect x="110.6" y="26.9" width="1" height="1" fill="#2a40e0" fill-opacity="0.65"/>
<rect x="69.6" y="28.7" width="1" height="1" fill="#2a40e0" fill-opacity="0.65"/>
<rect x="82.0" y="27.8" width="1" height="1" fill="#2a40e0" fill-opacity="0.65"/>
<rect x="96.1" y="30.1" width="1" height="1" fill="#2a40e0" fill-opacity="0.65"/>
<rect x="67.9" y="27.1" width="1" height="1" fill="#2a40e0" fill-opacity="0.65"/>
<rect x="98.8" y="27.9" width="1" height="1" fill="#2a40e0" fill-opacity="0.65"/>
<rect x="70.8" y="29.2" width="1" height="1" fill="#2a40e0" fill-opacity="0.65"/>
<rect x="98.5" y="33.3" width="1" height="1" fill="#2a40e0" fill-opacity="0.65"/>
<rect x="104.4" y="30.0" width="1" height="1" fill="#2a40e0" fill-opacity="0.65"/>
<rect x="80.8" y="29.1" width="1" height="1" fill="#2a40e0" fill-opacity="0.65"/>
<rect x="115.9" y="30.2" width="1" height="1" fill="#2a40e0" fill-opacity="0.65"/>
<rect x="93.6" y="30.4" width="1" height="1" fill="#2a40e0" fill-opacity="0.65"/>
<rect x="101.4" y="32.5" width="1" height="1" fill="#2a40e0" fill-opacity="0.65"/>
<rect x="55.8" y="31.9" width="1" height="1" fill="#2a40e0" fill-opacity="0.65"/>
<rect x="61.5" y="36.1" width="1" height="1" fill="#2a40e0" fill-opacity="0.65"/>
<rect x="98.6" y="33.5" width="1" height="1" fill="#2a40e0" fill-opacity="0.65"/>
<rect x="113.0" y="28.3" width="1" height="1" fill="#2a40e0" fill-opacity="0.65"/>
<rect x="93.5" y="27.6" width="1" height="1" fill="#2a40e0" fill-opacity="0.65"/>
<rect x="111.1" y="31.5" width="1" height="1" fill="#2a40e0" fill-opacity="0.65"/>
<rect x="58.2" y="31.9" width="1" height="1" fill="#2a40e0" fill-opacity="0.65"/>
<rect x="109.8" y="28.2" width="1" height="1" fill="#2a40e0" fill-opacity="0.65"/>
<rect x="108.9" y="23.6" width="1" height="1" fill="#2a40e0" fill-opacity="0.65"/>
<rect x="93.5" y="22.8" width="1" height="1" fill="#2a40e0" fill-opacity="0.65"/>
<rect x="81.1" y="30.6" width="1" height="1" fill="#2a40e0" fill-opacity="0.65"/>
<rect x="98.2" y="31.5" width="1" height="1" fill="#2a40e0" fill-opacity="0.65"/>
<rect x="69.6" y="32.5" width="1" height="1" fill="#2a40e0" fill-opacity="0.65"/>
<rect x="95.9" y="24.6" width="1" height="1" fill="#2a40e0" fill-opacity="0.65"/>
<rect x="97.5" y="32.5" width="1" height="1" fill="#2a40e0" fill-opacity="0.65"/>
<rect x="88.0" y="27.4" width="1" height="1" fill="#2a40e0" fill-opacity="0.65"/>
<rect x="70.6" y="31.1" width="1" height="1" fill="#2a40e0" fill-opacity="0.65"/>
<rect x="54.6" y="31.6" width="1" height="1" fill="#2a40e0" fill-opacity="0.65"/>
<rect x="66.6" y="27.1" width="1" height="1" fill="#2a40e0" fill-opacity="0.65"/>
<rect x="106.2" y="26.7" width="1" height="1" fill="#2a40e0" fill-opacity="0.65"/>
<rect x="67.7" y="22.8" width="1" height="1" fill="#2a40e0" fill-opacity="0.65"/>
<rect x="59.1" y="27.0" width="1" height="1" fill="#2a40e0" fill-opacity="0.65"/>
<rect x="69.8" y="23.6" width="1" height="1" fill="#2a40e0" fill-opacity="0.65"/>
<rect x="86.7" y="30.7" width="1" height="1" fill="#2a40e0" fill-opacity="0.65"/>
<rect x="90.8" y="29.3" width="1" height="1" fill="#2a40e0" fill-opacity="0.65"/>
<rect x="108.9" y="31.7" width="1" height="1" fill="#2a40e0" fill-opacity="0.65"/>
<rect x="107.5" y="29.8" width="1" height="1" fill="#2a40e0" fill-opacity="0.65"/>
<rect x="114.6" y="26.3" width="1" height="1" fill="#2a40e0" fill-opacity="0.65"/>
<rect x="109.3" y="29.7" width="1" height="1" fill="#2a40e0" fill-opacity="0.65"/>
<rect x="82.4" y="28.1" width="1" height="1" fill="#2a40e0" fill-opacity="0.65"/>
<rect x="63.3" y="32.0" width="1" height="1" fill="#2a40e0" fill-opacity="0.65"/>
<rect x="113.8" y="29.5" width="1" height="1" fill="#2a40e0" fill-opacity="0.65"/>
<rect x="68.7" y="26.4" width="1" height="1" fill="#2a40e0" fill-opacity="0.65"/>
<rect x="93.1" y="29.1" width="1" height="1" fill="#2a40e0" fill-opacity="0.65"/>
<rect x="70.9" y="29.9" width="1" height="1" fill="#2a40e0" fill-opacity="0.65"/>
<rect x="105.1" y="27.6" width="1" height="1" fill="#2a40e0" fill-opacity="0.65"/>
<rect x="66.9" y="32.9" width="1" height="1" fill="#2a40e0" fill-opacity="0.65"/>
<rect x="80.6" y="35.3" width="1" height="1" fill="#2a40e0" fill-opacity="0.65"/>
<rect x="68.1" y="28.6" width="1" height="1" fill="#2a40e0" fill-opacity="0.65"/>
<rect x="107.9" y="27.4" width="1" height="1" fill="#2a40e0" fill-opacity="0.65"/>
<rect x="93.6" y="28.6" width="1" height="1" fill="#2a40e0" fill-opacity="0.65"/>
<rect x="74.0" y="28.1" width="1" height="1" fill="#2a40e0" fill-opacity="0.65"/>
<rect x="65.4" y="22.5" width="1" height="1" fill="#2a40e0" fill-opacity="0.65"/>
<rect x="107.7" y="29.6" width="1" height="1" fill="#2a40e0" fill-opacity="0.65"/>
<rect x="101.9" y="30.8" width="1" height="1" fill="#2a40e0" fill-opacity="0.65"/>
<rect x="100.0" y="26.4" width="1" height="1" fill="#2a40e0" fill-opacity="0.65"/>
<rect x="116.3" y="27.1" width="1" height="1" fill="#2a40e0" fill-opacity="0.65"/>
<rect x="89.2" y="25.9" width="1" height="1" fill="#2a40e0" fill-opacity="0.65"/>
<rect x="65.6" y="32.5" width="1" height="1" fill="#2a40e0" fill-opacity="0.65"/>
<rect x="92.3" y="23.9" width="1" height="1" fill="#2a40e0" fill-opacity="0.65"/>
<rect x="72.3" y="28.6" width="1" height="1" fill="#2a40e0" fill-opacity="0.65"/>
<rect x="86.3" y="35.9" width="1" height="1" fill="#2a40e0" fill-opacity="0.65"/>
<rect x="83.0" y="29.5" width="1" height="1" fill="#2a40e0" fill-opacity="0.65"/>
<rect x="89.4" y="30.8" width="1" height="1" fill="#2a40e0" fill-opacity="0.65"/>
<rect x="111.6" y="28.0" width="1" height="1" fill="#2a40e0" fill-opacity="0.65"/>
<rect x="104.7" y="24.7" width="1" height="1" fill="#2a40e0" fill-opacity="0.65"/>
<rect x="80.2" y="29.3" width="1" height="1" fill="#2a40e0" fill-opacity="0.65"/>
<rect x="105.2" y="30.1" width="1" height="1" fill="#2a40e0" fill-opacity="0.65"/>
<rect x="107.9" y="25.1" width="1" height="1" fill="#2a40e0" fill-opacity="0.65"/>
<rect x="102.5" y="29.9" width="1" height="1" fill="#2a40e0" fill-opacity="0.65"/>
<rect x="88.7" y="33.4" width="1" height="1" fill="#2a40e0" fill-opacity="0.65"/>
<rect x="110.3" y="32.2" width="1" height="1" fill="#2a40e0" fill-opacity="0.65"/>
<rect x="85.0" y="23.9" width="1" height="1" fill="#2a40e0" fill-opacity="0.65"/>
<rect x="61.1" y="26.7" width="1" height="1" fill="#2a40e0" fill-opacity="0.65"/>
<rect x="71.4" y="24.2" width="1" height="1" fill="#2a40e0" fill-opacity="0.65"/>
<rect x="95.3" y="32.6" width="1" height="1" fill="#2a40e0" fill-opacity="0.65"/>
<rect x="78.0" y="31.6" width="1" height="1" fill="#2a40e0" fill-opacity="0.65"/>
<rect x="80.7" y="31.8" width="1" height="1" fill="#2a40e0" fill-opacity="0.65"/>
<rect x="79.4" y="26.5" width="1" height="1" fill="#2a40e0" fill-opacity="0.65"/>
<rect x="66.4" y="25.9" width="1" height="1" fill="#2a40e0" fill-opacity="0.65"/>
<rect x="60.3" y="30.3" width="1" height="1" fill="#2a40e0" fill-opacity="0.65"/>
<rect x="57.5" y="30.5" width="1" height="1" fill="#2a40e0" fill-opacity="0.65"/>
<rect x="96.2" y="26.1" width="1" height="1" fill="#2a40e0" fill-opacity="0.65"/>
<rect x="74.6" y="30.1" width="1" height="1" fill="#2a40e0" fill-opacity="0.65"/>
<rect x="82.8" y="31.6" width="1" height="1" fill="#2a40e0" fill-opacity="0.65"/>
<rect x="112.5" y="29.3" width="1" height="1" fill="#2a40e0" fill-opacity="0.65"/>
<rect x="93.4" y="25.5" width="1" height="1" fill="#2a40e0" fill-opacity="0.65"/>
<rect x="101.8" y="27.9" width="1" height="1" fill="#2a40e0" fill-opacity="0.65"/>
<rect x="113.6" y="29.0" width="1" height="1" fill="#2a40e0" fill-opacity="0.65"/>
<rect x="58.6" y="29.2" width="1" height="1" fill="#2a40e0" fill-opacity="0.65"/>
<rect x="78.3" y="28.0" width="1" height="1" fill="#2a40e0" fill-opacity="0.65"/>
<rect x="113.4" y="26.1" width="1" height="1" fill="#2a40e0" fill-opacity="0.65"/>
<rect x="83.3" y="31.8" width="1" height="1" fill="#2a40e0" fill-opacity="0.65"/>
<rect x="113.3" y="28.3" width="1" height="1" fill="#2a40e0" fill-opacity="0.65"/>
<rect x="66.0" y="30.3" width="1" height="1" fill="#2a40e0" fill-opacity="0.65"/>
<rect x="58.2" y="26.8" width="1" height="1" fill="#2a40e0" fill-opacity="0.65"/>
<rect x="110.0" y="26.4" width="1" height="1" fill="#2a40e0" fill-opacity="0.65"/>
<rect x="80.0" y="30.0" width="1" height="1" fill="#2a40e0" fill-opacity="0.65"/>
<rect x="86.0" y="25.9" width="1" height="1" fill="#2a40e0" fill-opacity="0.65"/>
<rect x="112.5" y="24.2" width="1" height="1" fill="#2a40e0" fill-opacity="0.65"/>
<rect x="68.1" y="28.7" width="1" height="1" fill="#2a40e0" fill-opacity="0.65"/>
<rect x="114.5" y="32.5" width="1" height="1" fill="#2a40e0" fill-opacity="0.65"/>
<rect x="79.1" y="30.1" width="1" height="1" fill="#2a40e0" fill-opacity="0.65"/>
<rect x="69.8" y="34.7" width="1" height="1" fill="#2a40e0" fill-opacity="0.65"/>
<rect x="69.0" y="29.3" width="1" height="1" fill="#2a40e0" fill-opacity="0.65"/>
<rect x="86.6" y="28.2" width="1" height="1" fill="#2a40e0" fill-opacity="0.65"/>
<rect x="83.5" y="24.6" width="1" height="1" fill="#2a40e0" fill-opacity="0.65"/>
<rect x="109.4" y="26.6" width="1" height="1" fill="#2a40e0" fill-opacity="0.65"/>
<rect x="57.6" y="35.0" width="1" height="1" fill="#2a40e0" fill-opacity="0.65"/>
<rect x="57.2" y="31.2" width="1" height="1" fill="#2a40e0" fill-opacity="0.65"/>
<rect x="64.0" y="32.4" width="1" height="1" fill="#2a40e0" fill-opacity="0.65"/>
<rect x="92.1" y="31.5" width="1" height="1" fill="#2a40e0" fill-opacity="0.65"/>
<rect x="102.9" y="28.7" width="1" height="1" fill="#2a40e0" fill-opacity="0.65"/>
<rect x="84.3" y="28.6" width="1" height="1" fill="#2a40e0" fill-opacity="0.65"/>
<rect x="92.6" y="29.5" width="1" height="1" fill="#2a40e0" fill-opacity="0.65"/>
<rect x="94.3" y="31.3" width="1" height="1" fill="#2a40e0" fill-opacity="0.65"/>
<rect x="55.7" y="31.7" width="1" height="1" fill="#2a40e0" fill-opacity="0.65"/>
<rect x="69.8" y="31.4" width="1" height="1" fill="#2a40e0" fill-opacity="0.65"/>
<rect x="116.4" y="28.9" width="1" height="1" fill="#2a40e0" fill-opacity="0.65"/>
<rect x="75.0" y="27.0" width="1" height="1" fill="#2a40e0" fill-opacity="0.65"/>
<rect x="113.2" y="27.6" width="1" height="1" fill="#2a40e0" fill-opacity="0.65"/>
<rect x="85.0" y="26.1" width="1" height="1" fill="#2a40e0" fill-opacity="0.65"/>
<rect x="68.3" y="33.2" width="1" height="1" fill="#2a40e0" fill-opacity="0.65"/>
<rect x="54.6" y="23.1" width="1" height="1" fill="#2a40e0" fill-opacity="0.65"/>
<rect x="68.0" y="29.1" width="1" height="1" fill="#2a40e0" fill-opacity="0.65"/>
<rect x="81.7" y="28.2" width="1" height="1" fill="#2a40e0" fill-opacity="0.65"/>
<rect x="82.2" y="25.5" width="1" height="1" fill="#2a40e0" fill-opacity="0.65"/>
<rect x="88.5" y="29.1" width="1" height="1" fill="#2a40e0" fill-opacity="0.65"/>
<rect x="83.9" y="33.7" width="1" height="1" fill="#2a40e0" fill-opacity="0.65"/>
<rect x="56.5" y="29.6" width="1" height="1" fill="#2a40e0" fill-opacity="0.65"/>
<rect x="71.1" y="31.8" width="1" height="1" fill="#2a40e0" fill-opacity="0.65"/>
<rect x="114.1" y="28.8" width="1" height="1" fill="#2a40e0" fill-opacity="0.65"/>
<rect x="56.2" y="28.9" width="1" height="1" fill="#2a40e0" fill-opacity="0.65"/>
<rect x="84.0" y="29.6" width="1" height="1" fill="#2a40e0" fill-opacity="0.65"/>
<rect x="98.3" y="27.1" width="1" height="1" fill="#2a40e0" fill-opacity="0.65"/>
<rect x="75.1" y="27.9" width="1" height="1" fill="#2a40e0" fill-opacity="0.65"/>
<rect x="77.4" y="30.8" width="1" height="1" fill="#2a40e0" fill-opacity="0.65"/>
<rect x="86.5" y="30.6" width="1" height="1" fill="#2a40e0" fill-opacity="0.65"/>
<rect x="110.9" y="31.1" width="1" height="1" fill="#2a40e0" fill-opacity="0.65"/>
<rect x="74.9" y="30.1" width="1" height="1" fill="#2a40e0" fill-opacity="0.65"/>
<rect x="59.8" y="25.2" width="1" height="1" fill="#2a40e0" fill-opacity="0.65"/>
<rect x="56.9" y="32.0" width="1" height="1" fill="#2a40e0" fill-opacity="0.65"/>
<rect x="109.2" y="27.5" width="1" height="1" fill="#2a40e0" fill-opacity="0.65"/>
<rect x="74.0" y="28.7" width="1" height="1" fill="#2a40e0" fill-opacity="0.65"/>
<rect x="61.9" y="25.0" width="1" height="1" fill="#2a40e0" fill-opacity="0.65"/>
<rect x="91.5" y="27.2" width="1" height="1" fill="#2a40e0" fill-opacity="0.65"/>
<rect x="106.9" y="26.2" width="1" height="1" fill="#2a40e0" fill-opacity="0.65"/>
<rect x="91.7" y="29.0" width="1" height="1" fill="#2a40e0" fill-opacity="0.65"/>
<rect x="63.9" y="25.0" width="1" height="1" fill="#2a40e0" fill-opacity="0.65"/>
<rect x="79.7" y="29.6" width="1" height="1" fill="#2a40e0" fill-opacity="0.65"/>
<rect x="71.0" y="30.1" width="1" height="1" fill="#2a40e0" fill-opacity="0.65"/>
<rect x="55.5" y="26.4" width="1" height="1" fill="#2a40e0" fill-opacity="0.65"/>
<rect x="114.4" y="26.3" width="1" height="1" fill="#2a40e0" fill-opacity="0.65"/>
<rect x="83.0" y="26.4" width="1" height="1" fill="#2a40e0" fill-opacity="0.65"/>
<rect x="62.9" y="33.1" width="1" height="1" fill="#2a40e0" fill-opacity="0.65"/>
<rect x="115.6" y="27.2" width="1" height="1" fill="#2a40e0" fill-opacity="0.65"/>
<rect x="105.1" y="23.1" width="1" height="1" fill="#2a40e0" fill-opacity="0.65"/>
<rect x="70.2" y="28.3" width="1" height="1" fill="#2a40e0" fill-opacity="0.65"/>
<rect x="66.3" y="32.7" width="1" height="1" fill="#2a40e0" fill-opacity="0.65"/>
<rect x="87.1" y="27.1" width="1" height="1" fill="#2a40e0" fill-opacity="0.65"/>
<rect x="90.7" y="29.6" width="1" height="1" fill="#2a40e0" fill-opacity="0.65"/>
<rect x="109.0" y="25.7" width="1" height="1" fill="#2a40e0" fill-opacity="0.65"/>
<rect x="114.5" y="35.0" width="1" height="1" fill="#2a40e0" fill-opacity="0.65"/>
<rect x="110.9" y="31.6" width="1" height="1" fill="#2a40e0" fill-opacity="0.65"/>
<rect x="75.7" y="33.4" width="1" height="1" fill="#2a40e0" fill-opacity="0.65"/>
<rect x="90.8" y="24.6" width="1" height="1" fill="#2a40e0" fill-opacity="0.65"/>
<rect x="62.2" y="26.2" width="1" height="1" fill="#2a40e0" fill-opacity="0.65"/>
<rect x="86.7" y="32.9" width="1" height="1" fill="#2a40e0" fill-opacity="0.65"/>
<rect x="58.9" y="29.4" width="1" height="1" fill="#2a40e0" fill-opacity="0.65"/>
<rect x="61.4" y="29.1" width="1" height="1" fill="#2a40e0" fill-opacity="0.65"/>
<rect x="62.1" y="31.1" width="1" height="1" fill="#2a40e0" fill-opacity="0.65"/>
<rect x="73.2" y="25.4" width="1" height="1" fill="#2a40e0" fill-opacity="0.65"/>
<rect x="73.7" y="32.3" width="1" height="1" fill="#2a40e0" fill-opacity="0.65"/>
<rect x="98.2" y="29.0" width="1" height="1" fill="#2a40e0" fill-opacity="0.65"/>
<rect x="59.2" y="31.7" width="1" height="1" fill="#2a40e0" fill-opacity="0.65"/>
<rect x="61.4" y="27.7" width="1" height="1" fill="#2a40e0" fill-opacity="0.65"/>
<rect x="95.2" y="30.7" width="1" height="1" fill="#2a40e0" fill-opacity="0.65"/>
<rect x="96.2" y="26.6" width="1" height="1" fill="#2a40e0" fill-opacity="0.65"/>
<rect x="98.5" y="32.1" width="1" height="1" fill="#2a40e0" fill-opacity="0.65"/>
<rect x="99.1" y="32.7" width="1" height="1" fill="#2a40e0" fill-opacity="0.65"/>
<rect x="95.6" y="32.1" width="1" height="1" fill="#2a40e0" fill-opacity="0.65"/>
<rect x="88.8" y="30.9" width="1" height="1" fill="#2a40e0" fill-opacity="0.65"/>
<rect x="100.5" y="31.0" width="1" height="1" fill="#2a40e0" fill-opacity="0.65"/>
<rect x="67.6" y="32.7" width="1" height="1" fill="#2a40e0" fill-opacity="0.65"/>
<rect x="100.5" y="27.9" width="1" height="1" fill="#2a40e0" fill-opacity="0.65"/>
<rect x="66.4" y="30.2" width="1" height="1" fill="#2a40e0" fill-opacity="0.65"/>
<rect x="87.4" y="28.3" width="1" height="1" fill="#2a40e0" fill-opacity="0.65"/>
<rect x="70.6" y="25.0" width="1" height="1" fill="#2a40e0" fill-opacity="0.65"/>
<rect x="81.2" y="27.6" width="1" height="1" fill="#2a40e0" fill-opacity="0.65"/>
<rect x="106.2" y="30.9" width="1" height="1" fill="#2a40e0" fill-opacity="0.65"/>
<rect x="95.5" y="33.8" width="1" height="1" fill="#2a40e0" fill-opacity="0.65"/>
<rect x="82.1" y="27.3" width="1" height="1" fill="#2a40e0" fill-opacity="0.65"/>
<rect x="71.5" y="26.6" width="1" height="1" fill="#2a40e0" fill-opacity="0.65"/>
<rect x="104.4" y="33.7" width="1" height="1" fill="#2a40e0" fill-opacity="0.65"/>
<rect x="95.2" y="26.0" width="1" height="1" fill="#2a40e0" fill-opacity="0.65"/>
<rect x="81.8" y="36.4" width="1" height="1" fill="#2a40e0" fill-opacity="0.65"/>
<rect x="108.4" y="28.8" width="1" height="1" fill="#2a40e0" fill-opacity="0.65"/>
<rect x="97.4" y="25.9" width="1" height="1" fill="#2a40e0" fill-opacity="0.65"/>
<rect x="115.3" y="31.7" width="1" height="1" fill="#2a40e0" fill-opacity="0.65"/>
<rect x="95.7" y="34.7" width="1" height="1" fill="#2a40e0" fill-opacity="0.65"/>
<rect x="110.3" y="23.7" width="1" height="1" fill="#2a40e0" fill-opacity="0.65"/>
<rect x="88.6" y="34.5" width="1" height="1" fill="#2a40e0" fill-opacity="0.65"/>
<rect x="98.5" y="27.9" width="1" height="1" fill="#2a40e0" fill-opacity="0.65"/>
<rect x="106.7" y="33.7" width="1" height="1" fill="#2a40e0" fill-opacity="0.65"/>
<rect x="60.1" y="28.8" width="1" height="1" fill="#2a40e0" fill-opacity="0.65"/>
<rect x="83.9" y="24.0" width="1" height="1" fill="#2a40e0" fill-opacity="0.65"/>
<rect x="92.0" y="30.8" width="1" height="1" fill="#2a40e0" fill-opacity="0.65"/>
<rect x="58.1" y="33.3" width="1" height="1" fill="#2a40e0" fill-opacity="0.65"/>
<rect x="103.4" y="35.9" width="1" height="1" fill="#2a40e0" fill-opacity="0.65"/>
<rect x="98.9" y="34.7" width="1" height="1" fill="#2a40e0" fill-opacity="0.65"/>
<rect x="112.5" y="30.8" width="1" height="1" fill="#2a40e0" fill-opacity="0.65"/>
<rect x="77.6" y="28.7" width="1" height="1" fill="#2a40e0" fill-opacity="0.65"/>
<rect x="83.6" y="27.6" width="1" height="1" fill="#2a40e0" fill-opacity="0.65"/>
<rect x="111.0" y="27.5" width="1" height="1" fill="#2a40e0" fill-opacity="0.65"/>
<rect x="80.0" y="26.6" width="1" height="1" fill="#2a40e0" fill-opacity="0.65"/>
<rect x="106.2" y="27.7" width="1" height="1" fill="#2a40e0" fill-opacity="0.65"/>
<rect x="75.4" y="30.2" width="1" height="1" fill="#2a40e0" fill-opacity="0.65"/>
<rect x="71.7" y="29.6" width="1" height="1" fill="#2a40e0" fill-opacity="0.65"/>
<rect x="81.2" y="32.0" width="1" height="1" fill="#2a40e0" fill-opacity="0.65"/>
<rect x="64.5" y="28.3" width="1" height="1" fill="#2a40e0" fill-opacity="0.65"/>
<rect x="105.8" y="30.6" width="1" height="1" fill="#2a40e0" fill-opacity="0.65"/>
<rect x="114.9" y="24.2" width="1" height="1" fill="#2a40e0" fill-opacity="0.65"/>
<rect x="60.5" y="28.0" width="1" height="1" fill="#2a40e0" fill-opacity="0.65"/>
<rect x="57.9" y="23.8" width="1" height="1" fill="#2a40e0" fill-opacity="0.65"/>
<rect x="54.7" y="35.1" width="1" height="1" fill="#2a40e0" fill-opacity="0.65"/>
<rect x="112.3" y="30.5" width="1" height="1" fill="#2a40e0" fill-opacity="0.65"/>
<rect x="59.1" y="26.1" width="1" height="1" fill="#2a40e0" fill-opacity="0.65"/>
<rect x="96.7" y="28.7" width="1" height="1" fill="#2a40e0" fill-opacity="0.65"/>
<rect x="73.3" y="32.9" width="1" height="1" fill="#2a40e0" fill-opacity="0.65"/>
<rect x="66.8" y="31.5" width="1" height="1" fill="#2a40e0" fill-opacity="0.65"/>
<rect x="69.8" y="31.1" width="1" height="1" fill="#2a40e0" fill-opacity="0.65"/>
<rect x="97.3" y="26.0" width="1" height="1" fill="#2a40e0" fill-opacity="0.65"/>
<rect x="55.6" y="28.0" width="1" height="1" fill="#2a40e0" fill-opacity="0.65"/>
<rect x="108.1" y="28.9" width="1" height="1" fill="#2a40e0" fill-opacity="0.65"/>
<rect x="89.7" y="32.3" width="1" height="1" fill="#2a40e0" fill-opacity="0.65"/>
<rect x="69.1" y="27.0" width="1" height="1" fill="#2a40e0" fill-opacity="0.65"/>
<rect x="67.4" y="26.0" width="1" height="1" fill="#2a40e0" fill-opacity="0.65"/>
<rect x="95.1" y="32.9" width="1" height="1" fill="#2a40e0" fill-opacity="0.65"/>
<rect x="93.5" y="25.9" width="1" height="1" fill="#2a40e0" fill-opacity="0.65"/>
<rect x="74.2" y="33.3" width="1" height="1" fill="#2a40e0" fill-opacity="0.65"/>
<rect x="75.2" y="30.4" width="1" height="1" fill="#2a40e0" fill-opacity="0.65"/>
<rect x="83.2" y="32.3" width="1" height="1" fill="#2a40e0" fill-opacity="0.65"/>
<rect x="110.9" y="34.5" width="1" height="1" fill="#2a40e0" fill-opacity="0.65"/>
<rect x="87.9" y="31.6" width="1" height="1" fill="#2a40e0" fill-opacity="0.65"/>
<rect x="106.6" y="31.3" width="1" height="1" fill="#2a40e0" fill-opacity="0.65"/>
<rect x="94.2" y="25.9" width="1" height="1" fill="#2a40e0" fill-opacity="0.65"/>
<rect x="89.4" y="26.8" width="1" height="1" fill="#2a40e0" fill-opacity="0.65"/>
<rect x="84.9" y="31.5" width="1" height="1" fill="#2a40e0" fill-opacity="0.65"/>
<rect x="96.7" y="34.2" width="1" height="1" fill="#2a40e0" fill-opacity="0.65"/>
<rect x="85.0" y="34.0" width="1" height="1" fill="#2a40e0" fill-opacity="0.65"/>
<rect x="99.5" y="36.7" width="1" height="1" fill="#2a40e0" fill-opacity="0.65"/>
<rect x="65.8" y="30.9" width="1" height="1" fill="#2a40e0" fill-opacity="0.65"/>
<rect x="74.5" y="30.3" width="1" height="1" fill="#2a40e0" fill-opacity="0.65"/>
<rect x="108.6" y="32.0" width="1" height="1" fill="#2a40e0" fill-opacity="0.65"/>
<rect x="79.0" y="29.5" width="1" height="1" fill="#2a40e0" fill-opacity="0.65"/>
<rect x="106.8" y="28.4" width="1" height="1" fill="#2a40e0" fill-opacity="0.65"/>
<rect x="112.7" y="24.9" width="1" height="1" fill="#2a40e0" fill-opacity="0.65"/>
<rect x="90.4" y="32.5" width="1" height="1" fill="#2a40e0" fill-opacity="0.65"/>
<rect x="60.8" y="26.4" width="1" height="1" fill="#2a40e0" fill-opacity="0.65"/>
<rect x="101.4" y="30.5" width="1" height="1" fill="#2a40e0" fill-opacity="0.65"/>
<rect x="95.8" y="24.2" width="1" height="1" fill="#2a40e0" fill-opacity="0.65"/>
<rect x="72.5" y="33.4" width="1" height="1" fill="#2a40e0" fill-opacity="0.65"/>
<rect x="108.0" y="25.1" width="1" height="1" fill="#2a40e0" fill-opacity="0.65"/>
<rect x="84.4" y="32.2" width="1" height="1" fill="#2a40e0" fill-opacity="0.65"/>
<rect x="58.0" y="24.7" width="1" height="1" fill="#2a40e0" fill-opacity="0.65"/>
<rect x="58.7" y="28.6" width="1" height="1" fill="#2a40e0" fill-opacity="0.65"/>
<rect x="68.7" y="33.8" width="1" height="1" fill="#2a40e0" fill-opacity="0.65"/>
<rect x="92.3" y="26.3" width="1" height="1" fill="#2a40e0" fill-opacity="0.65"/>
<rect x="105.0" y="28.9" width="1" height="1" fill="#2a40e0" fill-opacity="0.65"/>
<rect x="60.6" y="28.4" width="1" height="1" fill="#2a40e0" fill-opacity="0.65"/>
<rect x="55.9" y="22.3" width="1" height="1" fill="#2a40e0" fill-opacity="0.65"/>
<rect x="93.1" y="30.1" width="1" height="1" fill="#2a40e0" fill-opacity="0.65"/>
<rect x="79.9" y="30.9" width="1" height="1" fill="#2a40e0" fill-opacity="0.65"/>
<rect x="81.9" y="25.6" width="1" height="1" fill="#2a40e0" fill-opacity="0.65"/>
<rect x="105.4" y="30.6" width="1" height="1" fill="#2a40e0" fill-opacity="0.65"/>
<rect x="111.5" y="25.8" width="1" height="1" fill="#2a40e0" fill-opacity="0.65"/>
<rect x="114.5" y="25.0" width="1" height="1" fill="#2a40e0" fill-opacity="0.65"/>
<rect x="102.8" y="28.8" width="1" height="1" fill="#2a40e0" fill-opacity="0.65"/>
<rect x="54.7" y="27.9" width="1" height="1" fill="#2a40e0" fill-opacity="0.65"/>
<rect x="90.9" y="23.8" width="1" height="1" fill="#2a40e0" fill-opacity="0.65"/>
<rect x="113.7" y="30.9" width="1" height="1" fill="#2a40e0" fill-opacity="0.65"/>
<rect x="59.5" y="33.4" width="1" height="1" fill="#2a40e0" fill-opacity="0.65"/>
<rect x="86.4" y="22.5" width="1" height="1" fill="#2a40e0" fill-opacity="0.65"/>
<rect x="79.1" y="23.6" width="1" height="1" fill="#2a40e0" fill-opacity="0.65"/>
<rect x="79.7" y="31.4" width="1" height="1" fill="#2a40e0" fill-opacity="0.65"/>
<rect x="71.2" y="28.1" width="1" height="1" fill="#2a40e0" fill-opacity="0.65"/>
<rect x="71.3" y="31.0" width="1" height="1" fill="#2a40e0" fill-opacity="0.65"/>
<rect x="69.3" y="33.6" width="1" height="1" fill="#2a40e0" fill-opacity="0.65"/>
<rect x="60.9" y="28.8" width="1" height="1" fill="#2a40e0" fill-opacity="0.65"/>
<rect x="88.9" y="25.6" width="1" height="1" fill="#2a40e0" fill-opacity="0.65"/>
<rect x="98.7" y="29.6" width="1" height="1" fill="#2a40e0" fill-opacity="0.65"/>
<rect x="94.2" y="25.9" width="1" height="1" fill="#2a40e0" fill-opacity="0.65"/>
<rect x="113.6" y="29.5" width="1" height="1" fill="#2a40e0" fill-opacity="0.65"/>
<rect x="75.6" y="30.4" width="1" height="1" fill="#2a40e0" fill-opacity="0.65"/>
<g transform="translate(98,28.4) rotate(-7)"><ellipse rx="15" ry="4.4" fill="#2c80f0" fill-opacity="0.55"/><ellipse cx="1.5" rx="10" ry="3" fill="#22a4f0" fill-opacity="0.8"/><ellipse cx="2" rx="5" ry="1.8" fill="#30b8f0" fill-opacity="0.8"/></g>
<rect x="123.1" y="39.4" width="1.0" height="1.0" fill="#3a4de0" fill-opacity="0.5"/>
<rect x="131.8" y="24.6" width="1.0" height="1.0" fill="#3a4de0" fill-opacity="0.5"/>
<rect x="133.1" y="29.7" width="1.0" height="1.0" fill="#3a4de0" fill-opacity="0.5"/>
<rect x="130.7" y="29.7" width="1.0" height="1.0" fill="#3a4de0" fill-opacity="0.5"/>
<rect x="122.4" y="37.6" width="1.0" height="1.0" fill="#3a4de0" fill-opacity="0.5"/>
<rect x="119.5" y="30.7" width="1.0" height="1.0" fill="#3a4de0" fill-opacity="0.5"/>
<rect x="126.6" y="36.1" width="1.0" height="1.0" fill="#3a4de0" fill-opacity="0.5"/>
<rect x="127.0" y="35.6" width="1.0" height="1.0" fill="#3a4de0" fill-opacity="0.5"/>
<rect x="121.0" y="36.3" width="1.0" height="1.0" fill="#3a4de0" fill-opacity="0.5"/>
<rect x="123.1" y="27.5" width="1.0" height="1.0" fill="#3a4de0" fill-opacity="0.5"/>
<rect x="124.5" y="29.7" width="1.0" height="1.0" fill="#3a4de0" fill-opacity="0.5"/>
<rect x="129.8" y="32.2" width="1.0" height="1.0" fill="#3a4de0" fill-opacity="0.5"/>
<rect x="122.5" y="33.2" width="1.0" height="1.0" fill="#3a4de0" fill-opacity="0.5"/>
<rect x="129.3" y="25.8" width="1.0" height="1.0" fill="#3a4de0" fill-opacity="0.5"/>
<rect x="127.6" y="32.0" width="1.0" height="1.0" fill="#3a4de0" fill-opacity="0.5"/>
<rect x="121.2" y="47.0" width="1.0" height="1.0" fill="#3a4de0" fill-opacity="0.5"/>
<rect x="124.6" y="35.4" width="1.0" height="1.0" fill="#3a4de0" fill-opacity="0.5"/>
<rect x="126.1" y="32.6" width="1.0" height="1.0" fill="#3a4de0" fill-opacity="0.5"/>
<rect x="128.1" y="27.2" width="1.0" height="1.0" fill="#3a4de0" fill-opacity="0.5"/>
<rect x="129.4" y="36.4" width="1.0" height="1.0" fill="#3a4de0" fill-opacity="0.5"/>
<rect x="128.3" y="35.3" width="1.0" height="1.0" fill="#3a4de0" fill-opacity="0.5"/>
<rect x="124.3" y="35.4" width="1.0" height="1.0" fill="#3a4de0" fill-opacity="0.5"/>
<rect x="125.2" y="27.3" width="1.0" height="1.0" fill="#3a4de0" fill-opacity="0.5"/>
<rect x="123.3" y="33.4" width="1.0" height="1.0" fill="#3a4de0" fill-opacity="0.5"/>
<rect x="126.1" y="36.2" width="1.0" height="1.0" fill="#3a4de0" fill-opacity="0.5"/>
<rect x="122.6" y="34.8" width="1.0" height="1.0" fill="#3a4de0" fill-opacity="0.5"/>
<rect x="130.3" y="31.3" width="1.0" height="1.0" fill="#3a4de0" fill-opacity="0.5"/>
<rect x="125.8" y="35.5" width="1.0" height="1.0" fill="#3a4de0" fill-opacity="0.5"/>
<rect x="122.2" y="40.7" width="1.0" height="1.0" fill="#3a4de0" fill-opacity="0.5"/>
<rect x="129.9" y="30.6" width="1.0" height="1.0" fill="#3a4de0" fill-opacity="0.5"/>
<rect x="125.6" y="36.5" width="1.0" height="1.0" fill="#3a4de0" fill-opacity="0.5"/>
<rect x="125.5" y="29.6" width="1.0" height="1.0" fill="#3a4de0" fill-opacity="0.5"/>
<rect x="126.8" y="30.3" width="1.0" height="1.0" fill="#3a4de0" fill-opacity="0.5"/>
<rect x="135.6" y="30.5" width="1.0" height="1.0" fill="#3a4de0" fill-opacity="0.5"/>
<rect x="126.8" y="25.8" width="1.0" height="1.0" fill="#3a4de0" fill-opacity="0.5"/>
<rect x="123.7" y="34.4" width="1.0" height="1.0" fill="#3a4de0" fill-opacity="0.5"/>
<rect x="128.5" y="34.9" width="1.0" height="1.0" fill="#3a4de0" fill-opacity="0.5"/>
<rect x="122.3" y="38.2" width="1.0" height="1.0" fill="#3a4de0" fill-opacity="0.5"/>
<rect x="129.6" y="23.5" width="1.0" height="1.0" fill="#3a4de0" fill-opacity="0.5"/>
<rect x="124.7" y="28.5" width="1.0" height="1.0" fill="#3a4de0" fill-opacity="0.5"/>
<rect x="131.9" y="26.9" width="1.0" height="1.0" fill="#3a4de0" fill-opacity="0.5"/>
<rect x="128.0" y="35.5" width="1.0" height="1.0" fill="#3a4de0" fill-opacity="0.5"/>
<rect x="123.7" y="44.1" width="1.0" height="1.0" fill="#3a4de0" fill-opacity="0.5"/>
<rect x="131.2" y="25.5" width="1.0" height="1.0" fill="#3a4de0" fill-opacity="0.5"/>
<rect x="129.2" y="33.6" width="1.0" height="1.0" fill="#3a4de0" fill-opacity="0.5"/>
<rect x="124.5" y="30.3" width="1.0" height="1.0" fill="#3a4de0" fill-opacity="0.5"/>
<rect x="127.1" y="32.5" width="1.0" height="1.0" fill="#3a4de0" fill-opacity="0.5"/>
<rect x="126.8" y="28.5" width="1.0" height="1.0" fill="#3a4de0" fill-opacity="0.5"/>
<rect x="128.5" y="30.3" width="1.0" height="1.0" fill="#3a4de0" fill-opacity="0.5"/>
<rect x="123.5" y="41.0" width="1.0" height="1.0" fill="#3a4de0" fill-opacity="0.5"/>
<rect x="132.3" y="29.1" width="1.0" height="1.0" fill="#3a4de0" fill-opacity="0.5"/>
<rect x="122.6" y="33.5" width="1.0" height="1.0" fill="#3a4de0" fill-opacity="0.5"/>
<rect x="128.1" y="36.6" width="1.0" height="1.0" fill="#3a4de0" fill-opacity="0.5"/>
<rect x="130.5" y="23.8" width="1.0" height="1.0" fill="#3a4de0" fill-opacity="0.5"/>
<rect x="126.8" y="26.7" width="1.0" height="1.0" fill="#3a4de0" fill-opacity="0.5"/>
<rect x="125.1" y="33.8" width="1.0" height="1.0" fill="#3a4de0" fill-opacity="0.5"/>
<rect x="117.5" y="38.9" width="1.0" height="1.0" fill="#3a4de0" fill-opacity="0.5"/>
<rect x="127.0" y="31.8" width="1.0" height="1.0" fill="#3a4de0" fill-opacity="0.5"/>
<rect x="128.8" y="30.4" width="1.0" height="1.0" fill="#3a4de0" fill-opacity="0.5"/>
<rect x="125.8" y="32.6" width="1.0" height="1.0" fill="#3a4de0" fill-opacity="0.5"/>
<rect x="124.1" y="39.1" width="1.0" height="1.0" fill="#3a4de0" fill-opacity="0.5"/>
<rect x="123.4" y="35.7" width="1.0" height="1.0" fill="#3a4de0" fill-opacity="0.5"/>
<rect x="122.8" y="38.3" width="1.0" height="1.0" fill="#3a4de0" fill-opacity="0.5"/>
<rect x="123.7" y="29.3" width="1.0" height="1.0" fill="#3a4de0" fill-opacity="0.5"/>
<rect x="129.0" y="28.8" width="1.0" height="1.0" fill="#3a4de0" fill-opacity="0.5"/>
<rect x="127.5" y="26.5" width="1.0" height="1.0" fill="#3a4de0" fill-opacity="0.5"/>
<rect x="123.3" y="35.2" width="1.0" height="1.0" fill="#3a4de0" fill-opacity="0.5"/>
<rect x="127.0" y="31.3" width="1.0" height="1.0" fill="#3a4de0" fill-opacity="0.5"/>
<rect x="128.6" y="30.2" width="1.0" height="1.0" fill="#3a4de0" fill-opacity="0.5"/>
<rect x="121.1" y="32.4" width="1.0" height="1.0" fill="#3a4de0" fill-opacity="0.5"/>
<rect x="122.4" y="30.8" width="1.0" height="1.0" fill="#3a4de0" fill-opacity="0.5"/>
<rect x="132.1" y="22.2" width="1.0" height="1.0" fill="#3a4de0" fill-opacity="0.5"/>
<rect x="128.2" y="32.3" width="1.0" height="1.0" fill="#3a4de0" fill-opacity="0.5"/>
<rect x="130.0" y="29.0" width="1.0" height="1.0" fill="#3a4de0" fill-opacity="0.5"/>
<rect x="127.3" y="35.9" width="1.0" height="1.0" fill="#3a4de0" fill-opacity="0.5"/>
<rect x="129.7" y="34.3" width="1.0" height="1.0" fill="#3a4de0" fill-opacity="0.5"/>
<rect x="122.6" y="41.2" width="1.0" height="1.0" fill="#3a4de0" fill-opacity="0.5"/>
<rect x="126.4" y="32.6" width="1.0" height="1.0" fill="#3a4de0" fill-opacity="0.5"/>
<rect x="127.6" y="25.4" width="1.0" height="1.0" fill="#3a4de0" fill-opacity="0.5"/>
<rect x="130.5" y="21.4" width="1.0" height="1.0" fill="#3a4de0" fill-opacity="0.5"/>
<rect x="129.0" y="26.3" width="1.0" height="1.0" fill="#3a4de0" fill-opacity="0.5"/>
<rect x="129.2" y="29.7" width="1.0" height="1.0" fill="#3a4de0" fill-opacity="0.5"/>
<rect x="127.2" y="32.6" width="1.0" height="1.0" fill="#3a4de0" fill-opacity="0.5"/>
<rect x="124.7" y="35.3" width="1.0" height="1.0" fill="#3a4de0" fill-opacity="0.5"/>
<rect x="125.7" y="33.0" width="1.0" height="1.0" fill="#3a4de0" fill-opacity="0.5"/>
<rect x="129.8" y="30.6" width="1.0" height="1.0" fill="#3a4de0" fill-opacity="0.5"/>
<rect x="124.7" y="36.4" width="1.0" height="1.0" fill="#3a4de0" fill-opacity="0.5"/>
<rect x="130.0" y="28.6" width="1.0" height="1.0" fill="#3a4de0" fill-opacity="0.5"/>
<rect x="124.3" y="37.5" width="1.0" height="1.0" fill="#3a4de0" fill-opacity="0.5"/>
<rect x="119.9" y="39.9" width="1.0" height="1.0" fill="#3a4de0" fill-opacity="0.5"/>
<rect x="121.1" y="35.6" width="1.0" height="1.0" fill="#3a4de0" fill-opacity="0.5"/>
<rect x="122.7" y="41.0" width="1.0" height="1.0" fill="#3a4de0" fill-opacity="0.5"/>
<rect x="123.4" y="39.5" width="1.0" height="1.0" fill="#3a4de0" fill-opacity="0.5"/>
<rect x="129.3" y="26.9" width="1.0" height="1.0" fill="#3a4de0" fill-opacity="0.5"/>
<rect x="124.9" y="32.8" width="1.0" height="1.0" fill="#3a4de0" fill-opacity="0.5"/>
<rect x="132.5" y="34.9" width="1.0" height="1.0" fill="#3a4de0" fill-opacity="0.5"/>
<rect x="128.2" y="26.0" width="1.0" height="1.0" fill="#3a4de0" fill-opacity="0.5"/>
<rect x="129.7" y="26.3" width="1.0" height="1.0" fill="#3a4de0" fill-opacity="0.5"/>
<rect x="125.6" y="35.2" width="1.0" height="1.0" fill="#3a4de0" fill-opacity="0.5"/>
<rect x="127.7" y="24.6" width="1.0" height="1.0" fill="#3a4de0" fill-opacity="0.5"/>
<rect x="127.9" y="30.9" width="1.0" height="1.0" fill="#3a4de0" fill-opacity="0.5"/>
<rect x="130.7" y="35.2" width="1.0" height="1.0" fill="#3a4de0" fill-opacity="0.5"/>
<rect x="130.0" y="31.9" width="1.0" height="1.0" fill="#3a4de0" fill-opacity="0.5"/>
<rect x="123.8" y="40.1" width="1.0" height="1.0" fill="#3a4de0" fill-opacity="0.5"/>
<rect x="125.6" y="37.0" width="1.0" height="1.0" fill="#3a4de0" fill-opacity="0.5"/>
<rect x="126.4" y="33.2" width="1.0" height="1.0" fill="#3a4de0" fill-opacity="0.5"/>
<rect x="130.6" y="31.1" width="1.0" height="1.0" fill="#3a4de0" fill-opacity="0.5"/>
<rect x="125.0" y="34.0" width="1.0" height="1.0" fill="#3a4de0" fill-opacity="0.5"/>
<rect x="125.1" y="32.4" width="1.0" height="1.0" fill="#3a4de0" fill-opacity="0.5"/>
<rect x="129.6" y="28.2" width="1.0" height="1.0" fill="#3a4de0" fill-opacity="0.5"/>
<rect x="132.8" y="27.3" width="1.0" height="1.0" fill="#3a4de0" fill-opacity="0.5"/>
<rect x="129.6" y="29.4" width="1.0" height="1.0" fill="#3a4de0" fill-opacity="0.5"/>
<rect x="131.9" y="27.7" width="1.0" height="1.0" fill="#3a4de0" fill-opacity="0.5"/>
<rect x="120.5" y="31.3" width="1.0" height="1.0" fill="#3a4de0" fill-opacity="0.5"/>
<rect x="128.4" y="35.7" width="1.0" height="1.0" fill="#3a4de0" fill-opacity="0.5"/>
<rect x="133.0" y="34.6" width="1.0" height="1.0" fill="#3a4de0" fill-opacity="0.5"/>
<rect x="128.8" y="35.9" width="1.0" height="1.0" fill="#3a4de0" fill-opacity="0.5"/>
<rect x="124.2" y="34.4" width="1.0" height="1.0" fill="#3a4de0" fill-opacity="0.5"/>
<rect x="129.4" y="23.6" width="1.0" height="1.0" fill="#3a4de0" fill-opacity="0.5"/>
<rect x="126.6" y="33.9" width="1.0" height="1.0" fill="#3a4de0" fill-opacity="0.5"/>
<rect x="121.3" y="35.5" width="1.0" height="1.0" fill="#3a4de0" fill-opacity="0.5"/>
<rect x="129.7" y="31.3" width="1.0" height="1.0" fill="#3a4de0" fill-opacity="0.5"/>
<rect x="130.7" y="23.2" width="1.0" height="1.0" fill="#3a4de0" fill-opacity="0.5"/>
<rect x="129.0" y="33.6" width="1.0" height="1.0" fill="#3a4de0" fill-opacity="0.5"/>
<rect x="133.4" y="28.9" width="1.0" height="1.0" fill="#3a4de0" fill-opacity="0.5"/>
<rect x="120.4" y="31.5" width="1.0" height="1.0" fill="#3a4de0" fill-opacity="0.5"/>
<rect x="125.7" y="35.2" width="1.0" height="1.0" fill="#3a4de0" fill-opacity="0.5"/>
<rect x="122.8" y="34.6" width="1.0" height="1.0" fill="#3a4de0" fill-opacity="0.5"/>
<rect x="122.8" y="31.0" width="1.0" height="1.0" fill="#3a4de0" fill-opacity="0.5"/>
<rect x="130.5" y="23.1" width="1.0" height="1.0" fill="#3a4de0" fill-opacity="0.5"/>
<rect x="122.6" y="37.5" width="1.0" height="1.0" fill="#3a4de0" fill-opacity="0.5"/>
<rect x="133.8" y="26.5" width="1.0" height="1.0" fill="#3a4de0" fill-opacity="0.5"/>
<rect x="119.9" y="34.9" width="1.0" height="1.0" fill="#3a4de0" fill-opacity="0.5"/>
<rect x="128.3" y="35.2" width="1.0" height="1.0" fill="#3a4de0" fill-opacity="0.5"/>
<rect x="133.7" y="31.7" width="1.0" height="1.0" fill="#3a4de0" fill-opacity="0.5"/>
<rect x="129.8" y="30.5" width="1.0" height="1.0" fill="#3a4de0" fill-opacity="0.5"/>
<rect x="128.6" y="32.0" width="1.0" height="1.0" fill="#3a4de0" fill-opacity="0.5"/>
<rect x="121.6" y="40.1" width="1.0" height="1.0" fill="#3a4de0" fill-opacity="0.5"/>
<rect x="124.8" y="29.0" width="1.0" height="1.0" fill="#3a4de0" fill-opacity="0.5"/>
<rect x="124.7" y="38.0" width="1.0" height="1.0" fill="#3a4de0" fill-opacity="0.5"/>
<rect x="135.0" y="21.2" width="1.0" height="1.0" fill="#3a4de0" fill-opacity="0.5"/>
<rect x="127.6" y="34.6" width="1.0" height="1.0" fill="#3a4de0" fill-opacity="0.5"/>
<rect x="133.1" y="35.5" width="1.0" height="1.0" fill="#3a4de0" fill-opacity="0.5"/>
<rect x="124.8" y="38.9" width="1.0" height="1.0" fill="#3a4de0" fill-opacity="0.5"/>
<rect x="126.1" y="35.4" width="1.0" height="1.0" fill="#3a4de0" fill-opacity="0.5"/>
<rect x="126.3" y="40.8" width="1.0" height="1.0" fill="#3a4de0" fill-opacity="0.5"/>
<rect x="126.2" y="25.9" width="1.0" height="1.0" fill="#3a4de0" fill-opacity="0.5"/>
<rect x="123.0" y="32.0" width="1.0" height="1.0" fill="#3a4de0" fill-opacity="0.5"/>
<rect x="127.3" y="29.3" width="1.0" height="1.0" fill="#3a4de0" fill-opacity="0.5"/>
<rect x="122.9" y="34.7" width="1.0" height="1.0" fill="#3a4de0" fill-opacity="0.5"/>
<rect x="126.6" y="35.9" width="1.0" height="1.0" fill="#3a4de0" fill-opacity="0.5"/>
<rect x="129.6" y="26.1" width="1.0" height="1.0" fill="#3a4de0" fill-opacity="0.5"/>
<rect x="127.7" y="39.6" width="1.0" height="1.0" fill="#3a4de0" fill-opacity="0.5"/>
<rect x="124.7" y="43.1" width="1.0" height="1.0" fill="#3a4de0" fill-opacity="0.5"/>
<rect x="129.5" y="31.8" width="1.0" height="1.0" fill="#3a4de0" fill-opacity="0.5"/>
<rect x="122.2" y="37.2" width="1.0" height="1.0" fill="#3a4de0" fill-opacity="0.5"/>
<rect x="126.6" y="35.5" width="1.0" height="1.0" fill="#3a4de0" fill-opacity="0.5"/>
<rect x="131.1" y="29.5" width="1.0" height="1.0" fill="#3a4de0" fill-opacity="0.5"/>
<rect x="121.6" y="34.7" width="1.0" height="1.0" fill="#3a4de0" fill-opacity="0.5"/>
<rect x="129.9" y="29.0" width="1.0" height="1.0" fill="#3a4de0" fill-opacity="0.5"/>
<rect x="126.1" y="36.7" width="1.0" height="1.0" fill="#3a4de0" fill-opacity="0.5"/>
<rect x="131.4" y="25.9" width="1.0" height="1.0" fill="#3a4de0" fill-opacity="0.5"/>
<rect x="134.1" y="28.7" width="1.0" height="1.0" fill="#3a4de0" fill-opacity="0.5"/>
<rect x="128.0" y="36.5" width="1.0" height="1.0" fill="#3a4de0" fill-opacity="0.5"/>
<rect x="123.9" y="32.2" width="1.0" height="1.0" fill="#3a4de0" fill-opacity="0.5"/>
<rect x="124.3" y="36.5" width="1.0" height="1.0" fill="#3a4de0" fill-opacity="0.5"/>
<rect x="125.1" y="30.3" width="1.0" height="1.0" fill="#3a4de0" fill-opacity="0.5"/>
<rect x="131.3" y="28.1" width="1.0" height="1.0" fill="#3a4de0" fill-opacity="0.5"/>
<rect x="120.2" y="37.9" width="1.0" height="1.0" fill="#3a4de0" fill-opacity="0.5"/>
<rect x="131.4" y="29.7" width="1.0" height="1.0" fill="#3a4de0" fill-opacity="0.5"/>
<rect x="123.5" y="39.2" width="1.0" height="1.0" fill="#3a4de0" fill-opacity="0.5"/>
<rect x="126.2" y="37.9" width="1.0" height="1.0" fill="#3a4de0" fill-opacity="0.5"/>
<rect x="120.8" y="40.6" width="1.0" height="1.0" fill="#3a4de0" fill-opacity="0.5"/>
<rect x="129.3" y="20.6" width="1.0" height="1.0" fill="#3a4de0" fill-opacity="0.5"/>
<rect x="130.8" y="34.9" width="1.0" height="1.0" fill="#3a4de0" fill-opacity="0.5"/>
<rect x="126.8" y="31.1" width="1.0" height="1.0" fill="#3a4de0" fill-opacity="0.5"/>
<rect x="127.7" y="37.7" width="1.0" height="1.0" fill="#3a4de0" fill-opacity="0.5"/>
<rect x="130.7" y="28.2" width="1.0" height="1.0" fill="#3a4de0" fill-opacity="0.5"/>
<rect x="121.8" y="43.3" width="1.0" height="1.0" fill="#3a4de0" fill-opacity="0.5"/>
<rect x="130.9" y="35.1" width="1.0" height="1.0" fill="#3a4de0" fill-opacity="0.5"/>
<rect x="133.9" y="22.8" width="1.0" height="1.0" fill="#3a4de0" fill-opacity="0.5"/>
<rect x="128.7" y="36.4" width="1.0" height="1.0" fill="#3a4de0" fill-opacity="0.5"/>
<rect x="123.1" y="30.2" width="1.0" height="1.0" fill="#3a4de0" fill-opacity="0.5"/>
<rect x="130.6" y="30.7" width="1.0" height="1.0" fill="#3a4de0" fill-opacity="0.5"/>
<rect x="123.5" y="35.9" width="1.0" height="1.0" fill="#3a4de0" fill-opacity="0.5"/>
<rect x="126.3" y="32.2" width="1.0" height="1.0" fill="#3a4de0" fill-opacity="0.5"/>
<rect x="129.4" y="28.1" width="1.0" height="1.0" fill="#3a4de0" fill-opacity="0.5"/>
<rect x="127.9" y="32.1" width="1.0" height="1.0" fill="#3a4de0" fill-opacity="0.5"/>
<rect x="131.5" y="33.3" width="1.0" height="1.0" fill="#3a4de0" fill-opacity="0.5"/>
<rect x="121.1" y="31.3" width="1.0" height="1.0" fill="#3a4de0" fill-opacity="0.5"/>
<rect x="120.1" y="40.1" width="1.0" height="1.0" fill="#3a4de0" fill-opacity="0.55"/>
<rect x="117.9" y="40.3" width="1.0" height="1.0" fill="#3a4de0" fill-opacity="0.55"/>
<rect x="123.5" y="44.5" width="1.0" height="1.0" fill="#3a4de0" fill-opacity="0.55"/>
<rect x="118.7" y="37.2" width="1.0" height="1.0" fill="#3a4de0" fill-opacity="0.55"/>
<rect x="121.4" y="38.4" width="1.0" height="1.0" fill="#3a4de0" fill-opacity="0.55"/>
<rect x="118.8" y="35.2" width="1.0" height="1.0" fill="#3a4de0" fill-opacity="0.55"/>
<rect x="122.0" y="41.5" width="1.0" height="1.0" fill="#3a4de0" fill-opacity="0.55"/>
<rect x="123.0" y="38.6" width="1.0" height="1.0" fill="#3a4de0" fill-opacity="0.55"/>
<rect x="118.8" y="41.3" width="1.0" height="1.0" fill="#3a4de0" fill-opacity="0.55"/>
<rect x="120.1" y="36.8" width="1.0" height="1.0" fill="#3a4de0" fill-opacity="0.55"/>
<rect x="115.7" y="38.9" width="1.0" height="1.0" fill="#3a4de0" fill-opacity="0.55"/>
<rect x="120.9" y="43.1" width="1.0" height="1.0" fill="#3a4de0" fill-opacity="0.55"/>
<rect x="122.6" y="39.5" width="1.0" height="1.0" fill="#3a4de0" fill-opacity="0.55"/>
<rect x="118.3" y="41.9" width="1.0" height="1.0" fill="#3a4de0" fill-opacity="0.55"/>
<rect x="123.4" y="41.6" width="1.0" height="1.0" fill="#3a4de0" fill-opacity="0.55"/>
<rect x="113.8" y="38.9" width="1.0" height="1.0" fill="#3a4de0" fill-opacity="0.55"/>
<rect x="114.4" y="35.3" width="1.0" height="1.0" fill="#3a4de0" fill-opacity="0.55"/>
<rect x="115.8" y="43.0" width="1.0" height="1.0" fill="#3a4de0" fill-opacity="0.55"/>
<rect x="118.5" y="40.5" width="1.0" height="1.0" fill="#3a4de0" fill-opacity="0.55"/>
<rect x="120.1" y="42.9" width="1.0" height="1.0" fill="#3a4de0" fill-opacity="0.55"/>
<rect x="119.8" y="34.0" width="1.0" height="1.0" fill="#3a4de0" fill-opacity="0.55"/>
<rect x="119.8" y="35.0" width="1.0" height="1.0" fill="#3a4de0" fill-opacity="0.55"/>
<rect x="122.2" y="33.6" width="1.0" height="1.0" fill="#3a4de0" fill-opacity="0.55"/>
<rect x="118.6" y="37.4" width="1.0" height="1.0" fill="#3a4de0" fill-opacity="0.55"/>
<rect x="116.2" y="43.1" width="1.0" height="1.0" fill="#3a4de0" fill-opacity="0.55"/>
<rect x="116.3" y="41.7" width="1.0" height="1.0" fill="#3a4de0" fill-opacity="0.55"/>
<rect x="126.3" y="39.9" width="1.0" height="1.0" fill="#3a4de0" fill-opacity="0.55"/>
<rect x="112.9" y="40.4" width="1.0" height="1.0" fill="#3a4de0" fill-opacity="0.55"/>
<rect x="119.5" y="42.3" width="1.0" height="1.0" fill="#3a4de0" fill-opacity="0.55"/>
<rect x="124.4" y="39.1" width="1.0" height="1.0" fill="#3a4de0" fill-opacity="0.55"/>
<rect x="121.5" y="41.2" width="1.0" height="1.0" fill="#3a4de0" fill-opacity="0.55"/>
<rect x="117.5" y="40.4" width="1.0" height="1.0" fill="#3a4de0" fill-opacity="0.55"/>
<rect x="120.0" y="33.4" width="1.0" height="1.0" fill="#3a4de0" fill-opacity="0.55"/>
<rect x="122.6" y="38.8" width="1.0" height="1.0" fill="#3a4de0" fill-opacity="0.55"/>
<rect x="123.6" y="44.1" width="1.0" height="1.0" fill="#3a4de0" fill-opacity="0.55"/>
<rect x="117.3" y="38.8" width="1.0" height="1.0" fill="#3a4de0" fill-opacity="0.55"/>
<rect x="122.3" y="39.6" width="1.0" height="1.0" fill="#3a4de0" fill-opacity="0.55"/>
<rect x="120.8" y="38.2" width="1.0" height="1.0" fill="#3a4de0" fill-opacity="0.55"/>
<rect x="123.3" y="38.5" width="1.0" height="1.0" fill="#3a4de0" fill-opacity="0.55"/>
<rect x="124.2" y="43.4" width="1.0" height="1.0" fill="#3a4de0" fill-opacity="0.55"/>
<rect x="119.0" y="39.2" width="1.0" height="1.0" fill="#3a4de0" fill-opacity="0.55"/>
<rect x="115.7" y="36.9" width="1.0" height="1.0" fill="#3a4de0" fill-opacity="0.55"/>
<rect x="121.2" y="30.7" width="1.0" height="1.0" fill="#3a4de0" fill-opacity="0.55"/>
<rect x="125.3" y="38.3" width="1.0" height="1.0" fill="#3a4de0" fill-opacity="0.55"/>
<rect x="122.1" y="34.1" width="1.0" height="1.0" fill="#3a4de0" fill-opacity="0.55"/>
<rect x="120.7" y="34.5" width="1.0" height="1.0" fill="#3a4de0" fill-opacity="0.55"/>
<rect x="127.2" y="42.4" width="1.0" height="1.0" fill="#3a4de0" fill-opacity="0.55"/>
<rect x="116.9" y="42.1" width="1.0" height="1.0" fill="#3a4de0" fill-opacity="0.55"/>
<rect x="122.7" y="34.2" width="1.0" height="1.0" fill="#3a4de0" fill-opacity="0.55"/>
<rect x="118.3" y="42.6" width="1.0" height="1.0" fill="#3a4de0" fill-opacity="0.55"/>
<rect x="118.3" y="53.2" width="1.0" height="1.0" fill="#2a40e0" fill-opacity="0.65"/>
<rect x="112.3" y="59.5" width="1.0" height="1.0" fill="#2a40e0" fill-opacity="0.65"/>
<rect x="123.2" y="54.9" width="1.0" height="1.0" fill="#2a40e0" fill-opacity="0.65"/>
<rect x="119.4" y="73.5" width="1.0" height="1.0" fill="#2a40e0" fill-opacity="0.65"/>
<rect x="116.1" y="66.7" width="1.0" height="1.0" fill="#2a40e0" fill-opacity="0.65"/>
<rect x="115.0" y="68.0" width="1.0" height="1.0" fill="#2a40e0" fill-opacity="0.65"/>
<rect x="109.4" y="60.0" width="1.0" height="1.0" fill="#2a40e0" fill-opacity="0.65"/>
<rect x="123.3" y="53.6" width="1.0" height="1.0" fill="#2a40e0" fill-opacity="0.65"/>
<rect x="109.4" y="62.1" width="1.0" height="1.0" fill="#2a40e0" fill-opacity="0.65"/>
<rect x="116.4" y="66.5" width="1.0" height="1.0" fill="#2a40e0" fill-opacity="0.65"/>
<rect x="114.2" y="62.7" width="1.0" height="1.0" fill="#2a40e0" fill-opacity="0.65"/>
<rect x="120.3" y="57.4" width="1.0" height="1.0" fill="#2a40e0" fill-opacity="0.65"/>
<rect x="117.5" y="59.9" width="1.0" height="1.0" fill="#2a40e0" fill-opacity="0.65"/>
<rect x="121.5" y="52.2" width="1.0" height="1.0" fill="#2a40e0" fill-opacity="0.65"/>
<rect x="111.2" y="57.9" width="1.0" height="1.0" fill="#2a40e0" fill-opacity="0.65"/>
<rect x="115.2" y="66.7" width="1.0" height="1.0" fill="#2a40e0" fill-opacity="0.65"/>
<rect x="112.6" y="57.2" width="1.0" height="1.0" fill="#2a40e0" fill-opacity="0.65"/>
<rect x="115.7" y="54.9" width="1.0" height="1.0" fill="#2a40e0" fill-opacity="0.65"/>
<rect x="114.1" y="62.4" width="1.0" height="1.0" fill="#2a40e0" fill-opacity="0.65"/>
<rect x="118.4" y="54.9" width="1.0" height="1.0" fill="#2a40e0" fill-opacity="0.65"/>
<rect x="128.5" y="49.5" width="1.0" height="1.0" fill="#2a40e0" fill-opacity="0.65"/>
<rect x="119.8" y="64.2" width="1.0" height="1.0" fill="#2a40e0" fill-opacity="0.65"/>
<rect x="120.3" y="58.8" width="1.0" height="1.0" fill="#2a40e0" fill-opacity="0.65"/>
<rect x="126.1" y="51.8" width="1.0" height="1.0" fill="#2a40e0" fill-opacity="0.65"/>
<rect x="116.3" y="61.9" width="1.0" height="1.0" fill="#2a40e0" fill-opacity="0.65"/>
<rect x="118.1" y="65.2" width="1.0" height="1.0" fill="#2a40e0" fill-opacity="0.65"/>
<rect x="108.4" y="59.0" width="1.0" height="1.0" fill="#2a40e0" fill-opacity="0.65"/>
<rect x="122.3" y="57.3" width="1.0" height="1.0" fill="#2a40e0" fill-opacity="0.65"/>
<rect x="118.7" y="53.1" width="1.0" height="1.0" fill="#2a40e0" fill-opacity="0.65"/>
<rect x="114.7" y="55.8" width="1.0" height="1.0" fill="#2a40e0" fill-opacity="0.65"/>
<rect x="119.5" y="58.2" width="1.0" height="1.0" fill="#2a40e0" fill-opacity="0.65"/>
<rect x="123.9" y="50.7" width="1.0" height="1.0" fill="#2a40e0" fill-opacity="0.65"/>
<rect x="125.1" y="55.5" width="1.0" height="1.0" fill="#2a40e0" fill-opacity="0.65"/>
<rect x="116.2" y="68.9" width="1.0" height="1.0" fill="#2a40e0" fill-opacity="0.65"/>
<rect x="111.8" y="52.0" width="1.0" height="1.0" fill="#2a40e0" fill-opacity="0.65"/>
<rect x="119.5" y="57.7" width="1.0" height="1.0" fill="#2a40e0" fill-opacity="0.65"/>
<rect x="128.7" y="60.1" width="1.0" height="1.0" fill="#2a40e0" fill-opacity="0.65"/>
<rect x="120.9" y="62.0" width="1.0" height="1.0" fill="#2a40e0" fill-opacity="0.65"/>
<rect x="120.8" y="65.9" width="1.0" height="1.0" fill="#2a40e0" fill-opacity="0.65"/>
<rect x="117.4" y="61.2" width="1.0" height="1.0" fill="#2a40e0" fill-opacity="0.65"/>
<rect x="106.5" y="63.8" width="1.0" height="1.0" fill="#2a40e0" fill-opacity="0.65"/>
<rect x="115.5" y="55.5" width="1.0" height="1.0" fill="#2a40e0" fill-opacity="0.65"/>
<rect x="118.7" y="63.6" width="1.0" height="1.0" fill="#2a40e0" fill-opacity="0.65"/>
<rect x="124.4" y="58.7" width="1.0" height="1.0" fill="#2a40e0" fill-opacity="0.65"/>
<rect x="112.1" y="61.9" width="1.0" height="1.0" fill="#2a40e0" fill-opacity="0.65"/>
<rect x="116.3" y="60.0" width="1.0" height="1.0" fill="#2a40e0" fill-opacity="0.65"/>
<rect x="115.5" y="64.4" width="1.0" height="1.0" fill="#2a40e0" fill-opacity="0.65"/>
<rect x="108.7" y="59.3" width="1.0" height="1.0" fill="#2a40e0" fill-opacity="0.65"/>
<rect x="121.3" y="53.9" width="1.0" height="1.0" fill="#2a40e0" fill-opacity="0.65"/>
<rect x="122.1" y="65.4" width="1.0" height="1.0" fill="#2a40e0" fill-opacity="0.65"/>
<rect x="128.1" y="62.2" width="1.0" height="1.0" fill="#2a40e0" fill-opacity="0.65"/>
<rect x="113.6" y="64.1" width="1.0" height="1.0" fill="#2a40e0" fill-opacity="0.65"/>
<rect x="125.4" y="63.1" width="1.0" height="1.0" fill="#2a40e0" fill-opacity="0.65"/>
<rect x="109.7" y="66.0" width="1.0" height="1.0" fill="#2a40e0" fill-opacity="0.65"/>
<rect x="114.4" y="58.8" width="1.0" height="1.0" fill="#2a40e0" fill-opacity="0.65"/>
<rect x="109.8" y="55.0" width="1.0" height="1.0" fill="#2a40e0" fill-opacity="0.65"/>
<rect x="124.8" y="58.1" width="1.0" height="1.0" fill="#2a40e0" fill-opacity="0.65"/>
<rect x="118.8" y="56.6" width="1.0" height="1.0" fill="#2a40e0" fill-opacity="0.65"/>
<rect x="125.7" y="66.0" width="1.0" height="1.0" fill="#2a40e0" fill-opacity="0.65"/>
<rect x="124.0" y="55.1" width="1.0" height="1.0" fill="#2a40e0" fill-opacity="0.65"/>
<rect x="120.6" y="58.1" width="1.0" height="1.0" fill="#2a40e0" fill-opacity="0.65"/>
<rect x="115.9" y="50.7" width="1.0" height="1.0" fill="#2a40e0" fill-opacity="0.65"/>
<rect x="127.4" y="58.7" width="1.0" height="1.0" fill="#2a40e0" fill-opacity="0.65"/>
<rect x="117.7" y="57.9" width="1.0" height="1.0" fill="#2a40e0" fill-opacity="0.65"/>
<rect x="117.3" y="59.7" width="1.0" height="1.0" fill="#2a40e0" fill-opacity="0.65"/>
<rect x="113.7" y="50.7" width="1.0" height="1.0" fill="#2a40e0" fill-opacity="0.65"/>
<rect x="120.1" y="63.3" width="1.0" height="1.0" fill="#2a40e0" fill-opacity="0.65"/>
<rect x="124.0" y="59.3" width="1.0" height="1.0" fill="#2a40e0" fill-opacity="0.65"/>
<rect x="122.3" y="51.1" width="1.0" height="1.0" fill="#2a40e0" fill-opacity="0.65"/>
<rect x="123.3" y="54.3" width="1.0" height="1.0" fill="#2a40e0" fill-opacity="0.65"/>
<rect x="118.6" y="61.7" width="1.0" height="1.0" fill="#2a40e0" fill-opacity="0.65"/>
<rect x="116.2" y="68.0" width="1.0" height="1.0" fill="#2a40e0" fill-opacity="0.65"/>
<rect x="119.2" y="59.2" width="1.0" height="1.0" fill="#2a40e0" fill-opacity="0.65"/>
<rect x="124.0" y="64.0" width="1.0" height="1.0" fill="#2a40e0" fill-opacity="0.65"/>
<rect x="123.4" y="52.1" width="1.0" height="1.0" fill="#2a40e0" fill-opacity="0.65"/>
<rect x="115.4" y="58.9" width="1.0" height="1.0" fill="#2a40e0" fill-opacity="0.65"/>
<rect x="116.7" y="58.4" width="1.0" height="1.0" fill="#2a40e0" fill-opacity="0.65"/>
<rect x="114.5" y="47.7" width="1.0" height="1.0" fill="#2a40e0" fill-opacity="0.65"/>
<rect x="114.4" y="58.9" width="1.0" height="1.0" fill="#2a40e0" fill-opacity="0.65"/>
<rect x="121.6" y="62.2" width="1.0" height="1.0" fill="#2a40e0" fill-opacity="0.65"/>
<rect x="127.8" y="50.3" width="1.0" height="1.0" fill="#2a40e0" fill-opacity="0.65"/>
<rect x="123.4" y="48.5" width="1.0" height="1.0" fill="#2a40e0" fill-opacity="0.65"/>
<rect x="123.1" y="56.3" width="1.0" height="1.0" fill="#2a40e0" fill-opacity="0.65"/>
<rect x="114.0" y="51.6" width="1.0" height="1.0" fill="#2a40e0" fill-opacity="0.65"/>
<rect x="113.7" y="62.9" width="1.0" height="1.0" fill="#2a40e0" fill-opacity="0.65"/>
<rect x="123.3" y="57.1" width="1.0" height="1.0" fill="#2a40e0" fill-opacity="0.65"/>
<rect x="121.6" y="60.2" width="1.0" height="1.0" fill="#2a40e0" fill-opacity="0.65"/>
<rect x="117.7" y="55.3" width="1.0" height="1.0" fill="#2a40e0" fill-opacity="0.65"/>
<rect x="119.6" y="63.8" width="1.0" height="1.0" fill="#2a40e0" fill-opacity="0.65"/>
<rect x="125.0" y="63.8" width="1.0" height="1.0" fill="#2a40e0" fill-opacity="0.65"/>
<rect x="116.9" y="58.4" width="1.0" height="1.0" fill="#2a40e0" fill-opacity="0.65"/>
<rect x="122.9" y="59.0" width="1.0" height="1.0" fill="#2a40e0" fill-opacity="0.65"/>
<rect x="120.8" y="46.8" width="1.0" height="1.0" fill="#2a40e0" fill-opacity="0.65"/>
<rect x="114.6" y="51.3" width="1.0" height="1.0" fill="#2a40e0" fill-opacity="0.65"/>
<rect x="113.4" y="69.0" width="1.0" height="1.0" fill="#2a40e0" fill-opacity="0.65"/>
<rect x="114.8" y="63.8" width="1.0" height="1.0" fill="#2a40e0" fill-opacity="0.65"/>
<rect x="112.4" y="67.5" width="1.0" height="1.0" fill="#2a40e0" fill-opacity="0.65"/>
<rect x="113.6" y="61.1" width="1.0" height="1.0" fill="#2a40e0" fill-opacity="0.65"/>
<rect x="120.8" y="54.9" width="1.0" height="1.0" fill="#2a40e0" fill-opacity="0.65"/>
<rect x="123.5" y="58.7" width="1.0" height="1.0" fill="#2a40e0" fill-opacity="0.65"/>
<rect x="121.8" y="66.5" width="1.0" height="1.0" fill="#2a40e0" fill-opacity="0.65"/>
<rect x="119.7" y="56.6" width="1.0" height="1.0" fill="#2a40e0" fill-opacity="0.65"/>
<rect x="110.4" y="58.0" width="1.0" height="1.0" fill="#2a40e0" fill-opacity="0.65"/>
<rect x="116.6" y="69.6" width="1.0" height="1.0" fill="#2a40e0" fill-opacity="0.65"/>
<rect x="114.5" y="67.7" width="1.0" height="1.0" fill="#2a40e0" fill-opacity="0.65"/>
<rect x="117.3" y="65.0" width="1.0" height="1.0" fill="#2a40e0" fill-opacity="0.65"/>
<rect x="126.2" y="51.7" width="1.0" height="1.0" fill="#2a40e0" fill-opacity="0.65"/>
<rect x="120.3" y="72.1" width="1.0" height="1.0" fill="#2a40e0" fill-opacity="0.65"/>
<rect x="125.1" y="52.3" width="1.0" height="1.0" fill="#2a40e0" fill-opacity="0.65"/>
<rect x="126.9" y="53.1" width="1.0" height="1.0" fill="#2a40e0" fill-opacity="0.65"/>
<rect x="112.4" y="54.4" width="1.0" height="1.0" fill="#2a40e0" fill-opacity="0.65"/>
<rect x="117.1" y="57.3" width="1.0" height="1.0" fill="#2a40e0" fill-opacity="0.65"/>
<rect x="114.1" y="59.9" width="1.0" height="1.0" fill="#2a40e0" fill-opacity="0.65"/>
<rect x="118.9" y="58.7" width="1.0" height="1.0" fill="#2a40e0" fill-opacity="0.65"/>
<rect x="123.2" y="56.1" width="1.0" height="1.0" fill="#2a40e0" fill-opacity="0.65"/>
<rect x="116.8" y="56.5" width="1.0" height="1.0" fill="#2a40e0" fill-opacity="0.65"/>
<rect x="129.2" y="58.2" width="1.0" height="1.0" fill="#2a40e0" fill-opacity="0.65"/>
<rect x="121.2" y="49.4" width="1.0" height="1.0" fill="#2a40e0" fill-opacity="0.65"/>
<rect x="119.3" y="55.6" width="1.0" height="1.0" fill="#2a40e0" fill-opacity="0.65"/>
<rect x="121.4" y="57.6" width="1.0" height="1.0" fill="#2a40e0" fill-opacity="0.65"/>
<rect x="114.9" y="55.5" width="1.0" height="1.0" fill="#2a40e0" fill-opacity="0.65"/>
<rect x="122.5" y="58.4" width="1.0" height="1.0" fill="#2a40e0" fill-opacity="0.65"/>
<rect x="116.0" y="66.2" width="1.0" height="1.0" fill="#2a40e0" fill-opacity="0.65"/>
<rect x="120.0" y="55.7" width="1.0" height="1.0" fill="#2a40e0" fill-opacity="0.65"/>
<rect x="126.1" y="62.8" width="1.0" height="1.0" fill="#2a40e0" fill-opacity="0.65"/>
<rect x="115.4" y="63.4" width="1.0" height="1.0" fill="#2a40e0" fill-opacity="0.65"/>
<rect x="129.9" y="48.1" width="1.0" height="1.0" fill="#2a40e0" fill-opacity="0.65"/>
<rect x="111.6" y="61.1" width="1.0" height="1.0" fill="#2a40e0" fill-opacity="0.65"/>
<rect x="109.8" y="58.5" width="1.0" height="1.0" fill="#2a40e0" fill-opacity="0.65"/>
<rect x="118.4" y="55.4" width="1.0" height="1.0" fill="#2a40e0" fill-opacity="0.65"/>
<rect x="109.2" y="67.9" width="1.0" height="1.0" fill="#2a40e0" fill-opacity="0.65"/>
<rect x="114.0" y="61.5" width="1.0" height="1.0" fill="#2a40e0" fill-opacity="0.65"/>
<rect x="114.5" y="68.8" width="1.0" height="1.0" fill="#2a40e0" fill-opacity="0.65"/>
<rect x="107.1" y="57.1" width="1.0" height="1.0" fill="#2a40e0" fill-opacity="0.65"/>
<rect x="114.9" y="56.2" width="1.0" height="1.0" fill="#2a40e0" fill-opacity="0.65"/>
<rect x="114.8" y="51.9" width="1.0" height="1.0" fill="#2a40e0" fill-opacity="0.65"/>
<rect x="128.4" y="56.6" width="1.0" height="1.0" fill="#2a40e0" fill-opacity="0.65"/>
<rect x="121.0" y="52.8" width="1.0" height="1.0" fill="#2a40e0" fill-opacity="0.65"/>
<rect x="122.9" y="51.0" width="1.0" height="1.0" fill="#2a40e0" fill-opacity="0.65"/>
<rect x="118.3" y="52.5" width="1.0" height="1.0" fill="#2a40e0" fill-opacity="0.65"/>
<rect x="119.8" y="63.6" width="1.0" height="1.0" fill="#2a40e0" fill-opacity="0.65"/>
<rect x="122.9" y="51.6" width="1.0" height="1.0" fill="#2a40e0" fill-opacity="0.65"/>
<rect x="117.5" y="61.8" width="1.0" height="1.0" fill="#2a40e0" fill-opacity="0.65"/>
<rect x="109.8" y="56.2" width="1.0" height="1.0" fill="#2a40e0" fill-opacity="0.65"/>
<rect x="129.8" y="53.9" width="1.0" height="1.0" fill="#2a40e0" fill-opacity="0.65"/>
<rect x="124.0" y="55.6" width="1.0" height="1.0" fill="#2a40e0" fill-opacity="0.65"/>
<rect x="121.8" y="59.0" width="1.0" height="1.0" fill="#2a40e0" fill-opacity="0.65"/>
<rect x="126.5" y="58.1" width="1.0" height="1.0" fill="#2a40e0" fill-opacity="0.65"/>
<rect x="122.5" y="53.5" width="1.0" height="1.0" fill="#2a40e0" fill-opacity="0.65"/>
<rect x="112.3" y="65.3" width="1.0" height="1.0" fill="#2a40e0" fill-opacity="0.65"/>
<rect x="120.9" y="61.1" width="1.0" height="1.0" fill="#2a40e0" fill-opacity="0.65"/>
<rect x="115.0" y="66.0" width="1.0" height="1.0" fill="#2a40e0" fill-opacity="0.65"/>
<rect x="118.9" y="57.3" width="1.0" height="1.0" fill="#2a40e0" fill-opacity="0.65"/>
<rect x="116.1" y="62.3" width="1.0" height="1.0" fill="#2a40e0" fill-opacity="0.65"/>
<rect x="123.8" y="50.1" width="1.0" height="1.0" fill="#2a40e0" fill-opacity="0.65"/>
<rect x="123.7" y="57.9" width="1.0" height="1.0" fill="#2a40e0" fill-opacity="0.65"/>
<rect x="118.3" y="65.5" width="1.0" height="1.0" fill="#2a40e0" fill-opacity="0.65"/>
<rect x="119.0" y="58.8" width="1.0" height="1.0" fill="#2a40e0" fill-opacity="0.65"/>
<rect x="119.4" y="70.2" width="1.0" height="1.0" fill="#2a40e0" fill-opacity="0.65"/>
<rect x="114.4" y="54.2" width="1.0" height="1.0" fill="#2a40e0" fill-opacity="0.65"/>
<rect x="120.9" y="55.1" width="1.0" height="1.0" fill="#2a40e0" fill-opacity="0.65"/>
<rect x="125.7" y="62.0" width="1.0" height="1.0" fill="#2a40e0" fill-opacity="0.65"/>
<rect x="108.9" y="67.6" width="1.0" height="1.0" fill="#2a40e0" fill-opacity="0.65"/>
<rect x="112.5" y="56.0" width="1.0" height="1.0" fill="#2a40e0" fill-opacity="0.65"/>
<rect x="125.8" y="59.9" width="1.0" height="1.0" fill="#2a40e0" fill-opacity="0.65"/>
<rect x="122.2" y="58.6" width="1.0" height="1.0" fill="#2a40e0" fill-opacity="0.65"/>
<rect x="120.7" y="49.3" width="1.0" height="1.0" fill="#2a40e0" fill-opacity="0.65"/>
<rect x="115.6" y="67.6" width="1.0" height="1.0" fill="#2a40e0" fill-opacity="0.65"/>
<rect x="118.3" y="53.1" width="1.0" height="1.0" fill="#2a40e0" fill-opacity="0.65"/>
<rect x="111.8" y="58.4" width="1.0" height="1.0" fill="#2a40e0" fill-opacity="0.65"/>
<rect x="119.5" y="57.2" width="1.0" height="1.0" fill="#2a40e0" fill-opacity="0.65"/>
<rect x="119.4" y="55.2" width="1.0" height="1.0" fill="#2a40e0" fill-opacity="0.65"/>
<rect x="118.8" y="52.0" width="1.0" height="1.0" fill="#2a40e0" fill-opacity="0.65"/>
<rect x="115.3" y="60.7" width="1.0" height="1.0" fill="#2a40e0" fill-opacity="0.65"/>
<rect x="116.8" y="54.9" width="1.0" height="1.0" fill="#2a40e0" fill-opacity="0.65"/>
<rect x="113.9" y="65.0" width="1.0" height="1.0" fill="#2a40e0" fill-opacity="0.65"/>
<rect x="112.5" y="66.0" width="1.0" height="1.0" fill="#2a40e0" fill-opacity="0.65"/>
<rect x="124.0" y="57.8" width="1.0" height="1.0" fill="#2a40e0" fill-opacity="0.65"/>
<rect x="117.4" y="57.7" width="1.0" height="1.0" fill="#2a40e0" fill-opacity="0.65"/>
<rect x="107.4" y="63.5" width="1.0" height="1.0" fill="#2a40e0" fill-opacity="0.65"/>
<rect x="111.0" y="59.5" width="1.0" height="1.0" fill="#2a40e0" fill-opacity="0.65"/>
<rect x="118.4" y="57.9" width="1.0" height="1.0" fill="#2a40e0" fill-opacity="0.65"/>
<rect x="131.1" y="54.8" width="1.0" height="1.0" fill="#2a40e0" fill-opacity="0.65"/>
<rect x="126.6" y="55.5" width="1.0" height="1.0" fill="#2a40e0" fill-opacity="0.65"/>
<rect x="120.7" y="52.7" width="1.0" height="1.0" fill="#2a40e0" fill-opacity="0.65"/>
<rect x="113.8" y="70.7" width="1.0" height="1.0" fill="#2a40e0" fill-opacity="0.65"/>
<rect x="115.0" y="56.0" width="1.0" height="1.0" fill="#2a40e0" fill-opacity="0.65"/>
<rect x="124.5" y="59.0" width="1.0" height="1.0" fill="#2a40e0" fill-opacity="0.65"/>
<rect x="119.7" y="55.5" width="1.0" height="1.0" fill="#2a40e0" fill-opacity="0.65"/>
<rect x="123.4" y="58.6" width="1.0" height="1.0" fill="#2a40e0" fill-opacity="0.65"/>
<rect x="120.0" y="61.6" width="1.0" height="1.0" fill="#2a40e0" fill-opacity="0.65"/>
<rect x="126.3" y="48.7" width="1.0" height="1.0" fill="#2a40e0" fill-opacity="0.65"/>
<rect x="126.9" y="51.8" width="1.0" height="1.0" fill="#2a40e0" fill-opacity="0.65"/>
<rect x="115.3" y="56.2" width="1.0" height="1.0" fill="#2a40e0" fill-opacity="0.65"/>
<rect x="114.3" y="63.6" width="1.0" height="1.0" fill="#2a40e0" fill-opacity="0.65"/>
<rect x="132.0" y="50.9" width="1.0" height="1.0" fill="#2a40e0" fill-opacity="0.65"/>
<rect x="129.5" y="73.0" width="1.0" height="1.0" fill="#2a40e0" fill-opacity="0.65"/>
<rect x="126.8" y="54.3" width="1.0" height="1.0" fill="#2a40e0" fill-opacity="0.65"/>
<rect x="128.2" y="48.9" width="1.0" height="1.0" fill="#2a40e0" fill-opacity="0.65"/>
<rect x="111.5" y="60.8" width="1.0" height="1.0" fill="#2a40e0" fill-opacity="0.65"/>
<rect x="123.8" y="60.1" width="1.0" height="1.0" fill="#2a40e0" fill-opacity="0.65"/>
<rect x="112.2" y="55.9" width="1.0" height="1.0" fill="#2a40e0" fill-opacity="0.65"/>
<rect x="118.9" y="53.7" width="1.0" height="1.0" fill="#2a40e0" fill-opacity="0.65"/>
<rect x="121.7" y="58.0" width="1.0" height="1.0" fill="#2a40e0" fill-opacity="0.65"/>
<rect x="124.3" y="45.1" width="1.0" height="1.0" fill="#2a40e0" fill-opacity="0.65"/>
<rect x="126.7" y="59.9" width="1.0" height="1.0" fill="#2a40e0" fill-opacity="0.65"/>
<rect x="122.5" y="61.8" width="1.0" height="1.0" fill="#2a40e0" fill-opacity="0.65"/>
<rect x="122.5" y="51.2" width="1.0" height="1.0" fill="#2a40e0" fill-opacity="0.65"/>
<rect x="116.1" y="58.6" width="1.0" height="1.0" fill="#2a40e0" fill-opacity="0.65"/>
<rect x="113.2" y="56.9" width="1.0" height="1.0" fill="#2a40e0" fill-opacity="0.65"/>
<rect x="125.0" y="43.0" width="1.0" height="1.0" fill="#2a40e0" fill-opacity="0.65"/>
<rect x="116.7" y="64.2" width="1.0" height="1.0" fill="#2a40e0" fill-opacity="0.65"/>
<rect x="118.8" y="63.0" width="1.0" height="1.0" fill="#2a40e0" fill-opacity="0.65"/>
<rect x="120.4" y="59.4" width="1.0" height="1.0" fill="#2a40e0" fill-opacity="0.65"/>
<rect x="115.0" y="65.0" width="1.0" height="1.0" fill="#2a40e0" fill-opacity="0.65"/>
<rect x="107.6" y="68.2" width="1.0" height="1.0" fill="#2a40e0" fill-opacity="0.65"/>
<rect x="125.1" y="54.1" width="1.0" height="1.0" fill="#2a40e0" fill-opacity="0.65"/>
<rect x="110.8" y="58.7" width="1.0" height="1.0" fill="#2a40e0" fill-opacity="0.65"/>
<rect x="116.6" y="61.5" width="1.0" height="1.0" fill="#2a40e0" fill-opacity="0.65"/>
<rect x="122.0" y="64.7" width="1.0" height="1.0" fill="#2a40e0" fill-opacity="0.65"/>
<g transform="translate(120,57.6) rotate(-50)"><ellipse rx="12" ry="5.6" fill="#3050e8" fill-opacity="0.85"/><ellipse rx="10.3" ry="4.7" fill="#12a8f0"/><ellipse rx="9" ry="4.1" fill="#20d0a0"/><ellipse rx="7.6" ry="3.5" fill="#38e048"/><ellipse rx="5" ry="2.4" fill="#a8e828"/><ellipse rx="3.2" ry="1.7" fill="#f0e020"/><ellipse rx="1.4" ry="0.9" fill="#f08818"/></g>
</g>
<rect x="53" y="12.3" width="107.5" height="102.7" fill="none" stroke="#a0a0a0" stroke-width="1"/>
<rect x="53.8" y="21" width="63.4" height="16.8" fill="none" stroke="#000" stroke-width="1.7"/>
<rect x="107.2" y="44.6" width="28.4" height="30" fill="none" stroke="#000" stroke-width="1.7"/>
<text x="46.6" y="24.3" style="font-family:'Liberation Sans',sans-serif;font-size:5.8px" fill="#333" text-anchor="end" >10</text>
<text x="47.6" y="21.5" style="font-family:'Liberation Sans',sans-serif;font-size:4.2px" fill="#333" text-anchor="start" >5</text>
<line x1="51.5" y1="22.2" x2="53" y2="22.2" stroke="#666" stroke-width="0.8" />
<text x="46.6" y="47.800000000000004" style="font-family:'Liberation Sans',sans-serif;font-size:5.8px" fill="#333" text-anchor="end" >10</text>
<text x="47.6" y="45.0" style="font-family:'Liberation Sans',sans-serif;font-size:4.2px" fill="#333" text-anchor="start" >4</text>
<line x1="51.5" y1="45.7" x2="53" y2="45.7" stroke="#666" stroke-width="0.8" />
<text x="46.6" y="71.3" style="font-family:'Liberation Sans',sans-serif;font-size:5.8px" fill="#333" text-anchor="end" >10</text>
<text x="47.6" y="68.5" style="font-family:'Liberation Sans',sans-serif;font-size:4.2px" fill="#333" text-anchor="start" >3</text>
<line x1="51.5" y1="69.2" x2="53" y2="69.2" stroke="#666" stroke-width="0.8" />
<text x="46.6" y="96.1" style="font-family:'Liberation Sans',sans-serif;font-size:5.8px" fill="#333" text-anchor="end" >10</text>
<text x="47.6" y="93.3" style="font-family:'Liberation Sans',sans-serif;font-size:4.2px" fill="#333" text-anchor="start" >2</text>
<line x1="51.5" y1="94" x2="53" y2="94" stroke="#666" stroke-width="0.8" />
<text x="49" y="106.7" style="font-family:'Liberation Sans',sans-serif;font-size:5.8px" fill="#333" text-anchor="end" >0</text>
<line x1="51.5" y1="100" x2="53" y2="100" stroke="#666" stroke-width="0.8" />
<line x1="51.5" y1="101.5" x2="53" y2="101.5" stroke="#666" stroke-width="0.8" />
<line x1="51.5" y1="103" x2="53" y2="103" stroke="#666" stroke-width="0.8" />
<line x1="51.5" y1="104.5" x2="53" y2="104.5" stroke="#666" stroke-width="0.8" />
<line x1="51.5" y1="106" x2="53" y2="106" stroke="#666" stroke-width="0.8" />
<line x1="51.5" y1="107.5" x2="53" y2="107.5" stroke="#666" stroke-width="0.8" />
<line x1="51.5" y1="109" x2="53" y2="109" stroke="#666" stroke-width="0.8" />
<text x="77" y="128.2" style="font-family:'Liberation Sans',sans-serif;font-size:5.8px" fill="#333" text-anchor="middle" >10</text>
<text x="80.4" y="123.8" style="font-family:'Liberation Sans',sans-serif;font-size:4.2px" fill="#333" text-anchor="start" >2</text>
<line x1="77" y1="115" x2="77" y2="116.5" stroke="#666" stroke-width="0.8" />
<text x="103" y="128.2" style="font-family:'Liberation Sans',sans-serif;font-size:5.8px" fill="#333" text-anchor="middle" >10</text>
<text x="106.4" y="123.8" style="font-family:'Liberation Sans',sans-serif;font-size:4.2px" fill="#333" text-anchor="start" >3</text>
<line x1="103" y1="115" x2="103" y2="116.5" stroke="#666" stroke-width="0.8" />
<text x="128" y="128.2" style="font-family:'Liberation Sans',sans-serif;font-size:5.8px" fill="#333" text-anchor="middle" >10</text>
<text x="131.4" y="123.8" style="font-family:'Liberation Sans',sans-serif;font-size:4.2px" fill="#333" text-anchor="start" >4</text>
<line x1="128" y1="115" x2="128" y2="116.5" stroke="#666" stroke-width="0.8" />
<text x="152" y="128.2" style="font-family:'Liberation Sans',sans-serif;font-size:5.8px" fill="#333" text-anchor="middle" >10</text>
<text x="155.4" y="123.8" style="font-family:'Liberation Sans',sans-serif;font-size:4.2px" fill="#333" text-anchor="start" >5</text>
<line x1="152" y1="115" x2="152" y2="116.5" stroke="#666" stroke-width="0.8" />
<text x="61.5" y="128.2" style="font-family:'Liberation Sans',sans-serif;font-size:5.8px" fill="#333" text-anchor="middle" >0</text>
<line x1="70" y1="115" x2="70" y2="116.3" stroke="#777" stroke-width="0.7" />
<line x1="73" y1="115" x2="73" y2="116.3" stroke="#777" stroke-width="0.7" />
<line x1="75" y1="115" x2="75" y2="116.3" stroke="#777" stroke-width="0.7" />
<line x1="83" y1="115" x2="83" y2="116.3" stroke="#777" stroke-width="0.7" />
<line x1="88" y1="115" x2="88" y2="116.3" stroke="#777" stroke-width="0.7" />
<line x1="92" y1="115" x2="92" y2="116.3" stroke="#777" stroke-width="0.7" />
<line x1="95" y1="115" x2="95" y2="116.3" stroke="#777" stroke-width="0.7" />
<line x1="97" y1="115" x2="97" y2="116.3" stroke="#777" stroke-width="0.7" />
<line x1="99" y1="115" x2="99" y2="116.3" stroke="#777" stroke-width="0.7" />
<line x1="101" y1="115" x2="101" y2="116.3" stroke="#777" stroke-width="0.7" />
<line x1="108" y1="115" x2="108" y2="116.3" stroke="#777" stroke-width="0.7" />
<line x1="113" y1="115" x2="113" y2="116.3" stroke="#777" stroke-width="0.7" />
<line x1="117" y1="115" x2="117" y2="116.3" stroke="#777" stroke-width="0.7" />
<line x1="120" y1="115" x2="120" y2="116.3" stroke="#777" stroke-width="0.7" />
<line x1="122" y1="115" x2="122" y2="116.3" stroke="#777" stroke-width="0.7" />
<line x1="124" y1="115" x2="124" y2="116.3" stroke="#777" stroke-width="0.7" />
<line x1="126" y1="115" x2="126" y2="116.3" stroke="#777" stroke-width="0.7" />
<line x1="133" y1="115" x2="133" y2="116.3" stroke="#777" stroke-width="0.7" />
<line x1="138" y1="115" x2="138" y2="116.3" stroke="#777" stroke-width="0.7" />
<line x1="142" y1="115" x2="142" y2="116.3" stroke="#777" stroke-width="0.7" />
<line x1="145" y1="115" x2="145" y2="116.3" stroke="#777" stroke-width="0.7" />
<line x1="147" y1="115" x2="147" y2="116.3" stroke="#777" stroke-width="0.7" />
<line x1="149" y1="115" x2="149" y2="116.3" stroke="#777" stroke-width="0.7" />
<line x1="151" y1="115" x2="151" y2="116.3" stroke="#777" stroke-width="0.7" />
<line x1="158" y1="115" x2="158" y2="116.3" stroke="#777" stroke-width="0.7" />
<line x1="58" y1="115" x2="58" y2="116.5" stroke="#666" stroke-width="0.8" />
<line x1="59.5" y1="115" x2="59.5" y2="116.5" stroke="#666" stroke-width="0.8" />
<line x1="61" y1="115" x2="61" y2="116.5" stroke="#666" stroke-width="0.8" />
<line x1="62.5" y1="115" x2="62.5" y2="116.5" stroke="#666" stroke-width="0.8" />
<line x1="64" y1="115" x2="64" y2="116.5" stroke="#666" stroke-width="0.8" />
<line x1="65.5" y1="115" x2="65.5" y2="116.5" stroke="#666" stroke-width="0.8" />
<line x1="37.1" y1="132" x2="37.1" y2="18.5" stroke="#000" stroke-width="2.2" />
<path d="M37.1,13.6 L40.3,19.6 L37.1,18.4 L33.9,19.6" fill="#000" stroke="none" stroke-width="1" />
<line x1="36" y1="131.8" x2="158.5" y2="131.8" stroke="#000" stroke-width="2.3" />
<path d="M163.6,131.8 L157.6,128.8 L158.8,131.8 L157.6,134.8" fill="#000" stroke="none" stroke-width="1" />
<text x="0" y="0" style="font-family:'Liberation Serif',serif;font-weight:bold;font-size:12px" fill="#000" text-anchor="start" transform="translate(33.6,93.6) rotate(-90)">CD45<tspan dx='1.5' dy='-4.3' style='font-size:8.5px'>+</tspan></text>
<text x="67" y="142.5" style="font-family:'Liberation Serif',serif;font-weight:bold;font-size:12.8px" fill="#000" text-anchor="start" >CD11b<tspan dx='0.4' dy='-3.5' style='font-size:9.5px'>+</tspan></text>
<line x1="135.6" y1="44.2" x2="235.5" y2="44.2" stroke="#000" stroke-width="2.2" />
<path d="M230.2,40.3 L236,44.2 L230.2,48.1" fill="none" stroke="#000" stroke-width="2.1" />
<text x="163.4" y="38" style="font-family:'Liberation Serif',serif;font-weight:bold;font-size:9.15px" fill="#000" text-anchor="start" >CD45<tspan dy='-3.4' style='font-size:5.8px'>(int)</tspan><tspan dy='3.4'>CD11b</tspan><tspan dx='0.4' dy='-3.6' style='font-size:6px'>+</tspan></text>
<rect x="266" y="11.5" width="100.5" height="89.5" fill="none" stroke="#999" stroke-width="1"/>
<path d="M276,100.6 L279,100.2 L281.5,99.2 L284.5,97.8 L287.5,96 L290.3,93.5 L292.6,90.5 L294.5,87 L296.3,83 L298,79 L299.5,75.5 L301,71 L302.5,65 L303.8,59 L304.8,53 L305.7,48 L306.8,43 L308,38.5 L309.3,34.5 L310.3,33.2 L311.4,34.3 L312.6,38 L313.6,44 L314.4,50 L315,56 L315.8,62.3 L316.8,70 L317.6,75 L318.5,84 L319.3,90 L320.2,96 L321.3,99.5 L323,100.6 L276,100.6" fill="#5c5c5c" stroke="none" stroke-width="1" />
<path d="M298,100.4 L301,100.2 L306,98 L310,95 L314.6,89.5 L318.4,83.4 L322,78 L326,73.4 L329.8,64.2 L331.3,60 L332.9,55 L334.4,48.3 L336.7,38.4 L338.2,30 L339.8,24.6 L342,22.3 L344.4,26 L346.7,33.8 L348.2,41.4 L349.7,50 L350.5,57.5 L350.9,62.7 L352.8,71.9 L355.1,79.5 L358.2,88 L362,94 L365,97.2 L366.2,99" fill="none" stroke="#1a1ea4" stroke-width="3" stroke-dasharray="3.4 2.2" stroke-linejoin="round"/>
<path d="M266.6,14.8 L266.6,100.5 L268,99.4 L272,100 L280,99.8 L290,99.5 L296,99 L301.6,98 L305,95 L308.5,90.3 L311,85 L313,78 L316,66.5 L319.2,59.6 L321,54 L323,46 L324.4,49 L327.5,38.4 L329.8,31.5 L331.3,33.8 L333,28 L334.7,23 L336,30 L337.5,27.6 L339,31.5 L340.5,36 L342.8,42.2 L344.4,50 L345.5,57 L347.4,65.7 L349,73 L350.5,79.5 L353.6,84 L356.6,91.8 L360.5,96.4 L364.3,98 L366,96.4 L366,100.5" fill="none" stroke="#b81418" stroke-width="1.8" stroke-linejoin="round"/>
<text x="262.2" y="17.9" style="font-family:'Liberation Sans',sans-serif;font-size:5.3px" fill="#333" text-anchor="end" >100</text>
<line x1="262.8" y1="16.0" x2="266" y2="16.0" stroke="#444" stroke-width="0.9" />
<text x="262.2" y="34.779999999999994" style="font-family:'Liberation Sans',sans-serif;font-size:5.3px" fill="#333" text-anchor="end" >80</text>
<line x1="262.8" y1="32.879999999999995" x2="266" y2="32.879999999999995" stroke="#444" stroke-width="0.9" />
<text x="262.2" y="51.66" style="font-family:'Liberation Sans',sans-serif;font-size:5.3px" fill="#333" text-anchor="end" >60</text>
<line x1="262.8" y1="49.76" x2="266" y2="49.76" stroke="#444" stroke-width="0.9" />
<text x="262.2" y="68.54" style="font-family:'Liberation Sans',sans-serif;font-size:5.3px" fill="#333" text-anchor="end" >40</text>
<line x1="262.8" y1="66.64" x2="266" y2="66.64" stroke="#444" stroke-width="0.9" />
<text x="262.2" y="85.42" style="font-family:'Liberation Sans',sans-serif;font-size:5.3px" fill="#333" text-anchor="end" >20</text>
<line x1="262.8" y1="83.52" x2="266" y2="83.52" stroke="#444" stroke-width="0.9" />
<text x="262.2" y="102.3" style="font-family:'Liberation Sans',sans-serif;font-size:5.3px" fill="#333" text-anchor="end" >0</text>
<line x1="262.8" y1="100.39999999999999" x2="266" y2="100.39999999999999" stroke="#444" stroke-width="0.9" />
<text x="271.8" y="113.6" style="font-family:'Liberation Sans',sans-serif;font-size:5.4px" fill="#333" text-anchor="middle" >10</text>
<text x="274.90000000000003" y="110.2" style="font-family:'Liberation Sans',sans-serif;font-size:4px" fill="#333" text-anchor="start" >0</text>
<line x1="272.6" y1="101" x2="272.6" y2="102.5" stroke="#555" stroke-width="0.8" />
<text x="286.2" y="113.6" style="font-family:'Liberation Sans',sans-serif;font-size:5.4px" fill="#333" text-anchor="middle" >10</text>
<text x="289.3" y="110.2" style="font-family:'Liberation Sans',sans-serif;font-size:4px" fill="#333" text-anchor="start" >1</text>
<line x1="287" y1="101" x2="287" y2="102.5" stroke="#555" stroke-width="0.8" />
<text x="303.5" y="113.6" style="font-family:'Liberation Sans',sans-serif;font-size:5.4px" fill="#333" text-anchor="middle" >10</text>
<text x="306.6" y="110.2" style="font-family:'Liberation Sans',sans-serif;font-size:4px" fill="#333" text-anchor="start" >2</text>
<line x1="304.3" y1="101" x2="304.3" y2="102.5" stroke="#555" stroke-width="0.8" />
<text x="322.5" y="113.6" style="font-family:'Liberation Sans',sans-serif;font-size:5.4px" fill="#333" text-anchor="middle" >10</text>
<text x="325.6" y="110.2" style="font-family:'Liberation Sans',sans-serif;font-size:4px" fill="#333" text-anchor="start" >3</text>
<line x1="323.3" y1="101" x2="323.3" y2="102.5" stroke="#555" stroke-width="0.8" />
<text x="340.5" y="113.6" style="font-family:'Liberation Sans',sans-serif;font-size:5.4px" fill="#333" text-anchor="middle" >10</text>
<text x="343.6" y="110.2" style="font-family:'Liberation Sans',sans-serif;font-size:4px" fill="#333" text-anchor="start" >4</text>
<line x1="341.3" y1="101" x2="341.3" y2="102.5" stroke="#555" stroke-width="0.8" />
<text x="358.9" y="113.6" style="font-family:'Liberation Sans',sans-serif;font-size:5.4px" fill="#333" text-anchor="middle" >10</text>
<text x="362.0" y="110.2" style="font-family:'Liberation Sans',sans-serif;font-size:4px" fill="#333" text-anchor="start" >5</text>
<line x1="359.7" y1="101" x2="359.7" y2="102.5" stroke="#555" stroke-width="0.8" />
<line x1="250.5" y1="118.4" x2="250.5" y2="25" stroke="#000" stroke-width="2.1" />
<path d="M246.6,32.6 L250.5,25.8 L254.4,32.6" fill="none" stroke="#000" stroke-width="2.1" />
<line x1="249.5" y1="117.6" x2="366" y2="117.6" stroke="#000" stroke-width="2.1" />
<path d="M359.2,114 L366.4,117.6 L359.2,121.4" fill="none" stroke="#000" stroke-width="2.1" />
<text x="0" y="0" style="font-family:'Liberation Serif',serif;font-weight:bold;font-size:14.4px" fill="#000" text-anchor="start" transform="translate(236.5,108.6) rotate(-90)" textLength="56" lengthAdjust="spacingAndGlyphs">% of Max</text>
<text x="276.5" y="133.2" style="font-family:'Liberation Serif',serif;font-weight:bold;font-size:12.8px" fill="#000" text-anchor="start" >MHC II<tspan dx='-0.3' dy='-3.6' style='font-size:9.2px'>+</tspan></text>
<line x1="455.20000000000005" y1="84.9" x2="455.20000000000005" y2="81.3" stroke="#000" stroke-width="1" />
<line x1="453.90000000000003" y1="81.3" x2="456.50000000000006" y2="81.3" stroke="#000" stroke-width="1" />
<rect x="446.3" y="84.9" width="17.80000000000001" height="54.69999999999999" fill="#000" stroke="#000" stroke-width="1"/>
<line x1="489.79999999999995" y1="38.4" x2="489.79999999999995" y2="31.3" stroke="#000" stroke-width="1" />
<line x1="488.49999999999994" y1="31.3" x2="491.09999999999997" y2="31.3" stroke="#000" stroke-width="1" />
<rect x="481.2" y="38.4" width="17.19999999999999" height="101.19999999999999" fill="#cdcdcd" stroke="#000" stroke-width="1"/>
<path d="M489.8,24.8 L490.56,26.55 L492.46,26.73 L491.04,28.0 L491.45,29.87 L489.8,28.9 L488.15,29.87 L488.56,28.0 L487.14,26.73 L489.04,26.55 L489.8,24.8" fill="#000" stroke="none" stroke-width="1" />
<path d="M434.7,11.9 L510.5,11.9 L510.5,139.6 L434.7,139.6 Z" fill="none" stroke="#000" stroke-width="1.5"/>
<line x1="430.2" y1="140.0" x2="434.7" y2="140.0" stroke="#000" stroke-width="1" />
<text x="427.0" y="142.808" style="font-family:'Liberation Sans',sans-serif;font-weight:bold;font-size:7.8px" fill="#000" text-anchor="end" >0</text>
<line x1="432.5" y1="134.892" x2="434.7" y2="134.892" stroke="#000" stroke-width="1" />
<line x1="432.5" y1="129.784" x2="434.7" y2="129.784" stroke="#000" stroke-width="1" />
<line x1="432.5" y1="124.676" x2="434.7" y2="124.676" stroke="#000" stroke-width="1" />
<line x1="432.5" y1="119.568" x2="434.7" y2="119.568" stroke="#000" stroke-width="1" />
<line x1="430.2" y1="114.46000000000001" x2="434.7" y2="114.46000000000001" stroke="#000" stroke-width="1" />
<text x="427.0" y="117.268" style="font-family:'Liberation Sans',sans-serif;font-weight:bold;font-size:7.8px" fill="#000" text-anchor="end" >5</text>
<line x1="432.5" y1="109.352" x2="434.7" y2="109.352" stroke="#000" stroke-width="1" />
<line x1="432.5" y1="104.244" x2="434.7" y2="104.244" stroke="#000" stroke-width="1" />
<line x1="432.5" y1="99.136" x2="434.7" y2="99.136" stroke="#000" stroke-width="1" />
<line x1="432.5" y1="94.028" x2="434.7" y2="94.028" stroke="#000" stroke-width="1" />
<line x1="430.2" y1="88.92" x2="434.7" y2="88.92" stroke="#000" stroke-width="1" />
<text x="427.0" y="91.72800000000001" style="font-family:'Liberation Sans',sans-serif;font-weight:bold;font-size:7.8px" fill="#000" text-anchor="end" >10</text>
<line x1="432.5" y1="83.81200000000001" x2="434.7" y2="83.81200000000001" stroke="#000" stroke-width="1" />
<line x1="432.5" y1="78.70400000000001" x2="434.7" y2="78.70400000000001" stroke="#000" stroke-width="1" />
<line x1="432.5" y1="73.596" x2="434.7" y2="73.596" stroke="#000" stroke-width="1" />
<line x1="432.5" y1="68.488" x2="434.7" y2="68.488" stroke="#000" stroke-width="1" />
<line x1="430.2" y1="63.38000000000001" x2="434.7" y2="63.38000000000001" stroke="#000" stroke-width="1" />
<text x="427.0" y="66.18800000000002" style="font-family:'Liberation Sans',sans-serif;font-weight:bold;font-size:7.8px" fill="#000" text-anchor="end" >15</text>
<line x1="432.5" y1="58.272000000000006" x2="434.7" y2="58.272000000000006" stroke="#000" stroke-width="1" />
<line x1="432.5" y1="53.164" x2="434.7" y2="53.164" stroke="#000" stroke-width="1" />
<line x1="432.5" y1="48.05600000000001" x2="434.7" y2="48.05600000000001" stroke="#000" stroke-width="1" />
<line x1="432.5" y1="42.94800000000001" x2="434.7" y2="42.94800000000001" stroke="#000" stroke-width="1" />
<line x1="430.2" y1="37.84" x2="434.7" y2="37.84" stroke="#000" stroke-width="1" />
<text x="427.0" y="40.648" style="font-family:'Liberation Sans',sans-serif;font-weight:bold;font-size:7.8px" fill="#000" text-anchor="end" >20</text>
<line x1="432.5" y1="32.73200000000001" x2="434.7" y2="32.73200000000001" stroke="#000" stroke-width="1" />
<line x1="432.5" y1="27.62400000000001" x2="434.7" y2="27.62400000000001" stroke="#000" stroke-width="1" />
<line x1="432.5" y1="22.516000000000005" x2="434.7" y2="22.516000000000005" stroke="#000" stroke-width="1" />
<line x1="432.5" y1="17.408000000000015" x2="434.7" y2="17.408000000000015" stroke="#000" stroke-width="1" />
<line x1="430.2" y1="12.300000000000011" x2="434.7" y2="12.300000000000011" stroke="#000" stroke-width="1" />
<text x="427.0" y="15.108000000000011" style="font-family:'Liberation Sans',sans-serif;font-weight:bold;font-size:7.8px" fill="#000" text-anchor="end" >25</text>
<rect x="435.8" y="13" width="27.599999999999966" height="16.8" fill="#fff" stroke="#aaa" stroke-width="0.8"/>
<rect x="438.3" y="16.272" width="12.0" height="3.2" rx="1.4" fill="#000"/>
<rect x="438.8" y="22.872" width="11.0" height="2.6" rx="1.2" fill="#bdbdbd" stroke="#000" stroke-width="0.9"/>
<text x="453.1" y="19.772" style="font-family:'Liberation Sans',sans-serif;font-weight:bold;font-size:5.4px" fill="#000" text-anchor="start" >Wt</text>
<text x="453.1" y="26.072" style="font-family:'Liberation Sans',sans-serif;font-weight:bold;font-size:5.4px" fill="#000" text-anchor="start" >Jh<tspan dy='-2' style='font-size:4px'>-/-</tspan></text>
<text x="0" y="0" style="font-family:'Liberation Sans',sans-serif;font-weight:bold;font-size:7.8px" fill="#000" text-anchor="start" transform="translate(406.3,128.3) rotate(-90)" textLength="115" lengthAdjust="spacingAndGlyphs">MFI for MHC class II expression</text>
<text x="0" y="0" style="font-family:'Liberation Sans',sans-serif;font-weight:bold;font-size:7.8px" fill="#000" text-anchor="start" transform="translate(414.2,109) rotate(-90)" textLength="82" lengthAdjust="spacingAndGlyphs">on microglia (x 10<tspan dy='-2.5' style='font-size:5.5px'>3</tspan><tspan dy='2.5'>)</tspan></text>
<line x1="328.8" y1="280" x2="328.8" y2="278.8" stroke="#000" stroke-width="1" />
<line x1="327.5" y1="278.8" x2="330.1" y2="278.8" stroke="#000" stroke-width="1" />
<rect x="321.6" y="280" width="14.399999999999977" height="25.80000000000001" fill="#000" stroke="#000" stroke-width="1"/>
<line x1="343.15" y1="260.6" x2="343.15" y2="256.2" stroke="#000" stroke-width="1" />
<line x1="341.84999999999997" y1="256.2" x2="344.45" y2="256.2" stroke="#000" stroke-width="1" />
<rect x="336.3" y="260.6" width="13.699999999999989" height="45.19999999999999" fill="#cdcdcd" stroke="#000" stroke-width="1"/>
<path d="M343.15,250.7 L343.91,252.45 L345.81,252.63 L344.39,253.9 L344.8,255.77 L343.15,254.8 L341.5,255.77 L341.91,253.9 L340.49,252.63 L342.39,252.45 L343.15,250.7" fill="#000" stroke="none" stroke-width="1" />
<line x1="365.05" y1="228" x2="365.05" y2="223.6" stroke="#000" stroke-width="1" />
<line x1="363.75" y1="223.6" x2="366.35" y2="223.6" stroke="#000" stroke-width="1" />
<rect x="357.5" y="228" width="15.100000000000023" height="77.80000000000001" fill="#000" stroke="#000" stroke-width="1"/>
<line x1="379.15" y1="190.7" x2="379.15" y2="186.4" stroke="#000" stroke-width="1" />
<line x1="377.84999999999997" y1="186.4" x2="380.45" y2="186.4" stroke="#000" stroke-width="1" />
<rect x="372.6" y="190.7" width="13.099999999999966" height="115.10000000000002" fill="#cdcdcd" stroke="#000" stroke-width="1"/>
<path d="M379.15,180.5 L379.91,182.25 L381.81,182.43 L380.39,183.7 L380.8,185.57 L379.15,184.6 L377.5,185.57 L377.91,183.7 L376.49,182.43 L378.39,182.25 L379.15,180.5" fill="#000" stroke="none" stroke-width="1" />
<path d="M314.4,174.2 L393.3,174.2 L393.3,305.8 L314.4,305.8 Z" fill="none" stroke="#000" stroke-width="1.5"/>
<line x1="309.9" y1="306.0" x2="314.4" y2="306.0" stroke="#000" stroke-width="1" />
<text x="305.0" y="309.096" style="font-family:'Liberation Sans',sans-serif;font-weight:bold;font-size:8.6px" fill="#000" text-anchor="end" >0</text>
<line x1="312.2" y1="301.61" x2="314.4" y2="301.61" stroke="#000" stroke-width="1" />
<line x1="312.2" y1="297.22" x2="314.4" y2="297.22" stroke="#000" stroke-width="1" />
<line x1="312.2" y1="292.83" x2="314.4" y2="292.83" stroke="#000" stroke-width="1" />
<line x1="312.2" y1="288.44" x2="314.4" y2="288.44" stroke="#000" stroke-width="1" />
<line x1="309.9" y1="284.05" x2="314.4" y2="284.05" stroke="#000" stroke-width="1" />
<text x="305.0" y="287.146" style="font-family:'Liberation Sans',sans-serif;font-weight:bold;font-size:8.6px" fill="#000" text-anchor="end" >5</text>
<line x1="312.2" y1="279.66" x2="314.4" y2="279.66" stroke="#000" stroke-width="1" />
<line x1="312.2" y1="275.27" x2="314.4" y2="275.27" stroke="#000" stroke-width="1" />
<line x1="312.2" y1="270.88" x2="314.4" y2="270.88" stroke="#000" stroke-width="1" />
<line x1="312.2" y1="266.49" x2="314.4" y2="266.49" stroke="#000" stroke-width="1" />
<line x1="309.9" y1="262.1" x2="314.4" y2="262.1" stroke="#000" stroke-width="1" />
<text x="305.0" y="265.196" style="font-family:'Liberation Sans',sans-serif;font-weight:bold;font-size:8.6px" fill="#000" text-anchor="end" >10</text>
<line x1="312.2" y1="257.71" x2="314.4" y2="257.71" stroke="#000" stroke-width="1" />
<line x1="312.2" y1="253.32" x2="314.4" y2="253.32" stroke="#000" stroke-width="1" />
<line x1="312.2" y1="248.93" x2="314.4" y2="248.93" stroke="#000" stroke-width="1" />
<line x1="312.2" y1="244.54000000000002" x2="314.4" y2="244.54000000000002" stroke="#000" stroke-width="1" />
<line x1="309.9" y1="240.15" x2="314.4" y2="240.15" stroke="#000" stroke-width="1" />
<text x="305.0" y="243.246" style="font-family:'Liberation Sans',sans-serif;font-weight:bold;font-size:8.6px" fill="#000" text-anchor="end" >15</text>
<line x1="312.2" y1="235.76" x2="314.4" y2="235.76" stroke="#000" stroke-width="1" />
<line x1="312.2" y1="231.37" x2="314.4" y2="231.37" stroke="#000" stroke-width="1" />
<line x1="312.2" y1="226.98000000000002" x2="314.4" y2="226.98000000000002" stroke="#000" stroke-width="1" />
<line x1="312.2" y1="222.59" x2="314.4" y2="222.59" stroke="#000" stroke-width="1" />
<line x1="309.9" y1="218.2" x2="314.4" y2="218.2" stroke="#000" stroke-width="1" />
<text x="305.0" y="221.296" style="font-family:'Liberation Sans',sans-serif;font-weight:bold;font-size:8.6px" fill="#000" text-anchor="end" >20</text>
<line x1="312.2" y1="213.81" x2="314.4" y2="213.81" stroke="#000" stroke-width="1" />
<line x1="312.2" y1="209.42000000000002" x2="314.4" y2="209.42000000000002" stroke="#000" stroke-width="1" />
<line x1="312.2" y1="205.03" x2="314.4" y2="205.03" stroke="#000" stroke-width="1" />
<line x1="312.2" y1="200.64000000000001" x2="314.4" y2="200.64000000000001" stroke="#000" stroke-width="1" />
<line x1="309.9" y1="196.25" x2="314.4" y2="196.25" stroke="#000" stroke-width="1" />
<text x="305.0" y="199.346" style="font-family:'Liberation Sans',sans-serif;font-weight:bold;font-size:8.6px" fill="#000" text-anchor="end" >25</text>
<line x1="312.2" y1="191.86" x2="314.4" y2="191.86" stroke="#000" stroke-width="1" />
<line x1="312.2" y1="187.47000000000003" x2="314.4" y2="187.47000000000003" stroke="#000" stroke-width="1" />
<line x1="312.2" y1="183.08" x2="314.4" y2="183.08" stroke="#000" stroke-width="1" />
<line x1="312.2" y1="178.69" x2="314.4" y2="178.69" stroke="#000" stroke-width="1" />
<line x1="309.9" y1="174.3" x2="314.4" y2="174.3" stroke="#000" stroke-width="1" />
<text x="305.0" y="177.39600000000002" style="font-family:'Liberation Sans',sans-serif;font-weight:bold;font-size:8.6px" fill="#000" text-anchor="end" >30</text>
<rect x="316.1" y="176.5" width="30.399999999999977" height="18.900000000000006" fill="#fff" stroke="#aaa" stroke-width="0.8"/>
<rect x="318.6" y="180.381" width="12.0" height="3.2" rx="1.4" fill="#000"/>
<rect x="319.1" y="187.7685" width="11.0" height="2.6" rx="1.2" fill="#bdbdbd" stroke="#000" stroke-width="0.9"/>
<text x="333.40000000000003" y="183.881" style="font-family:'Liberation Sans',sans-serif;font-weight:bold;font-size:5.4px" fill="#000" text-anchor="start" >Wt</text>
<text x="333.40000000000003" y="190.9685" style="font-family:'Liberation Sans',sans-serif;font-weight:bold;font-size:5.4px" fill="#000" text-anchor="start" >Jh<tspan dy='-2' style='font-size:4px'>-/-</tspan></text>
<text x="323" y="315.2" style="font-family:'Liberation Sans',sans-serif;font-weight:bold;font-size:7.9px" fill="#000" text-anchor="start" >CD40+</text>
<text x="361.8" y="316.3" style="font-family:'Liberation Sans',sans-serif;font-weight:bold;font-size:7.9px" fill="#000" text-anchor="start" >CD86+</text>
<text x="0" y="0" style="font-family:'Liberation Sans',sans-serif;font-weight:bold;font-size:8.8px" fill="#000" text-anchor="start" transform="translate(291.4,296.2) rotate(-90)" textLength="111.6" lengthAdjust="spacingAndGlyphs">% expression on microglia</text>
<line x1="453.0" y1="269.8" x2="453.0" y2="261.7" stroke="#000" stroke-width="1" />
<line x1="451.7" y1="261.7" x2="454.3" y2="261.7" stroke="#000" stroke-width="1" />
<rect x="445.4" y="269.8" width="15.200000000000045" height="37.5" fill="#000" stroke="#000" stroke-width="1"/>
<line x1="467.70000000000005" y1="233.7" x2="467.70000000000005" y2="229.5" stroke="#000" stroke-width="1" />
<line x1="466.40000000000003" y1="229.5" x2="469.00000000000006" y2="229.5" stroke="#000" stroke-width="1" />
<rect x="460.6" y="233.7" width="14.199999999999989" height="73.60000000000002" fill="#cdcdcd" stroke="#000" stroke-width="1"/>
<path d="M467.7,221.5 L468.46,223.25 L470.36,223.43 L468.94,224.7 L469.35,226.57 L467.7,225.6 L466.05,226.57 L466.46,224.7 L465.04,223.43 L466.94,223.25 L467.7,221.5" fill="#000" stroke="none" stroke-width="1" />
<line x1="489.5" y1="222.5" x2="489.5" y2="218.4" stroke="#000" stroke-width="1" />
<line x1="488.2" y1="218.4" x2="490.8" y2="218.4" stroke="#000" stroke-width="1" />
<rect x="482.1" y="222.5" width="14.799999999999955" height="84.80000000000001" fill="#000" stroke="#000" stroke-width="1"/>
<line x1="503.95" y1="186.4" x2="503.95" y2="184.5" stroke="#000" stroke-width="1" />
<line x1="502.65" y1="184.5" x2="505.25" y2="184.5" stroke="#000" stroke-width="1" />
<rect x="496.9" y="186.4" width="14.100000000000023" height="120.9" fill="#cdcdcd" stroke="#000" stroke-width="1"/>
<path d="M503.95,177.1 L504.71,178.85 L506.61,179.03 L505.19,180.3 L505.6,182.17 L503.95,181.2 L502.3,182.17 L502.71,180.3 L501.29,179.03 L503.19,178.85 L503.95,177.1" fill="#000" stroke="none" stroke-width="1" />
<path d="M438,172.8 L518.4,172.8 L518.4,307.3 L438,307.3 Z" fill="none" stroke="#000" stroke-width="1.5"/>
<line x1="433.5" y1="307.8" x2="438" y2="307.8" stroke="#000" stroke-width="1" />
<text x="428" y="310.896" style="font-family:'Liberation Sans',sans-serif;font-weight:bold;font-size:8.6px" fill="#000" text-anchor="end" >0</text>
<line x1="435.8" y1="303.334" x2="438" y2="303.334" stroke="#000" stroke-width="1" />
<line x1="435.8" y1="298.868" x2="438" y2="298.868" stroke="#000" stroke-width="1" />
<line x1="435.8" y1="294.402" x2="438" y2="294.402" stroke="#000" stroke-width="1" />
<line x1="435.8" y1="289.93600000000004" x2="438" y2="289.93600000000004" stroke="#000" stroke-width="1" />
<line x1="433.5" y1="285.47" x2="438" y2="285.47" stroke="#000" stroke-width="1" />
<text x="428" y="288.56600000000003" style="font-family:'Liberation Sans',sans-serif;font-weight:bold;font-size:8.6px" fill="#000" text-anchor="end" >1</text>
<line x1="435.8" y1="281.004" x2="438" y2="281.004" stroke="#000" stroke-width="1" />
<line x1="435.8" y1="276.538" x2="438" y2="276.538" stroke="#000" stroke-width="1" />
<line x1="435.8" y1="272.072" x2="438" y2="272.072" stroke="#000" stroke-width="1" />
<line x1="435.8" y1="267.606" x2="438" y2="267.606" stroke="#000" stroke-width="1" />
<line x1="433.5" y1="263.14000000000004" x2="438" y2="263.14000000000004" stroke="#000" stroke-width="1" />
<text x="428" y="266.23600000000005" style="font-family:'Liberation Sans',sans-serif;font-weight:bold;font-size:8.6px" fill="#000" text-anchor="end" >2</text>
<line x1="435.8" y1="258.67400000000004" x2="438" y2="258.67400000000004" stroke="#000" stroke-width="1" />
<line x1="435.8" y1="254.20800000000003" x2="438" y2="254.20800000000003" stroke="#000" stroke-width="1" />
<line x1="435.8" y1="249.74200000000002" x2="438" y2="249.74200000000002" stroke="#000" stroke-width="1" />
<line x1="435.8" y1="245.276" x2="438" y2="245.276" stroke="#000" stroke-width="1" />
<line x1="433.5" y1="240.81" x2="438" y2="240.81" stroke="#000" stroke-width="1" />
<text x="428" y="243.906" style="font-family:'Liberation Sans',sans-serif;font-weight:bold;font-size:8.6px" fill="#000" text-anchor="end" >3</text>
<line x1="435.8" y1="236.344" x2="438" y2="236.344" stroke="#000" stroke-width="1" />
<line x1="435.8" y1="231.878" x2="438" y2="231.878" stroke="#000" stroke-width="1" />
<line x1="435.8" y1="227.41199999999998" x2="438" y2="227.41199999999998" stroke="#000" stroke-width="1" />
<line x1="435.8" y1="222.946" x2="438" y2="222.946" stroke="#000" stroke-width="1" />
<line x1="433.5" y1="218.48000000000002" x2="438" y2="218.48000000000002" stroke="#000" stroke-width="1" />
<text x="428" y="221.57600000000002" style="font-family:'Liberation Sans',sans-serif;font-weight:bold;font-size:8.6px" fill="#000" text-anchor="end" >4</text>
<line x1="435.8" y1="214.014" x2="438" y2="214.014" stroke="#000" stroke-width="1" />
<line x1="435.8" y1="209.548" x2="438" y2="209.548" stroke="#000" stroke-width="1" />
<line x1="435.8" y1="205.082" x2="438" y2="205.082" stroke="#000" stroke-width="1" />
<line x1="435.8" y1="200.61599999999999" x2="438" y2="200.61599999999999" stroke="#000" stroke-width="1" />
<line x1="433.5" y1="196.14999999999998" x2="438" y2="196.14999999999998" stroke="#000" stroke-width="1" />
<text x="428" y="199.24599999999998" style="font-family:'Liberation Sans',sans-serif;font-weight:bold;font-size:8.6px" fill="#000" text-anchor="end" >5</text>
<line x1="435.8" y1="191.68399999999997" x2="438" y2="191.68399999999997" stroke="#000" stroke-width="1" />
<line x1="435.8" y1="187.21799999999996" x2="438" y2="187.21799999999996" stroke="#000" stroke-width="1" />
<line x1="435.8" y1="182.75199999999995" x2="438" y2="182.75199999999995" stroke="#000" stroke-width="1" />
<line x1="435.8" y1="178.28599999999997" x2="438" y2="178.28599999999997" stroke="#000" stroke-width="1" />
<line x1="433.5" y1="173.81999999999996" x2="438" y2="173.81999999999996" stroke="#000" stroke-width="1" />
<text x="428" y="176.91599999999997" style="font-family:'Liberation Sans',sans-serif;font-weight:bold;font-size:8.6px" fill="#000" text-anchor="end" >6</text>
<rect x="439.5" y="175.4" width="32.0" height="19.400000000000006" fill="#fff" stroke="#aaa" stroke-width="0.8"/>
<rect x="442.0" y="179.42600000000002" width="12.0" height="3.2" rx="1.4" fill="#000"/>
<rect x="442.5" y="187.001" width="11.0" height="2.6" rx="1.2" fill="#bdbdbd" stroke="#000" stroke-width="0.9"/>
<text x="456.8" y="182.92600000000002" style="font-family:'Liberation Sans',sans-serif;font-weight:bold;font-size:5.4px" fill="#000" text-anchor="start" >Wt</text>
<text x="456.8" y="190.20100000000002" style="font-family:'Liberation Sans',sans-serif;font-weight:bold;font-size:5.4px" fill="#000" text-anchor="start" >Jh<tspan dy='-2' style='font-size:4px'>-/-</tspan></text>
<text x="447.2" y="316.8" style="font-family:'Liberation Sans',sans-serif;font-weight:bold;font-size:7.9px" fill="#000" text-anchor="start" >CD40+</text>
<text x="486.8" y="318.8" style="font-family:'Liberation Sans',sans-serif;font-weight:bold;font-size:7.9px" fill="#000" text-anchor="start" >CD86+</text>
<text x="0" y="0" style="font-family:'Liberation Sans',sans-serif;font-weight:bold;font-size:8.1px" fill="#000" text-anchor="start" transform="translate(408.3,305.8) rotate(-90)" textLength="132" lengthAdjust="spacingAndGlyphs">MFI of CD40 and CD86 expression</text>
<text x="0" y="0" style="font-family:'Liberation Sans',sans-serif;font-weight:bold;font-size:8.1px" fill="#000" text-anchor="start" transform="translate(419.2,276.9) rotate(-90)" textLength="76.5" lengthAdjust="spacingAndGlyphs">on microglia (x 10<tspan dy='-2.5' style='font-size:5px'>3</tspan><tspan dy='2.5'>)</tspan></text>
<text x="89.2" y="176.2" style="font-family:'Liberation Serif',serif;font-weight:bold;font-size:12.9px" fill="#000" text-anchor="start" >CD45<tspan dy='-4.6' style='font-size:8.6px'>(int)</tspan><tspan dy='4.6'>CD11b</tspan><tspan dy='-4.8' style='font-size:8.5px'>+</tspan></text>
<line x1="88" y1="178.4" x2="180.6" y2="178.4" stroke="#000" stroke-width="1.3" />
<path d="M33.5,291.2 L35.5,288.8 L37.3,286 L38.9,283 L40.5,277 L41.8,271.5 L42.5,265 L43,260 L43.6,252 L45,249.5 L46.3,244 L47.5,238.4 L48.3,233 L49,228 L49.6,222 L50.3,215.2 L51.3,214.5 L52.3,210 L53.3,207.4 L54.2,206.7 L55.1,207.8 L56.1,210.8 L56.8,215 L57.6,221 L58.8,226 L60,230 L60.5,240 L61,250 L61.4,260 L62.2,266 L63.1,271.5 L64.5,277.5 L66,283 L67.5,286.5 L68.9,288.8 L70.5,290.3 L72.4,291.2 L33.5,291.2" fill="#383838" stroke="none" stroke-width="1" />
<path d="M57.6,219 L59.3,214 L60.8,208.6 L62.4,213 L63.4,218 L64.6,221 L65.2,228 L65.2,236 L57,236 L57.6,228 Z" fill="#7a1a40"/>
<path d="M58.6,216.5 L60.8,208.8 L62.6,214.5" fill="none" stroke="#2a2a6a" stroke-width="2.2" stroke-linejoin="round"/>
<path d="M62.4,215 L63.2,224 L63.6,232 L64.9,242 L66.4,252" fill="none" stroke="#6a6ab0" stroke-width="2.2" stroke-linejoin="round"/>
<path d="M35.5,291 L38,290 L40,288.8 L42.5,286 L44.7,283 L46.5,277.5 L48.1,271.5 L49.6,266 L51,260 L52.2,255 L53.2,250.9 L54.3,244.5 L55.3,238.4 L56.6,233 L57.8,228 L58.3,222.5 L59,218.5 L60,216.5 L61.2,220.5 L62.2,221.5 L63.3,219.3 L64.5,220.6 L64.9,224 L65.2,228 L66,236 L66.8,245 L67.8,252 L69,260 L70.3,266 L71.8,271.5 L73.5,277.5 L75.3,283 L77.5,286.5 L80.4,288.8 L83.5,290.3 L87.4,291 L131,291.1" fill="none" stroke="#c8142a" stroke-width="3.3" stroke-linejoin="round"/>
<rect x="32.2" y="193.4" width="99.49999999999999" height="99.29999999999998" fill="none" stroke="#999" stroke-width="1"/>
<text x="27.800000000000004" y="200.60000000000002" style="font-family:'Liberation Sans',sans-serif;font-size:5px" fill="#444" text-anchor="end" >100</text>
<line x1="30.200000000000003" y1="198.8" x2="32.2" y2="198.8" stroke="#555" stroke-width="0.8" />
<line x1="31.000000000000004" y1="203.42000000000002" x2="32.2" y2="203.42000000000002" stroke="#777" stroke-width="0.6" />
<line x1="31.000000000000004" y1="208.04000000000002" x2="32.2" y2="208.04000000000002" stroke="#777" stroke-width="0.6" />
<line x1="31.000000000000004" y1="212.66000000000003" x2="32.2" y2="212.66000000000003" stroke="#777" stroke-width="0.6" />
<text x="27.800000000000004" y="219.08" style="font-family:'Liberation Sans',sans-serif;font-size:5px" fill="#444" text-anchor="end" >80</text>
<line x1="30.200000000000003" y1="217.28" x2="32.2" y2="217.28" stroke="#555" stroke-width="0.8" />
<line x1="31.000000000000004" y1="221.9" x2="32.2" y2="221.9" stroke="#777" stroke-width="0.6" />
<line x1="31.000000000000004" y1="226.52" x2="32.2" y2="226.52" stroke="#777" stroke-width="0.6" />
<line x1="31.000000000000004" y1="231.14" x2="32.2" y2="231.14" stroke="#777" stroke-width="0.6" />
<text x="27.800000000000004" y="237.56000000000003" style="font-family:'Liberation Sans',sans-serif;font-size:5px" fill="#444" text-anchor="end" >60</text>
<line x1="30.200000000000003" y1="235.76000000000002" x2="32.2" y2="235.76000000000002" stroke="#555" stroke-width="0.8" />
<line x1="31.000000000000004" y1="240.38000000000002" x2="32.2" y2="240.38000000000002" stroke="#777" stroke-width="0.6" />
<line x1="31.000000000000004" y1="245.00000000000003" x2="32.2" y2="245.00000000000003" stroke="#777" stroke-width="0.6" />
<line x1="31.000000000000004" y1="249.62" x2="32.2" y2="249.62" stroke="#777" stroke-width="0.6" />
<text x="27.800000000000004" y="256.04" style="font-family:'Liberation Sans',sans-serif;font-size:5px" fill="#444" text-anchor="end" >40</text>
<line x1="30.200000000000003" y1="254.24" x2="32.2" y2="254.24" stroke="#555" stroke-width="0.8" />
<line x1="31.000000000000004" y1="258.86" x2="32.2" y2="258.86" stroke="#777" stroke-width="0.6" />
<line x1="31.000000000000004" y1="263.48" x2="32.2" y2="263.48" stroke="#777" stroke-width="0.6" />
<line x1="31.000000000000004" y1="268.1" x2="32.2" y2="268.1" stroke="#777" stroke-width="0.6" />
<text x="27.800000000000004" y="274.52000000000004" style="font-family:'Liberation Sans',sans-serif;font-size:5px" fill="#444" text-anchor="end" >20</text>
<line x1="30.200000000000003" y1="272.72" x2="32.2" y2="272.72" stroke="#555" stroke-width="0.8" />
<line x1="31.000000000000004" y1="277.34000000000003" x2="32.2" y2="277.34000000000003" stroke="#777" stroke-width="0.6" />
<line x1="31.000000000000004" y1="281.96000000000004" x2="32.2" y2="281.96000000000004" stroke="#777" stroke-width="0.6" />
<line x1="31.000000000000004" y1="286.58000000000004" x2="32.2" y2="286.58000000000004" stroke="#777" stroke-width="0.6" />
<text x="27.800000000000004" y="293.00000000000006" style="font-family:'Liberation Sans',sans-serif;font-size:5px" fill="#444" text-anchor="end" >0</text>
<line x1="30.200000000000003" y1="291.20000000000005" x2="32.2" y2="291.20000000000005" stroke="#555" stroke-width="0.8" />
<text x="39.6" y="304.5" style="font-family:'Liberation Sans',sans-serif;font-size:5.4px" fill="#333" text-anchor="middle" >0</text>
<line x1="39.6" y1="292.7" x2="39.6" y2="294.2" stroke="#555" stroke-width="0.8" />
<text x="53.2" y="304.5" style="font-family:'Liberation Sans',sans-serif;font-size:5.4px" fill="#333" text-anchor="middle" >10</text>
<text x="56.3" y="301" style="font-family:'Liberation Sans',sans-serif;font-size:4.2px" fill="#333" text-anchor="start" >2</text>
<line x1="54" y1="292.7" x2="54" y2="294.2" stroke="#555" stroke-width="0.8" />
<text x="77.2" y="304.5" style="font-family:'Liberation Sans',sans-serif;font-size:5.4px" fill="#333" text-anchor="middle" >10</text>
<text x="80.3" y="301" style="font-family:'Liberation Sans',sans-serif;font-size:4.2px" fill="#333" text-anchor="start" >3</text>
<line x1="78" y1="292.7" x2="78" y2="294.2" stroke="#555" stroke-width="0.8" />
<text x="100.7" y="304.5" style="font-family:'Liberation Sans',sans-serif;font-size:5.4px" fill="#333" text-anchor="middle" >10</text>
<text x="103.8" y="301" style="font-family:'Liberation Sans',sans-serif;font-size:4.2px" fill="#333" text-anchor="start" >4</text>
<line x1="101.5" y1="292.7" x2="101.5" y2="294.2" stroke="#555" stroke-width="0.8" />
<text x="123.4" y="304.5" style="font-family:'Liberation Sans',sans-serif;font-size:5.4px" fill="#333" text-anchor="middle" >10</text>
<text x="126.5" y="301" style="font-family:'Liberation Sans',sans-serif;font-size:4.2px" fill="#333" text-anchor="start" >5</text>
<line x1="124.2" y1="292.7" x2="124.2" y2="294.2" stroke="#555" stroke-width="0.8" />
<text x="76.2" y="215" style="font-family:'Liberation Serif',serif;font-weight:bold;font-size:14.5px" fill="#111a42" text-anchor="start" >9.1%</text>
<text x="76.2" y="232.5" style="font-family:'Liberation Serif',serif;font-weight:bold;font-size:14.5px" fill="#cc1628" text-anchor="start" >5.9%</text>
<line x1="14.9" y1="307.3" x2="14.9" y2="201" stroke="#000" stroke-width="2.2" />
<path d="M10.9,207 L14.9,199.6 L18.9,207" fill="none" stroke="#000" stroke-width="2.1" />
<line x1="13.8" y1="306.3" x2="131.5" y2="307.1" stroke="#000" stroke-width="2.3" />
<path d="M125.3,303.3 L132.4,307.2 L125.3,311.2" fill="none" stroke="#000" stroke-width="2.2" />
<text x="0" y="0" style="font-family:'Liberation Serif',serif;font-weight:bold;font-size:14.4px" fill="#000" text-anchor="start" transform="translate(10.5,290.2) rotate(-90)" textLength="56" lengthAdjust="spacingAndGlyphs">% of Max</text>
<text x="54.6" y="320.6" style="font-family:'Liberation Serif',serif;font-weight:bold;font-size:12.9px" fill="#000" text-anchor="start" >CD40<tspan dx='0.4' dy='-2.7' style='font-size:9.2px'>+</tspan></text>
<rect x="154.2" y="193.2" width="99.9" height="98.40000000000003" fill="none" stroke="#999" stroke-width="1"/>
<path d="M154.8,196 L156.3,205 L157.6,212 L159,218 L160.8,222.5 L162.5,227 L164.5,231 L166,234 L167.5,236 L169,233 L170.5,229 L172,231.5 L173.5,228.5 L175,226 L176.5,223 L178,219.5 L178,242 L154.6,242" fill="#262650" stroke="none" stroke-width="1" />
<path d="M154.6,291.2 L154.6,197 L155.6,203 L156.6,210 L157.6,218 L158.6,225 L159.6,231 L160.6,236 L161.6,238.5 L162.6,236 L163.6,239 L164.6,237 L165.6,239.5 L166.8,237.5 L168,240 L169.2,237 L170.4,239 L171.6,236.5 L172.8,238.5 L174,236.5 L175.2,238.5 L176.4,237 L177.4,239 L178.4,242 L179.3,244 L180.3,239.5 L181.2,242 L182.2,244 L183.4,245 L184.2,250 L185,256.5 L187.6,258.1 L188.3,264 L188.9,270.3 L190,275 L191,279.7 L192.3,284 L193.6,287.8 L196,291.2 L154.6,291.2" fill="#383838" stroke="none" stroke-width="1" />
<path d="M154.8,196 L156.3,205 L157.6,212 L159,218 L160.8,222.5 L162.5,227 L164.5,231 L166,234 L167.5,236 L169,233 L170.5,229 L172,231.5 L173.5,228.5 L175,226 L176.5,223 L178,219.5 L179.5,216 L181,213 L182.5,215 L184,217.5 L185.5,220 L187,224 L188.3,229 L189.5,235 L190.5,242 L191.5,250 L193,257 L195,266 L197,275 L199,283 L201.5,288.5 L205,290.6 L210,291.2 L253.6,291.2" fill="none" stroke="#2c2c66" stroke-width="2.4" stroke-linejoin="round"/>
<path d="M154.8,291 L154.8,195 L156.2,201 L157.6,207.5 L159.1,213.4 L160.9,218 L162.7,222.3 L165,226.5 L167.2,230.3 L169,234.8 L169.9,227 L170.6,224.8 L172.4,222.4 L174.5,223.5 L176,223.2 L176.9,218 L178.7,215.2 L180,212 L181.4,209 L182.6,210.5 L183.7,211.6 L185.7,208.5 L187.7,205.4 L188.6,207 L189.2,212 L189.8,222 L190.6,235 L191.5,245.5 L192.5,252 L193.5,257 L195.3,266.5 L197.2,276 L199.3,283.5 L202,288.6 L205.5,290.7 L210,291.2 L253.6,291.2" fill="none" stroke="#d01820" stroke-width="2.7" stroke-linejoin="round"/>
<path d="M190.4,232 L191.3,245.5 L192.3,250 L193.6,258 L195.7,270.3 L197,279.7 L198.5,284.5 L200.4,287.8 L202.5,289.8 L205,290.8 L210,291.2 L253.6,291.2" fill="none" stroke="#8a1228" stroke-width="2.6" stroke-linejoin="round"/>
<text x="149.79999999999998" y="200.60000000000002" style="font-family:'Liberation Sans',sans-serif;font-size:5px" fill="#444" text-anchor="end" >100</text>
<line x1="152.2" y1="198.8" x2="154.2" y2="198.8" stroke="#555" stroke-width="0.8" />
<line x1="153.0" y1="203.42000000000002" x2="154.2" y2="203.42000000000002" stroke="#777" stroke-width="0.6" />
<line x1="153.0" y1="208.04000000000002" x2="154.2" y2="208.04000000000002" stroke="#777" stroke-width="0.6" />
<line x1="153.0" y1="212.66000000000003" x2="154.2" y2="212.66000000000003" stroke="#777" stroke-width="0.6" />
<text x="149.79999999999998" y="219.08" style="font-family:'Liberation Sans',sans-serif;font-size:5px" fill="#444" text-anchor="end" >80</text>
<line x1="152.2" y1="217.28" x2="154.2" y2="217.28" stroke="#555" stroke-width="0.8" />
<line x1="153.0" y1="221.9" x2="154.2" y2="221.9" stroke="#777" stroke-width="0.6" />
<line x1="153.0" y1="226.52" x2="154.2" y2="226.52" stroke="#777" stroke-width="0.6" />
<line x1="153.0" y1="231.14" x2="154.2" y2="231.14" stroke="#777" stroke-width="0.6" />
<text x="149.79999999999998" y="237.56000000000003" style="font-family:'Liberation Sans',sans-serif;font-size:5px" fill="#444" text-anchor="end" >60</text>
<line x1="152.2" y1="235.76000000000002" x2="154.2" y2="235.76000000000002" stroke="#555" stroke-width="0.8" />
<line x1="153.0" y1="240.38000000000002" x2="154.2" y2="240.38000000000002" stroke="#777" stroke-width="0.6" />
<line x1="153.0" y1="245.00000000000003" x2="154.2" y2="245.00000000000003" stroke="#777" stroke-width="0.6" />
<line x1="153.0" y1="249.62" x2="154.2" y2="249.62" stroke="#777" stroke-width="0.6" />
<text x="149.79999999999998" y="256.04" style="font-family:'Liberation Sans',sans-serif;font-size:5px" fill="#444" text-anchor="end" >40</text>
<line x1="152.2" y1="254.24" x2="154.2" y2="254.24" stroke="#555" stroke-width="0.8" />
<line x1="153.0" y1="258.86" x2="154.2" y2="258.86" stroke="#777" stroke-width="0.6" />
<line x1="153.0" y1="263.48" x2="154.2" y2="263.48" stroke="#777" stroke-width="0.6" />
<line x1="153.0" y1="268.1" x2="154.2" y2="268.1" stroke="#777" stroke-width="0.6" />
<text x="149.79999999999998" y="274.52000000000004" style="font-family:'Liberation Sans',sans-serif;font-size:5px" fill="#444" text-anchor="end" >20</text>
<line x1="152.2" y1="272.72" x2="154.2" y2="272.72" stroke="#555" stroke-width="0.8" />
<line x1="153.0" y1="277.34000000000003" x2="154.2" y2="277.34000000000003" stroke="#777" stroke-width="0.6" />
<line x1="153.0" y1="281.96000000000004" x2="154.2" y2="281.96000000000004" stroke="#777" stroke-width="0.6" />
<line x1="153.0" y1="286.58000000000004" x2="154.2" y2="286.58000000000004" stroke="#777" stroke-width="0.6" />
<text x="149.79999999999998" y="293.00000000000006" style="font-family:'Liberation Sans',sans-serif;font-size:5px" fill="#444" text-anchor="end" >0</text>
<line x1="152.2" y1="291.20000000000005" x2="154.2" y2="291.20000000000005" stroke="#555" stroke-width="0.8" />
<text x="162" y="304.5" style="font-family:'Liberation Sans',sans-serif;font-size:5.4px" fill="#333" text-anchor="middle" >0</text>
<line x1="162" y1="291.6" x2="162" y2="293.1" stroke="#555" stroke-width="0.8" />
<text x="175.0" y="304.5" style="font-family:'Liberation Sans',sans-serif;font-size:5.4px" fill="#333" text-anchor="middle" >10</text>
<text x="178.10000000000002" y="301" style="font-family:'Liberation Sans',sans-serif;font-size:4.2px" fill="#333" text-anchor="start" >2</text>
<line x1="175.8" y1="291.6" x2="175.8" y2="293.1" stroke="#555" stroke-width="0.8" />
<text x="198.1" y="304.5" style="font-family:'Liberation Sans',sans-serif;font-size:5.4px" fill="#333" text-anchor="middle" >10</text>
<text x="201.20000000000002" y="301" style="font-family:'Liberation Sans',sans-serif;font-size:4.2px" fill="#333" text-anchor="start" >3</text>
<line x1="198.9" y1="291.6" x2="198.9" y2="293.1" stroke="#555" stroke-width="0.8" />
<text x="221.2" y="304.5" style="font-family:'Liberation Sans',sans-serif;font-size:5.4px" fill="#333" text-anchor="middle" >10</text>
<text x="224.3" y="301" style="font-family:'Liberation Sans',sans-serif;font-size:4.2px" fill="#333" text-anchor="start" >4</text>
<line x1="222" y1="291.6" x2="222" y2="293.1" stroke="#555" stroke-width="0.8" />
<text x="244.2" y="304.5" style="font-family:'Liberation Sans',sans-serif;font-size:5.4px" fill="#333" text-anchor="middle" >10</text>
<text x="247.3" y="301" style="font-family:'Liberation Sans',sans-serif;font-size:4.2px" fill="#333" text-anchor="start" >5</text>
<line x1="245" y1="291.6" x2="245" y2="293.1" stroke="#555" stroke-width="0.8" />
<text x="209.9" y="213" style="font-family:'Liberation Serif',serif;font-weight:bold;font-size:14.5px" fill="#111a42" text-anchor="start" >25.3%</text>
<text x="210.5" y="230.3" style="font-family:'Liberation Serif',serif;font-weight:bold;font-size:14.5px" fill="#cc1628" text-anchor="start" >18.8%</text>
<line x1="143.4" y1="307.2" x2="254" y2="307.2" stroke="#000" stroke-width="2.2" />
<path d="M248,303.3 L255.1,307.2 L248,311.2" fill="none" stroke="#000" stroke-width="2.2" />
<text x="193.4" y="324.5" style="font-family:'Liberation Serif',serif;font-weight:bold;font-size:13.3px" fill="#000" text-anchor="start" >CD86<tspan dx='-0.6' dy='-3.6' style='font-size:9.2px'>+</tspan></text>
</svg>
</body></html>
